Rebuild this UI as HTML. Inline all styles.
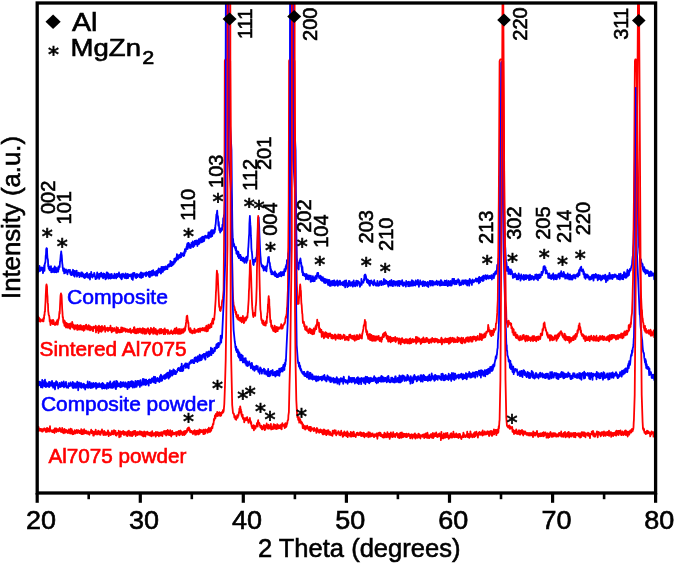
<!DOCTYPE html>
<html><head><meta charset="utf-8"><title>XRD patterns</title>
<style>
html,body{margin:0;padding:0;background:#fff;}
svg{display:block}
text{font-family:"Liberation Sans",Arial,sans-serif;fill:#000;stroke:#000;stroke-width:0.6px}
text.a{font-family:"DejaVu Sans",sans-serif;font-size:22px;text-anchor:middle;stroke:#000;stroke-width:0.7px}
text.b{fill:#0000ff;stroke:#0000ff}
text.r{fill:#ff0000;stroke:#ff0000}
</style></head><body>
<svg width="675" height="564" viewBox="0 0 675 564">
<rect width="675" height="564" fill="#fff"/>
<defs><clipPath id="c"><rect x="37.2" y="3" width="618.4" height="490"/></clipPath></defs>
<g clip-path="url(#c)">
<path d="M37.2,268.5 L37.5,272.6 L37.7,267.8 L38.0,272.6 L38.2,269.0 L38.5,270.1 L38.7,271.7 L39.0,269.2 L39.2,271.1 L39.5,266.0 L39.7,270.6 L40.0,269.1 L40.2,268.7 L40.5,270.8 L40.7,268.6 L41.0,269.0 L41.2,267.4 L41.5,267.6 L41.7,268.0 L42.0,268.6 L42.2,270.1 L42.5,267.7 L42.7,268.6 L43.0,273.1 L43.2,271.5 L43.5,270.3 L43.7,268.5 L44.0,266.7 L44.2,265.3 L44.5,270.8 L44.7,264.5 L45.0,262.8 L45.2,263.0 L45.5,261.0 L45.7,256.0 L46.0,254.5 L46.2,249.2 L46.5,248.2 L46.7,249.1 L47.0,248.5 L47.2,254.2 L47.5,258.7 L47.7,258.7 L48.0,260.4 L48.2,266.5 L48.5,264.8 L48.7,268.6 L49.0,268.6 L49.2,266.6 L49.5,269.5 L49.7,270.3 L50.0,270.1 L50.2,267.7 L50.5,270.1 L50.7,269.2 L51.0,266.2 L51.2,272.1 L51.5,272.0 L51.7,272.3 L52.0,269.0 L52.2,269.9 L52.5,268.6 L52.7,271.1 L53.0,271.6 L53.2,271.8 L53.5,269.8 L53.7,268.2 L54.0,271.5 L54.2,272.3 L54.5,271.4 L54.7,266.3 L55.0,270.2 L55.2,272.2 L55.5,271.1 L55.7,270.9 L56.0,267.6 L56.2,270.1 L56.5,272.4 L56.7,271.5 L57.0,271.3 L57.2,271.0 L57.5,269.9 L57.7,271.6 L58.0,267.7 L58.2,271.8 L58.5,266.5 L58.7,269.6 L59.0,267.6 L59.2,267.0 L59.5,267.2 L59.7,266.9 L60.0,261.5 L60.2,261.3 L60.5,257.8 L60.7,255.2 L61.0,253.3 L61.2,251.4 L61.5,254.6 L61.7,255.0 L62.0,259.2 L62.2,263.0 L62.5,264.8 L62.7,267.6 L63.0,268.9 L63.2,271.0 L63.5,270.1 L63.7,270.0 L64.0,268.5 L64.2,273.4 L64.5,269.6 L64.7,270.0 L65.0,270.1 L65.2,269.6 L65.5,272.8 L65.7,271.5 L66.0,269.5 L66.2,270.3 L66.5,270.6 L66.7,272.3 L67.0,271.1 L67.2,272.6 L67.5,274.3 L67.7,271.7 L68.0,272.2 L68.2,269.8 L68.5,271.6 L68.7,270.8 L69.0,270.1 L69.2,270.9 L69.5,270.6 L69.7,272.1 L70.0,269.8 L70.2,273.8 L70.5,272.0 L70.7,274.1 L71.0,274.9 L71.2,274.1 L71.5,275.2 L71.7,273.8 L72.0,272.0 L72.2,271.7 L72.5,273.2 L72.7,270.6 L73.0,269.8 L73.2,272.3 L73.5,275.3 L73.7,273.0 L74.0,275.8 L74.2,272.5 L74.5,271.0 L74.7,276.7 L75.0,272.9 L75.2,272.9 L75.5,273.8 L75.7,271.1 L76.0,274.5 L76.2,271.5 L76.5,272.6 L76.7,270.7 L77.0,276.7 L77.2,273.2 L77.5,274.7 L77.7,275.3 L78.0,274.8 L78.2,274.6 L78.5,272.7 L78.7,272.7 L79.0,275.5 L79.2,272.8 L79.5,277.2 L79.7,275.8 L80.0,274.0 L80.2,276.0 L80.5,273.9 L80.7,274.6 L81.0,275.4 L81.2,272.3 L81.5,274.4 L81.7,276.5 L82.0,272.4 L82.2,274.4 L82.5,275.5 L82.7,273.2 L83.0,276.3 L83.2,273.8 L83.5,274.7 L83.7,277.4 L84.0,274.6 L84.2,276.5 L84.5,275.8 L84.7,278.2 L85.0,276.7 L85.2,274.2 L85.5,277.1 L85.7,273.9 L86.0,274.8 L86.2,274.2 L86.5,276.9 L86.7,273.2 L87.0,272.8 L87.2,275.8 L87.5,276.9 L87.7,277.5 L88.0,276.9 L88.2,275.4 L88.5,276.2 L88.7,277.2 L89.0,274.2 L89.2,278.2 L89.5,274.8 L89.7,273.9 L90.0,279.5 L90.2,275.4 L90.5,276.7 L90.7,276.0 L91.0,276.5 L91.2,271.9 L91.5,275.3 L91.7,276.9 L92.0,276.0 L92.2,274.7 L92.5,277.7 L92.7,275.2 L93.0,276.0 L93.2,274.7 L93.5,276.2 L93.7,274.5 L94.0,274.4 L94.2,272.8 L94.5,273.7 L94.7,274.4 L95.0,277.2 L95.2,276.4 L95.5,279.1 L95.7,278.5 L96.0,278.3 L96.2,278.3 L96.5,277.9 L96.7,278.6 L97.0,274.2 L97.2,272.4 L97.5,275.3 L97.7,274.4 L98.0,277.3 L98.2,274.6 L98.5,275.8 L98.7,274.5 L99.0,274.0 L99.2,278.9 L99.5,275.7 L99.7,276.6 L100.0,273.7 L100.2,275.8 L100.5,276.6 L100.7,275.1 L101.0,274.7 L101.2,272.6 L101.5,274.6 L101.7,273.8 L102.0,276.2 L102.2,276.1 L102.5,277.6 L102.7,275.0 L103.0,273.8 L103.2,278.3 L103.5,273.5 L103.7,274.1 L104.0,277.3 L104.2,277.3 L104.5,273.8 L104.7,274.4 L105.0,275.3 L105.2,277.4 L105.5,279.4 L105.7,275.8 L106.0,275.1 L106.2,278.7 L106.5,275.9 L106.7,272.3 L107.0,275.4 L107.2,276.5 L107.5,272.6 L107.7,277.6 L108.0,277.8 L108.2,273.4 L108.5,278.6 L108.7,276.3 L109.0,278.3 L109.2,277.3 L109.5,278.1 L109.7,275.1 L110.0,274.2 L110.2,274.7 L110.5,278.1 L110.7,278.5 L111.0,278.3 L111.2,276.4 L111.5,277.7 L111.7,274.0 L112.0,275.3 L112.2,275.7 L112.5,277.9 L112.7,277.7 L113.0,275.9 L113.2,276.5 L113.5,276.9 L113.7,278.0 L114.0,275.2 L114.2,278.3 L114.5,273.7 L114.7,274.6 L115.0,276.6 L115.2,277.2 L115.5,275.2 L115.7,274.8 L116.0,278.1 L116.2,278.4 L116.5,276.1 L116.7,273.9 L117.0,276.2 L117.2,275.2 L117.5,274.1 L117.7,277.0 L118.0,274.1 L118.2,274.4 L118.5,274.1 L118.7,276.2 L119.0,272.5 L119.2,275.6 L119.5,274.1 L119.7,276.0 L120.0,277.3 L120.2,277.2 L120.5,275.2 L120.7,274.9 L121.0,278.7 L121.2,277.9 L121.5,274.1 L121.7,279.3 L122.0,278.3 L122.2,275.0 L122.5,276.1 L122.7,275.0 L123.0,273.6 L123.2,276.6 L123.5,275.4 L123.7,276.2 L124.0,276.1 L124.2,274.9 L124.5,277.8 L124.7,275.0 L125.0,278.1 L125.2,274.8 L125.5,273.4 L125.7,275.6 L126.0,276.5 L126.2,274.1 L126.5,278.4 L126.7,275.4 L127.0,274.2 L127.2,278.0 L127.5,273.8 L127.7,278.2 L128.0,276.3 L128.2,278.0 L128.4,276.5 L128.7,274.3 L128.9,275.4 L129.2,275.0 L129.4,275.9 L129.7,276.1 L129.9,276.0 L130.2,274.7 L130.4,275.4 L130.7,276.0 L130.9,275.8 L131.2,274.4 L131.4,277.6 L131.7,277.0 L131.9,279.1 L132.2,274.1 L132.4,277.7 L132.7,276.6 L132.9,279.9 L133.2,272.9 L133.4,275.6 L133.7,275.9 L133.9,275.4 L134.2,274.3 L134.4,273.0 L134.7,274.3 L134.9,276.2 L135.2,275.4 L135.4,277.6 L135.7,275.2 L135.9,275.1 L136.2,278.2 L136.4,274.2 L136.7,274.9 L136.9,273.8 L137.2,276.0 L137.4,277.0 L137.7,276.7 L137.9,274.6 L138.2,275.4 L138.4,275.4 L138.7,274.8 L138.9,275.5 L139.2,274.3 L139.4,274.9 L139.7,277.3 L139.9,274.6 L140.2,276.1 L140.4,273.4 L140.7,272.8 L140.9,272.4 L141.2,278.0 L141.4,275.3 L141.7,276.8 L141.9,272.8 L142.2,275.2 L142.4,275.5 L142.7,273.3 L142.9,277.3 L143.2,273.4 L143.4,275.8 L143.7,274.8 L143.9,273.5 L144.2,274.3 L144.4,273.9 L144.7,273.8 L144.9,274.4 L145.2,272.9 L145.4,274.7 L145.7,275.8 L145.9,276.2 L146.2,275.7 L146.4,272.2 L146.7,272.7 L146.9,274.3 L147.2,273.1 L147.4,274.2 L147.7,272.9 L147.9,273.7 L148.2,274.9 L148.4,275.6 L148.7,272.0 L148.9,276.5 L149.2,275.4 L149.4,271.7 L149.7,273.2 L149.9,277.2 L150.2,271.7 L150.4,275.7 L150.7,271.9 L150.9,272.5 L151.2,273.8 L151.4,275.5 L151.7,271.7 L151.9,270.8 L152.2,275.5 L152.4,273.9 L152.7,272.2 L152.9,274.7 L153.2,270.1 L153.4,274.3 L153.7,274.9 L153.9,274.6 L154.2,273.3 L154.4,274.2 L154.7,274.5 L154.9,271.9 L155.2,273.8 L155.4,274.7 L155.7,275.6 L155.9,274.1 L156.2,275.4 L156.4,270.8 L156.7,271.6 L156.9,271.4 L157.2,275.7 L157.4,272.2 L157.7,270.6 L157.9,269.9 L158.2,271.0 L158.4,272.9 L158.7,268.3 L158.9,270.3 L159.2,270.6 L159.4,271.5 L159.7,271.6 L159.9,272.1 L160.2,268.9 L160.4,271.5 L160.7,273.1 L160.9,273.5 L161.2,273.2 L161.4,266.8 L161.7,272.3 L161.9,271.5 L162.2,270.3 L162.4,267.0 L162.7,268.6 L162.9,271.8 L163.2,268.8 L163.4,268.6 L163.7,266.8 L163.9,270.3 L164.2,268.7 L164.4,267.1 L164.7,269.6 L164.9,267.3 L165.2,268.3 L165.4,266.5 L165.7,269.4 L165.9,267.1 L166.2,268.5 L166.4,267.7 L166.7,267.7 L166.9,267.1 L167.2,266.3 L167.4,269.2 L167.7,265.2 L167.9,264.9 L168.2,266.9 L168.4,265.7 L168.7,264.3 L168.9,264.4 L169.2,265.1 L169.4,266.5 L169.7,263.8 L169.9,264.4 L170.2,265.9 L170.4,260.9 L170.7,263.8 L170.9,266.1 L171.2,266.1 L171.4,265.5 L171.7,261.9 L171.9,262.8 L172.2,264.5 L172.4,265.4 L172.7,263.1 L172.9,264.6 L173.2,263.7 L173.4,261.7 L173.7,264.2 L173.9,261.5 L174.2,260.5 L174.4,258.6 L174.7,262.4 L174.9,262.6 L175.2,258.9 L175.4,261.2 L175.7,258.2 L175.9,261.0 L176.2,260.4 L176.4,257.1 L176.7,258.0 L176.9,254.1 L177.2,255.2 L177.4,256.8 L177.7,257.4 L177.9,259.6 L178.2,258.2 L178.4,255.7 L178.7,258.2 L178.9,256.1 L179.2,257.2 L179.4,254.6 L179.7,255.6 L179.9,257.8 L180.2,255.0 L180.4,254.8 L180.7,257.2 L180.9,252.8 L181.2,257.2 L181.4,255.1 L181.7,255.3 L181.9,254.7 L182.2,255.1 L182.4,253.3 L182.7,254.6 L182.9,255.3 L183.2,253.9 L183.4,256.1 L183.7,253.1 L183.9,253.0 L184.2,255.6 L184.4,251.3 L184.7,253.6 L184.9,249.2 L185.2,250.6 L185.4,249.2 L185.7,251.6 L185.9,248.8 L186.2,249.4 L186.4,247.6 L186.7,246.2 L186.9,246.1 L187.2,244.8 L187.4,243.3 L187.7,249.0 L187.9,246.3 L188.2,244.3 L188.4,242.8 L188.7,243.4 L188.9,243.3 L189.2,244.7 L189.4,244.7 L189.7,247.8 L189.9,247.4 L190.2,247.7 L190.4,246.9 L190.7,248.1 L190.9,244.6 L191.2,245.6 L191.4,243.0 L191.7,245.2 L191.9,245.2 L192.2,246.5 L192.4,244.1 L192.7,241.3 L192.9,243.9 L193.2,247.1 L193.4,242.4 L193.7,243.4 L193.9,242.7 L194.2,244.9 L194.4,245.9 L194.7,241.0 L194.9,243.3 L195.2,244.3 L195.4,241.2 L195.7,243.4 L195.9,244.2 L196.2,240.5 L196.4,242.6 L196.7,240.7 L196.9,242.8 L197.2,241.2 L197.4,246.0 L197.7,241.3 L197.9,241.6 L198.2,241.8 L198.4,240.2 L198.7,239.2 L198.9,244.0 L199.2,243.8 L199.4,242.4 L199.7,243.2 L199.9,240.7 L200.2,239.5 L200.4,238.2 L200.7,239.4 L200.9,240.3 L201.2,238.9 L201.4,242.2 L201.7,242.3 L201.9,237.1 L202.2,240.2 L202.4,240.3 L202.7,241.9 L202.9,236.7 L203.2,239.3 L203.4,238.0 L203.7,237.3 L203.9,236.9 L204.2,241.0 L204.4,236.3 L204.7,238.7 L204.9,237.7 L205.2,235.7 L205.4,237.2 L205.7,237.1 L205.9,236.7 L206.2,236.1 L206.4,236.1 L206.7,236.5 L206.9,238.0 L207.2,237.8 L207.4,237.0 L207.7,235.3 L207.9,236.6 L208.2,235.3 L208.4,232.5 L208.7,234.8 L208.9,238.4 L209.2,235.6 L209.4,233.1 L209.7,232.4 L209.9,233.9 L210.2,233.8 L210.4,235.8 L210.7,231.1 L210.9,237.0 L211.2,231.5 L211.4,230.2 L211.7,231.8 L211.9,234.2 L212.2,236.2 L212.4,230.1 L212.7,231.9 L212.9,232.1 L213.2,230.4 L213.4,230.2 L213.7,230.6 L213.9,233.6 L214.2,230.8 L214.4,229.9 L214.7,232.3 L214.9,227.9 L215.2,229.6 L215.4,225.3 L215.7,224.1 L215.9,221.4 L216.2,217.4 L216.4,214.3 L216.7,217.8 L216.9,213.3 L217.2,210.7 L217.4,214.4 L217.7,215.5 L217.9,216.1 L218.2,220.3 L218.4,225.6 L218.7,221.8 L218.9,224.0 L219.2,228.8 L219.4,230.3 L219.7,228.7 L219.9,230.7 L220.2,232.6 L220.4,231.8 L220.7,228.5 L220.9,229.4 L221.2,231.1 L221.4,228.7 L221.7,230.2 L221.9,227.9 L222.2,229.9 L222.4,224.7 L222.7,226.1 L222.9,226.3 L223.2,218.2 L223.4,220.7 L223.7,220.5 L223.9,215.2 L224.2,215.8 L224.4,213.6 L224.7,205.8 L224.9,200.0 L225.6,120.0 L225.9,-20.0 L228.5,-20.0 L229.2,110.0 L231.5,150.0 L232.0,200.0 L232.4,228.0 L232.7,237.4 L232.9,238.1 L233.2,240.6 L233.4,244.0 L233.7,243.3 L233.9,246.1 L234.2,244.2 L234.4,246.6 L234.7,247.3 L234.9,247.8 L235.2,247.0 L235.4,248.8 L235.7,250.4 L235.9,246.9 L236.2,249.6 L236.4,253.5 L236.7,253.8 L236.9,250.9 L237.2,254.2 L237.4,251.3 L237.7,253.4 L237.9,256.5 L238.2,251.7 L238.4,252.2 L238.7,253.2 L238.9,258.2 L239.2,257.8 L239.4,255.7 L239.7,256.8 L239.9,255.0 L240.2,256.2 L240.4,254.9 L240.7,260.1 L240.9,260.1 L241.2,257.0 L241.4,256.8 L241.7,260.0 L241.9,258.9 L242.2,258.0 L242.4,260.8 L242.7,260.1 L242.9,259.6 L243.2,257.7 L243.4,261.4 L243.7,260.6 L243.9,258.5 L244.2,261.1 L244.4,262.8 L244.7,259.6 L244.9,258.4 L245.2,259.9 L245.4,260.1 L245.7,261.4 L245.9,261.1 L246.2,257.1 L246.4,262.8 L246.7,261.0 L246.9,258.8 L247.2,256.3 L247.4,260.7 L247.7,257.3 L247.9,256.4 L248.2,248.5 L248.4,246.8 L248.7,241.2 L248.9,237.0 L249.2,233.8 L249.4,224.1 L249.7,218.7 L249.9,215.8 L250.2,222.1 L250.4,224.9 L250.7,228.1 L250.9,235.9 L251.2,240.3 L251.4,248.1 L251.7,251.5 L251.9,252.3 L252.2,255.4 L252.4,258.9 L252.7,260.0 L252.9,261.6 L253.2,264.5 L253.4,262.9 L253.7,265.0 L253.9,261.7 L254.2,259.6 L254.4,261.7 L254.7,261.9 L254.9,261.4 L255.2,261.1 L255.4,261.3 L255.7,257.9 L255.9,259.7 L256.2,259.5 L256.4,258.1 L256.7,255.5 L256.9,250.4 L257.2,248.0 L257.4,243.4 L257.7,235.6 L257.9,226.5 L258.2,224.3 L258.4,217.8 L258.7,217.4 L258.9,222.4 L259.2,226.5 L259.4,233.7 L259.7,240.4 L259.9,245.5 L260.2,252.0 L260.4,255.6 L260.7,258.4 L260.9,262.1 L261.2,264.0 L261.4,264.1 L261.7,266.3 L261.9,266.6 L262.2,265.2 L262.4,265.8 L262.7,267.9 L262.9,265.7 L263.2,268.5 L263.4,268.5 L263.7,270.7 L263.9,266.5 L264.2,268.5 L264.4,269.9 L264.7,269.7 L264.9,268.1 L265.2,269.6 L265.4,270.0 L265.7,270.2 L265.9,266.4 L266.2,266.9 L266.4,271.3 L266.7,268.3 L266.9,265.8 L267.2,266.2 L267.4,264.4 L267.7,262.3 L267.9,260.8 L268.2,257.3 L268.4,257.2 L268.7,259.7 L268.9,256.8 L269.2,261.9 L269.4,262.1 L269.7,262.7 L269.9,263.4 L270.2,268.7 L270.4,266.5 L270.7,271.9 L270.9,268.9 L271.2,270.3 L271.4,274.1 L271.7,272.4 L271.9,274.4 L272.2,273.9 L272.4,271.5 L272.7,272.6 L272.9,273.6 L273.2,274.3 L273.4,273.0 L273.7,274.2 L273.9,273.4 L274.2,273.4 L274.4,275.2 L274.7,272.1 L274.9,271.3 L275.2,276.2 L275.4,274.3 L275.7,273.6 L275.9,273.4 L276.2,273.4 L276.4,275.0 L276.7,277.1 L276.9,275.7 L277.2,274.5 L277.4,275.9 L277.7,274.8 L277.9,277.1 L278.2,276.8 L278.4,275.5 L278.7,273.7 L278.9,276.4 L279.2,273.1 L279.4,275.5 L279.7,274.5 L279.9,275.1 L280.2,275.9 L280.4,272.3 L280.7,274.0 L280.9,271.8 L281.2,272.9 L281.4,276.3 L281.7,274.3 L281.9,273.9 L282.2,272.4 L282.4,274.3 L282.7,273.8 L282.9,275.1 L283.2,271.6 L283.4,271.7 L283.7,272.8 L283.9,275.3 L284.2,272.5 L284.4,269.1 L284.7,269.9 L284.9,271.2 L285.2,269.7 L285.4,271.3 L285.7,266.5 L285.9,269.8 L286.2,264.8 L286.4,267.3 L286.7,268.1 L286.9,260.1 L287.2,261.6 L287.4,263.4 L287.7,262.0 L287.9,260.3 L288.2,253.2 L288.4,253.2 L288.7,251.0 L289.0,245.0 L289.8,150.0 L290.3,-20.0 L292.8,-20.0 L293.5,110.0 L295.6,150.0 L296.2,225.0 L296.9,258.0 L297.2,260.5 L297.4,267.4 L297.7,268.6 L297.9,267.0 L298.2,265.8 L298.4,267.0 L298.7,269.5 L298.9,262.8 L299.2,262.3 L299.4,263.0 L299.7,260.9 L299.9,260.0 L300.2,261.6 L300.4,258.5 L300.7,260.3 L300.9,263.6 L301.2,262.7 L301.4,266.6 L301.7,265.3 L301.9,269.7 L302.2,272.5 L302.4,266.9 L302.7,272.1 L302.9,275.1 L303.2,272.2 L303.4,275.3 L303.7,274.6 L303.9,273.6 L304.2,275.3 L304.4,275.2 L304.7,276.0 L304.9,274.2 L305.2,275.5 L305.4,276.1 L305.7,275.6 L305.9,279.3 L306.2,273.9 L306.4,275.0 L306.7,276.0 L306.9,274.5 L307.2,276.1 L307.4,277.6 L307.7,279.1 L307.9,277.2 L308.2,276.9 L308.4,279.5 L308.7,275.5 L308.9,276.6 L309.2,278.8 L309.4,275.6 L309.7,278.1 L309.9,278.6 L310.2,278.6 L310.4,278.5 L310.7,281.8 L310.9,275.7 L311.2,281.7 L311.4,278.2 L311.7,277.6 L311.9,281.1 L312.2,278.3 L312.4,281.1 L312.7,278.4 L312.9,276.1 L313.2,278.9 L313.4,277.8 L313.7,281.4 L313.9,278.0 L314.2,278.4 L314.4,279.3 L314.7,281.2 L314.9,278.7 L315.2,276.6 L315.4,276.2 L315.7,278.4 L315.9,278.7 L316.2,276.8 L316.4,275.4 L316.7,278.8 L316.9,275.5 L317.2,273.3 L317.4,272.8 L317.7,272.8 L317.9,276.4 L318.2,272.9 L318.4,275.7 L318.7,276.9 L318.9,276.5 L319.2,278.1 L319.4,276.5 L319.7,276.1 L319.9,276.6 L320.2,275.7 L320.4,277.7 L320.7,279.7 L320.9,280.0 L321.2,276.3 L321.4,278.3 L321.7,280.0 L321.9,280.9 L322.2,280.8 L322.4,278.4 L322.7,280.5 L322.9,277.1 L323.2,281.0 L323.4,279.8 L323.7,281.4 L323.9,281.9 L324.2,282.8 L324.4,282.3 L324.7,278.6 L324.9,280.4 L325.2,280.9 L325.4,283.2 L325.7,279.5 L325.9,282.1 L326.2,282.2 L326.4,280.2 L326.7,281.8 L326.9,279.4 L327.2,280.2 L327.4,281.9 L327.7,284.1 L327.9,283.7 L328.2,285.0 L328.4,283.4 L328.7,279.8 L328.9,282.7 L329.2,280.2 L329.4,279.9 L329.7,281.4 L329.9,285.9 L330.2,282.8 L330.4,281.4 L330.7,281.4 L330.9,285.8 L331.2,284.7 L331.4,283.9 L331.7,281.1 L331.9,283.7 L332.2,280.8 L332.4,282.3 L332.7,283.9 L332.9,285.4 L333.2,281.4 L333.4,280.7 L333.7,281.4 L333.9,284.9 L334.2,281.7 L334.4,280.5 L334.7,285.7 L334.9,285.6 L335.2,281.8 L335.4,282.6 L335.7,282.5 L335.9,285.0 L336.2,283.8 L336.4,281.4 L336.7,283.7 L336.9,283.8 L337.2,280.4 L337.4,284.6 L337.7,282.9 L337.9,285.9 L338.2,284.3 L338.4,281.4 L338.7,284.4 L338.9,284.2 L339.2,284.5 L339.4,282.0 L339.7,282.9 L339.9,280.6 L340.2,281.4 L340.4,284.9 L340.7,282.7 L340.9,282.5 L341.2,284.4 L341.4,283.6 L341.7,283.0 L341.9,282.8 L342.2,283.9 L342.4,285.2 L342.7,282.1 L342.9,283.3 L343.2,282.2 L343.4,281.5 L343.7,285.7 L343.9,283.6 L344.2,283.5 L344.4,284.0 L344.7,281.8 L344.9,280.7 L345.2,287.4 L345.4,285.0 L345.7,285.4 L345.9,282.2 L346.2,280.4 L346.4,284.1 L346.7,283.1 L346.9,283.8 L347.2,284.7 L347.4,287.1 L347.7,284.7 L347.9,283.1 L348.2,283.4 L348.4,284.2 L348.7,286.1 L348.9,280.8 L349.2,285.3 L349.4,284.3 L349.7,281.2 L349.9,282.0 L350.2,283.9 L350.4,283.5 L350.7,283.1 L350.9,285.9 L351.2,282.7 L351.4,284.4 L351.7,285.1 L351.9,282.1 L352.2,282.1 L352.4,284.3 L352.7,281.9 L352.9,286.7 L353.2,283.8 L353.4,283.3 L353.7,280.3 L353.9,285.3 L354.2,282.3 L354.4,282.5 L354.7,284.8 L354.9,286.0 L355.2,286.2 L355.4,282.6 L355.7,284.0 L355.9,284.5 L356.2,280.7 L356.4,280.6 L356.7,281.5 L356.9,284.8 L357.2,285.8 L357.4,281.6 L357.7,280.9 L357.9,282.5 L358.2,282.9 L358.4,281.4 L358.7,283.2 L358.9,281.7 L359.2,282.8 L359.4,285.2 L359.7,283.3 L359.9,286.8 L360.2,286.2 L360.4,284.4 L360.7,284.4 L360.9,283.0 L361.2,284.0 L361.4,279.0 L361.7,284.9 L361.9,280.8 L362.2,282.6 L362.4,281.9 L362.7,281.9 L362.9,282.1 L363.2,282.7 L363.4,282.6 L363.7,280.7 L363.9,279.1 L364.2,280.4 L364.4,275.5 L364.7,276.9 L364.9,274.7 L365.2,275.0 L365.4,274.6 L365.7,278.6 L365.9,275.9 L366.2,278.2 L366.4,280.2 L366.7,279.2 L366.9,282.3 L367.2,279.5 L367.4,280.8 L367.7,283.0 L367.9,279.7 L368.2,283.0 L368.4,280.4 L368.7,283.6 L368.9,283.3 L369.2,284.8 L369.4,283.3 L369.7,280.8 L369.9,285.8 L370.2,282.9 L370.4,280.9 L370.7,281.1 L370.9,281.9 L371.2,280.3 L371.4,281.6 L371.7,283.3 L371.9,281.2 L372.2,282.7 L372.4,282.1 L372.7,284.5 L372.9,283.0 L373.2,282.2 L373.4,285.3 L373.7,283.8 L373.9,281.5 L374.2,280.2 L374.4,283.3 L374.7,282.7 L374.9,282.3 L375.2,283.5 L375.4,284.5 L375.7,285.4 L375.9,283.7 L376.2,285.0 L376.4,285.6 L376.7,284.2 L376.9,283.1 L377.2,283.7 L377.4,280.8 L377.7,285.7 L377.9,285.0 L378.2,283.4 L378.4,283.7 L378.7,285.8 L378.9,283.1 L379.2,285.0 L379.4,285.3 L379.7,281.4 L379.9,282.3 L380.2,281.8 L380.4,282.6 L380.7,282.5 L380.9,282.2 L381.2,280.8 L381.4,285.2 L381.7,285.1 L381.9,284.4 L382.2,284.6 L382.4,283.7 L382.7,282.4 L382.9,281.9 L383.2,282.4 L383.4,284.7 L383.7,280.5 L383.9,279.0 L384.2,281.6 L384.4,282.3 L384.7,281.0 L384.9,284.2 L385.2,281.4 L385.4,280.1 L385.7,280.6 L385.9,281.3 L386.2,283.6 L386.4,280.9 L386.7,282.9 L386.9,281.7 L387.2,281.6 L387.4,282.2 L387.7,283.6 L387.9,284.8 L388.2,285.4 L388.4,286.6 L388.7,281.9 L388.9,285.1 L389.2,282.9 L389.4,282.1 L389.7,280.9 L389.9,283.5 L390.2,285.3 L390.4,281.3 L390.7,284.1 L390.9,284.6 L391.2,285.7 L391.4,280.0 L391.7,284.3 L391.9,282.1 L392.2,283.7 L392.4,281.9 L392.7,281.4 L392.9,286.2 L393.2,284.7 L393.4,284.7 L393.7,280.9 L393.9,284.3 L394.2,283.3 L394.4,281.6 L394.7,282.3 L394.9,281.4 L395.2,285.6 L395.4,282.4 L395.7,283.3 L395.9,282.2 L396.2,283.8 L396.4,283.5 L396.7,284.5 L396.9,281.5 L397.2,282.2 L397.4,285.8 L397.7,283.8 L397.9,285.3 L398.2,280.9 L398.4,283.0 L398.7,282.7 L398.9,282.9 L399.2,283.0 L399.4,286.2 L399.7,280.8 L399.9,280.8 L400.2,282.6 L400.4,281.7 L400.7,284.2 L400.9,283.4 L401.2,281.4 L401.4,282.7 L401.7,283.1 L401.9,283.5 L402.2,280.2 L402.4,285.3 L402.7,285.6 L402.9,282.1 L403.2,282.8 L403.4,285.9 L403.7,285.0 L403.9,283.6 L404.2,282.3 L404.4,283.0 L404.7,284.9 L404.9,285.0 L405.2,283.6 L405.4,283.8 L405.7,283.3 L405.9,286.7 L406.2,280.8 L406.4,284.0 L406.7,284.2 L406.9,283.1 L407.2,282.2 L407.4,283.4 L407.7,283.7 L407.9,282.1 L408.2,286.1 L408.4,282.1 L408.7,284.6 L408.9,281.6 L409.2,286.3 L409.4,283.8 L409.7,282.9 L409.9,282.3 L410.2,283.7 L410.4,285.1 L410.7,282.2 L410.9,285.9 L411.2,281.3 L411.4,282.1 L411.7,284.5 L411.9,280.2 L412.2,285.7 L412.4,280.8 L412.7,283.9 L412.9,283.0 L413.2,281.2 L413.4,285.5 L413.7,282.6 L413.9,283.7 L414.2,282.6 L414.4,285.1 L414.7,283.2 L414.9,283.9 L415.2,281.6 L415.4,285.5 L415.7,280.3 L415.9,282.2 L416.2,284.0 L416.4,284.0 L416.7,282.7 L416.9,282.2 L417.2,284.5 L417.4,282.6 L417.7,280.5 L417.9,279.9 L418.2,281.8 L418.4,284.3 L418.7,283.8 L418.9,286.8 L419.2,284.0 L419.4,284.2 L419.7,282.8 L419.9,282.9 L420.2,280.4 L420.4,284.3 L420.7,282.2 L420.9,284.2 L421.2,283.9 L421.4,284.3 L421.7,282.5 L421.9,283.7 L422.2,284.8 L422.4,281.6 L422.7,286.1 L422.9,285.2 L423.2,281.1 L423.4,285.7 L423.7,281.7 L423.9,283.1 L424.2,285.6 L424.4,285.8 L424.7,282.6 L424.9,281.6 L425.2,284.9 L425.4,285.0 L425.7,284.0 L425.9,282.5 L426.2,285.6 L426.4,282.7 L426.7,283.9 L426.9,285.1 L427.2,285.1 L427.4,286.3 L427.7,282.0 L427.9,284.9 L428.2,284.7 L428.4,287.0 L428.7,283.4 L428.9,283.9 L429.2,284.6 L429.4,283.7 L429.7,281.0 L429.9,281.3 L430.2,282.9 L430.4,283.2 L430.7,280.9 L430.9,285.6 L431.2,284.4 L431.4,284.7 L431.7,281.7 L431.9,284.4 L432.2,281.0 L432.4,282.4 L432.7,284.4 L432.9,285.7 L433.2,282.4 L433.4,284.1 L433.7,281.4 L433.9,284.0 L434.2,284.3 L434.4,284.5 L434.7,284.6 L434.9,283.6 L435.2,283.7 L435.4,283.9 L435.7,281.9 L435.9,284.4 L436.2,281.5 L436.4,284.3 L436.7,280.7 L436.9,284.3 L437.2,282.4 L437.4,284.5 L437.7,285.0 L437.9,282.5 L438.2,281.7 L438.4,283.0 L438.7,281.6 L438.9,282.3 L439.2,282.4 L439.4,284.2 L439.7,284.2 L439.9,285.7 L440.2,284.3 L440.4,281.1 L440.7,280.3 L440.9,285.4 L441.2,282.0 L441.4,280.5 L441.7,283.7 L441.9,281.7 L442.2,285.1 L442.4,282.1 L442.7,283.8 L442.9,284.3 L443.2,284.9 L443.4,282.6 L443.7,285.2 L443.9,284.7 L444.2,285.0 L444.4,283.7 L444.7,280.6 L444.9,285.1 L445.2,281.9 L445.4,283.9 L445.7,280.9 L445.9,285.2 L446.2,284.5 L446.4,284.9 L446.7,280.5 L446.9,284.4 L447.2,283.6 L447.4,284.1 L447.7,286.2 L447.9,284.2 L448.2,283.7 L448.4,283.1 L448.7,281.0 L448.9,282.3 L449.2,285.3 L449.4,282.8 L449.7,283.0 L449.9,284.8 L450.2,281.6 L450.4,285.5 L450.7,280.9 L450.9,281.2 L451.2,284.8 L451.4,281.3 L451.7,285.5 L451.9,282.9 L452.2,281.1 L452.4,278.9 L452.7,281.9 L452.9,280.9 L453.2,279.0 L453.4,283.6 L453.7,283.3 L453.9,283.4 L454.2,279.0 L454.4,282.4 L454.7,282.5 L454.9,284.4 L455.2,282.2 L455.4,280.9 L455.7,283.8 L455.9,282.0 L456.2,281.7 L456.4,284.1 L456.7,283.8 L456.9,280.3 L457.2,280.9 L457.4,281.4 L457.7,282.2 L457.9,281.9 L458.2,279.2 L458.4,280.5 L458.7,279.9 L458.9,281.8 L459.2,284.5 L459.4,280.4 L459.7,285.4 L459.9,282.4 L460.2,283.0 L460.4,285.0 L460.7,284.2 L460.9,283.5 L461.2,282.3 L461.4,284.9 L461.7,283.7 L461.9,282.3 L462.2,280.3 L462.4,282.5 L462.7,282.2 L462.9,281.4 L463.2,280.4 L463.4,284.3 L463.7,281.2 L463.9,281.2 L464.2,281.7 L464.4,283.2 L464.7,280.4 L464.9,281.7 L465.2,283.7 L465.4,280.2 L465.7,281.0 L465.9,283.3 L466.2,281.1 L466.4,284.4 L466.7,280.3 L466.9,282.1 L467.2,285.5 L467.4,283.7 L467.7,282.1 L467.9,281.6 L468.2,280.8 L468.4,282.4 L468.7,282.5 L468.9,280.9 L469.2,285.6 L469.4,280.0 L469.7,278.9 L469.9,281.9 L470.2,282.5 L470.4,282.0 L470.7,280.2 L470.9,280.9 L471.2,282.3 L471.4,283.5 L471.7,283.4 L471.9,285.0 L472.2,280.5 L472.4,280.4 L472.7,279.5 L472.9,280.2 L473.2,280.4 L473.4,282.0 L473.7,282.3 L473.9,281.4 L474.2,281.4 L474.4,280.6 L474.7,281.4 L474.9,280.0 L475.2,281.0 L475.4,279.9 L475.7,280.0 L475.9,278.4 L476.2,281.0 L476.4,279.8 L476.7,281.5 L476.9,279.0 L477.2,281.1 L477.4,281.5 L477.7,278.8 L477.9,279.5 L478.2,280.6 L478.4,280.1 L478.7,277.5 L478.9,283.4 L479.2,278.6 L479.4,277.0 L479.7,282.0 L479.9,277.6 L480.2,282.1 L480.4,279.4 L480.7,279.6 L480.9,280.2 L481.2,277.9 L481.4,277.8 L481.7,278.1 L481.9,278.5 L482.2,276.6 L482.4,280.6 L482.7,276.3 L482.9,281.0 L483.2,280.9 L483.4,275.6 L483.7,280.5 L483.9,278.3 L484.2,277.8 L484.4,276.3 L484.7,278.2 L484.9,277.5 L485.2,278.0 L485.4,275.2 L485.7,278.0 L485.9,276.7 L486.2,279.3 L486.4,277.2 L486.7,277.8 L486.9,275.6 L487.2,275.4 L487.4,277.6 L487.7,275.5 L487.9,278.4 L488.2,276.2 L488.4,278.3 L488.7,278.6 L488.9,278.5 L489.2,276.3 L489.4,277.0 L489.7,275.8 L489.9,277.9 L490.2,277.0 L490.4,278.0 L490.7,275.9 L490.9,276.0 L491.2,276.9 L491.4,275.2 L491.7,276.0 L491.9,279.5 L492.2,276.1 L492.4,276.4 L492.7,276.9 L492.9,277.6 L493.2,275.1 L493.4,274.1 L493.7,273.8 L493.9,278.3 L494.2,274.4 L494.4,276.2 L494.7,273.1 L494.9,274.9 L495.2,271.8 L495.4,273.7 L495.7,273.1 L495.9,271.2 L496.2,273.9 L496.4,271.4 L496.7,271.4 L496.9,270.2 L497.2,264.9 L497.4,268.2 L497.7,266.1 L497.9,263.8 L498.2,265.8 L498.4,258.6 L498.7,259.2 L498.9,252.0 L499.2,247.6 L499.4,241.0 L499.8,230.0 L500.6,150.0 L501.5,62.0 L502.6,150.0 L504.6,230.0 L504.9,239.3 L505.2,246.9 L505.4,249.2 L505.7,257.7 L505.9,259.9 L506.2,263.6 L506.4,262.2 L506.7,265.7 L506.9,270.9 L507.2,267.0 L507.4,267.4 L507.7,268.8 L507.9,271.4 L508.2,267.0 L508.4,273.9 L508.7,268.3 L508.9,271.8 L509.2,269.4 L509.4,272.4 L509.7,269.8 L509.9,270.0 L510.2,274.3 L510.4,274.1 L510.7,271.8 L510.9,269.4 L511.2,273.9 L511.4,273.6 L511.7,272.8 L511.9,271.1 L512.2,274.4 L512.5,273.5 L512.7,276.5 L513.0,278.0 L513.2,275.7 L513.5,277.3 L513.7,274.2 L514.0,275.5 L514.2,276.5 L514.5,277.0 L514.7,277.2 L515.0,273.9 L515.2,273.5 L515.5,276.8 L515.7,275.3 L516.0,274.8 L516.2,276.4 L516.5,275.1 L516.7,279.3 L517.0,276.4 L517.2,277.3 L517.5,279.2 L517.7,279.1 L518.0,275.3 L518.2,279.4 L518.5,275.7 L518.7,273.4 L519.0,274.6 L519.2,276.3 L519.5,277.5 L519.7,275.8 L520.0,278.4 L520.2,276.5 L520.5,280.6 L520.7,276.0 L521.0,275.1 L521.2,274.4 L521.5,276.3 L521.7,277.5 L522.0,276.7 L522.2,278.9 L522.5,277.4 L522.7,278.8 L523.0,278.4 L523.2,276.0 L523.5,278.3 L523.7,274.8 L524.0,280.0 L524.2,276.3 L524.5,278.4 L524.7,277.4 L525.0,275.3 L525.2,279.1 L525.5,275.2 L525.7,277.9 L526.0,276.6 L526.2,279.3 L526.5,275.2 L526.7,275.4 L527.0,278.1 L527.2,275.6 L527.5,277.8 L527.7,276.1 L528.0,276.8 L528.2,275.3 L528.5,278.4 L528.7,277.8 L529.0,280.2 L529.2,277.0 L529.5,277.7 L529.7,279.9 L530.0,274.7 L530.2,279.6 L530.5,277.2 L530.7,278.6 L531.0,277.7 L531.2,276.1 L531.5,279.3 L531.7,276.9 L532.0,275.9 L532.2,278.5 L532.5,276.4 L532.7,277.3 L533.0,278.7 L533.2,276.7 L533.5,277.0 L533.7,279.8 L534.0,279.7 L534.2,277.1 L534.5,277.9 L534.7,277.3 L535.0,278.4 L535.2,274.7 L535.5,278.5 L535.7,278.3 L536.0,275.4 L536.2,278.2 L536.5,274.4 L536.7,275.3 L537.0,279.3 L537.2,278.2 L537.5,276.4 L537.7,276.7 L538.0,280.3 L538.2,274.7 L538.5,276.5 L538.7,276.2 L539.0,274.7 L539.2,275.6 L539.5,274.4 L539.7,278.1 L540.0,277.6 L540.2,275.8 L540.5,277.4 L540.7,276.7 L541.0,274.8 L541.2,275.0 L541.5,271.9 L541.7,275.0 L542.0,275.1 L542.2,271.6 L542.5,273.6 L542.7,272.9 L543.0,272.2 L543.2,269.9 L543.5,267.2 L543.7,266.3 L544.0,267.0 L544.2,266.9 L544.5,268.3 L544.7,266.2 L545.0,269.6 L545.2,270.7 L545.5,267.3 L545.7,273.4 L546.0,273.1 L546.2,269.9 L546.5,272.3 L546.7,270.6 L547.0,273.5 L547.2,273.1 L547.5,273.9 L547.7,274.0 L548.0,273.8 L548.2,277.7 L548.5,276.9 L548.7,277.6 L549.0,278.0 L549.2,273.3 L549.5,274.0 L549.7,274.9 L550.0,278.0 L550.2,277.5 L550.5,278.3 L550.7,275.9 L551.0,276.7 L551.2,279.2 L551.5,277.1 L551.7,275.1 L552.0,276.8 L552.2,278.0 L552.5,277.8 L552.7,274.8 L553.0,274.5 L553.2,273.5 L553.5,277.8 L553.7,279.6 L554.0,277.3 L554.2,275.7 L554.5,278.7 L554.7,275.2 L555.0,278.0 L555.2,277.6 L555.5,279.0 L555.7,275.1 L556.0,274.9 L556.2,276.9 L556.5,277.9 L556.7,279.4 L557.0,278.0 L557.2,276.0 L557.5,275.2 L557.7,276.3 L558.0,277.2 L558.2,275.8 L558.5,273.7 L558.7,274.4 L559.0,274.5 L559.2,273.6 L559.5,275.7 L559.7,278.6 L560.0,274.7 L560.2,274.5 L560.5,272.6 L560.7,276.0 L561.0,275.6 L561.2,271.2 L561.5,276.4 L561.7,276.0 L562.0,273.6 L562.2,273.7 L562.5,273.5 L562.7,274.6 L563.0,276.9 L563.2,275.8 L563.5,276.6 L563.7,271.8 L564.0,273.6 L564.2,273.2 L564.5,276.9 L564.7,275.5 L565.0,274.6 L565.2,278.7 L565.5,275.8 L565.7,274.8 L566.0,274.9 L566.2,274.9 L566.5,277.5 L566.7,277.1 L567.0,278.1 L567.2,278.6 L567.5,277.4 L567.7,273.3 L568.0,276.4 L568.2,274.6 L568.5,278.2 L568.7,278.6 L569.0,275.1 L569.2,279.5 L569.5,276.6 L569.7,276.4 L570.0,274.3 L570.2,277.0 L570.5,278.2 L570.7,276.8 L571.0,279.7 L571.2,276.0 L571.5,277.1 L571.7,276.3 L572.0,276.5 L572.2,277.4 L572.5,279.5 L572.7,275.4 L573.0,276.9 L573.2,277.7 L573.5,277.8 L573.7,276.2 L574.0,274.7 L574.2,277.6 L574.5,275.9 L574.7,277.2 L575.0,276.6 L575.2,278.5 L575.5,278.3 L575.7,275.2 L576.0,276.1 L576.2,274.6 L576.5,276.0 L576.7,274.3 L577.0,276.2 L577.2,275.7 L577.5,276.5 L577.7,273.4 L578.0,274.3 L578.2,276.6 L578.5,273.1 L578.7,274.0 L579.0,270.8 L579.2,269.9 L579.5,275.1 L579.7,270.8 L580.0,270.9 L580.2,268.1 L580.5,268.7 L580.7,267.5 L581.0,269.8 L581.2,266.7 L581.5,269.8 L581.7,270.0 L582.0,271.3 L582.2,270.6 L582.5,270.9 L582.7,270.0 L583.0,269.4 L583.2,271.2 L583.5,274.3 L583.7,271.1 L584.0,272.6 L584.2,274.7 L584.5,277.7 L584.7,277.4 L585.0,273.8 L585.2,274.6 L585.5,278.8 L585.7,277.5 L586.0,275.0 L586.2,276.7 L586.5,275.0 L586.7,274.8 L587.0,274.4 L587.2,277.0 L587.5,277.6 L587.7,274.9 L588.0,275.4 L588.2,275.8 L588.5,277.7 L588.7,276.2 L589.0,277.4 L589.2,279.7 L589.5,278.0 L589.7,277.2 L590.0,279.7 L590.2,279.7 L590.5,277.6 L590.7,278.4 L591.0,277.0 L591.2,276.4 L591.5,279.0 L591.7,276.5 L592.0,275.1 L592.2,278.5 L592.5,276.8 L592.7,275.6 L593.0,277.2 L593.2,274.6 L593.5,280.7 L593.7,278.7 L594.0,277.9 L594.2,276.6 L594.5,274.9 L594.7,275.5 L595.0,277.5 L595.2,276.3 L595.5,277.6 L595.7,273.9 L596.0,276.6 L596.2,275.0 L596.5,275.8 L596.7,277.7 L597.0,274.9 L597.2,275.6 L597.5,277.3 L597.7,280.3 L598.0,277.9 L598.2,275.4 L598.5,275.5 L598.7,275.0 L599.0,276.4 L599.2,279.2 L599.5,275.6 L599.7,277.2 L600.0,276.9 L600.2,275.5 L600.5,276.0 L600.7,277.6 L601.0,280.5 L601.2,278.2 L601.5,276.4 L601.7,278.4 L602.0,276.5 L602.2,277.5 L602.5,279.4 L602.7,278.5 L603.0,275.4 L603.2,277.9 L603.5,276.1 L603.7,278.2 L604.0,276.6 L604.2,276.6 L604.5,275.8 L604.7,275.4 L605.0,279.3 L605.2,274.6 L605.5,275.3 L605.7,276.8 L606.0,282.1 L606.2,277.4 L606.5,279.1 L606.7,276.5 L607.0,278.8 L607.2,279.6 L607.5,279.2 L607.7,280.5 L608.0,275.6 L608.2,278.0 L608.5,276.9 L608.7,278.7 L609.0,276.1 L609.2,275.6 L609.5,272.9 L609.7,278.8 L610.0,274.4 L610.2,277.6 L610.5,275.3 L610.7,278.7 L611.0,278.6 L611.2,277.7 L611.5,278.2 L611.7,276.6 L612.0,275.0 L612.2,278.6 L612.5,279.0 L612.7,277.5 L613.0,275.0 L613.2,276.9 L613.5,277.1 L613.7,275.7 L614.0,277.4 L614.2,274.8 L614.5,275.9 L614.7,274.5 L615.0,276.7 L615.2,275.2 L615.5,275.0 L615.7,274.6 L616.0,277.0 L616.2,275.8 L616.5,275.9 L616.7,277.7 L617.0,276.0 L617.2,278.9 L617.5,276.8 L617.7,276.6 L618.0,275.7 L618.2,277.6 L618.5,275.9 L618.7,279.1 L619.0,273.8 L619.2,275.3 L619.5,275.5 L619.7,278.4 L620.0,279.7 L620.2,276.9 L620.5,277.9 L620.7,273.7 L621.0,277.8 L621.2,275.3 L621.5,275.3 L621.7,278.6 L622.0,277.4 L622.2,279.1 L622.5,277.0 L622.7,275.0 L623.0,276.1 L623.2,279.3 L623.5,277.9 L623.7,276.6 L624.0,272.1 L624.2,277.1 L624.5,276.7 L624.7,272.5 L625.0,274.2 L625.2,275.8 L625.5,273.8 L625.7,277.8 L626.0,276.0 L626.2,273.8 L626.5,277.6 L626.7,276.3 L627.0,273.5 L627.2,271.1 L627.5,269.7 L627.7,273.8 L628.0,276.0 L628.2,270.8 L628.5,271.0 L628.7,271.9 L629.0,275.2 L629.2,270.8 L629.5,272.1 L629.7,271.0 L630.0,269.0 L630.2,270.0 L630.5,270.5 L630.7,269.2 L631.0,267.7 L631.2,267.3 L631.5,266.2 L631.7,265.4 L632.0,264.8 L632.2,261.7 L632.5,258.6 L632.7,256.5 L633.0,255.5 L633.2,247.5 L633.5,243.5 L633.7,236.7 L634.0,225.0 L635.0,150.0 L636.0,88.0 L637.0,150.0 L638.2,225.0 L638.5,235.0 L638.7,239.0 L639.0,247.0 L639.2,248.0 L639.5,252.3 L639.7,253.8 L640.0,257.8 L640.2,259.9 L640.5,261.5 L640.7,262.5 L641.0,259.4 L641.2,261.2 L641.5,263.1 L641.7,263.2 L642.0,263.5 L642.2,266.5 L642.5,263.9 L642.7,264.7 L643.0,269.7 L643.2,268.8 L643.5,271.1 L643.7,269.0 L644.0,270.9 L644.2,267.1 L644.5,272.1 L644.7,268.9 L645.0,271.7 L645.2,270.8 L645.5,273.9 L645.7,271.5 L646.0,269.9 L646.2,270.8 L646.5,270.8 L646.7,272.1 L647.0,273.0 L647.2,272.3 L647.5,272.0 L647.7,270.4 L648.0,273.4 L648.2,271.5 L648.5,272.2 L648.7,273.8 L649.0,276.2 L649.2,274.4 L649.5,275.7 L649.7,276.0 L650.0,276.0 L650.2,271.6 L650.5,274.4 L650.7,271.3 L651.0,274.9 L651.2,274.3 L651.5,275.8 L651.7,272.2 L652.0,273.4 L652.2,273.9 L652.5,273.4 L652.7,275.5 L653.0,275.0 L653.2,273.6 L653.5,274.0 L653.7,273.3 L654.0,273.8 L654.2,279.3 L654.5,277.1 L654.7,277.3 L655.0,276.5 L655.2,275.0 L655.5,274.2" fill="none" stroke="#0000ff" stroke-width="1.8" stroke-linejoin="round"/>
<path d="M37.2,318.2 L37.5,318.4 L37.7,320.8 L38.0,316.3 L38.2,318.4 L38.5,321.1 L38.7,318.5 L39.0,317.6 L39.2,319.2 L39.5,321.4 L39.7,319.0 L40.0,318.9 L40.2,320.9 L40.5,321.6 L40.7,320.1 L41.0,321.2 L41.2,320.8 L41.5,320.3 L41.7,320.3 L42.0,319.7 L42.2,319.4 L42.5,319.3 L42.7,321.2 L43.0,321.3 L43.2,320.0 L43.5,321.4 L43.7,317.6 L44.0,318.9 L44.2,315.0 L44.5,315.2 L44.7,311.8 L45.0,311.6 L45.2,306.8 L45.5,302.1 L45.7,296.2 L46.0,290.4 L46.2,286.0 L46.5,284.4 L46.7,285.3 L47.0,286.6 L47.2,293.7 L47.5,296.5 L47.7,302.4 L48.0,304.2 L48.2,311.0 L48.5,312.8 L48.7,314.8 L49.0,315.5 L49.2,315.9 L49.5,318.1 L49.7,321.4 L50.0,321.3 L50.2,321.6 L50.5,325.1 L50.7,320.1 L51.0,322.8 L51.2,322.4 L51.5,322.7 L51.7,323.3 L52.0,320.4 L52.2,320.2 L52.5,321.8 L52.7,324.1 L53.0,320.1 L53.2,320.0 L53.5,323.9 L53.7,320.8 L54.0,324.1 L54.2,324.0 L54.5,324.4 L54.7,324.1 L55.0,325.0 L55.2,324.9 L55.5,323.2 L55.7,322.8 L56.0,324.5 L56.2,323.5 L56.5,321.6 L56.7,323.1 L57.0,321.4 L57.2,320.1 L57.5,321.5 L57.7,324.6 L58.0,322.4 L58.2,319.8 L58.5,320.1 L58.7,318.2 L59.0,318.2 L59.2,314.3 L59.5,311.5 L59.7,313.7 L60.0,306.4 L60.2,302.0 L60.5,296.2 L60.7,294.6 L61.0,293.3 L61.2,296.4 L61.5,294.9 L61.7,298.0 L62.0,304.9 L62.2,309.2 L62.5,312.9 L62.7,317.1 L63.0,317.0 L63.2,321.4 L63.5,322.8 L63.7,319.9 L64.0,320.6 L64.2,323.5 L64.5,325.9 L64.7,321.0 L65.0,321.9 L65.2,323.3 L65.5,325.6 L65.7,326.8 L66.0,327.5 L66.2,326.6 L66.5,322.8 L66.7,327.4 L67.0,324.3 L67.2,323.6 L67.5,324.1 L67.7,327.6 L68.0,325.9 L68.2,324.3 L68.5,326.2 L68.7,327.7 L69.0,323.8 L69.2,326.0 L69.5,325.4 L69.7,328.3 L70.0,326.3 L70.2,328.9 L70.5,323.4 L70.7,327.6 L71.0,325.9 L71.2,325.9 L71.5,324.5 L71.7,325.7 L72.0,325.1 L72.2,321.9 L72.5,323.9 L72.7,327.5 L73.0,326.4 L73.2,324.8 L73.5,324.7 L73.7,326.9 L74.0,328.9 L74.2,325.3 L74.5,329.4 L74.7,328.7 L75.0,325.3 L75.2,325.9 L75.5,325.5 L75.7,328.5 L76.0,325.3 L76.2,326.0 L76.5,327.1 L76.7,328.2 L77.0,327.4 L77.2,330.0 L77.5,324.9 L77.7,325.9 L78.0,326.9 L78.2,327.3 L78.5,329.3 L78.7,328.4 L79.0,326.0 L79.2,329.6 L79.5,327.0 L79.7,326.3 L80.0,327.7 L80.2,325.1 L80.5,327.8 L80.7,329.5 L81.0,325.4 L81.2,328.4 L81.5,328.5 L81.7,326.8 L82.0,329.9 L82.2,329.2 L82.5,328.7 L82.7,326.2 L83.0,326.4 L83.2,325.8 L83.5,327.9 L83.7,330.8 L84.0,325.9 L84.2,328.9 L84.5,329.0 L84.7,329.8 L85.0,326.3 L85.2,328.1 L85.5,326.6 L85.7,325.2 L86.0,328.4 L86.2,324.6 L86.5,328.5 L86.7,327.7 L87.0,328.0 L87.2,329.7 L87.5,326.4 L87.7,327.4 L88.0,326.0 L88.2,328.0 L88.5,327.2 L88.7,325.2 L89.0,329.8 L89.2,328.8 L89.5,326.6 L89.7,329.0 L90.0,326.2 L90.2,330.4 L90.5,329.2 L90.7,326.6 L91.0,327.7 L91.2,329.6 L91.5,329.6 L91.7,327.3 L92.0,327.1 L92.2,329.5 L92.5,327.4 L92.7,330.9 L93.0,329.0 L93.2,331.1 L93.5,326.7 L93.7,328.5 L94.0,327.6 L94.2,328.1 L94.5,328.0 L94.7,327.0 L95.0,327.7 L95.2,326.3 L95.5,327.5 L95.7,325.6 L96.0,332.4 L96.2,328.5 L96.5,329.1 L96.7,329.0 L97.0,327.2 L97.2,328.1 L97.5,330.4 L97.7,327.5 L98.0,329.3 L98.2,326.5 L98.5,333.0 L98.7,331.3 L99.0,325.7 L99.2,328.2 L99.5,328.4 L99.7,327.2 L100.0,327.9 L100.2,331.4 L100.5,329.3 L100.7,326.9 L101.0,329.7 L101.2,327.5 L101.5,331.8 L101.7,326.1 L102.0,326.0 L102.2,328.3 L102.5,328.7 L102.7,330.7 L103.0,327.8 L103.2,327.4 L103.5,327.9 L103.7,328.6 L104.0,329.3 L104.2,328.8 L104.5,327.3 L104.7,325.8 L105.0,327.6 L105.2,331.8 L105.5,329.7 L105.7,328.7 L106.0,330.1 L106.2,328.1 L106.5,328.1 L106.7,328.2 L107.0,329.8 L107.2,330.1 L107.5,330.1 L107.7,327.6 L108.0,331.3 L108.2,328.9 L108.5,328.1 L108.7,329.9 L109.0,329.8 L109.2,327.8 L109.5,327.9 L109.7,327.6 L110.0,329.5 L110.2,330.4 L110.5,325.7 L110.7,328.8 L111.0,329.2 L111.2,328.8 L111.5,328.0 L111.7,332.3 L112.0,329.2 L112.2,327.9 L112.5,331.2 L112.7,331.2 L113.0,329.9 L113.2,331.1 L113.5,329.2 L113.7,330.3 L114.0,328.5 L114.2,328.0 L114.5,328.7 L114.7,330.8 L115.0,330.3 L115.2,330.3 L115.5,329.9 L115.7,330.0 L116.0,330.3 L116.2,332.9 L116.5,327.1 L116.7,331.7 L117.0,329.8 L117.2,332.8 L117.5,329.5 L117.7,331.0 L118.0,328.0 L118.2,328.7 L118.5,329.5 L118.7,331.4 L119.0,332.3 L119.2,329.8 L119.5,332.1 L119.7,332.4 L120.0,330.2 L120.2,332.3 L120.5,329.6 L120.7,330.8 L121.0,330.5 L121.2,327.4 L121.5,332.1 L121.7,327.9 L122.0,331.7 L122.2,329.6 L122.5,331.8 L122.7,327.6 L123.0,330.4 L123.2,330.4 L123.5,328.8 L123.7,330.8 L124.0,328.8 L124.2,328.4 L124.5,329.8 L124.7,330.7 L125.0,328.9 L125.2,328.7 L125.5,330.5 L125.7,331.8 L126.0,329.3 L126.2,329.4 L126.5,329.1 L126.7,330.5 L127.0,329.9 L127.2,331.1 L127.5,329.4 L127.7,331.3 L128.0,332.0 L128.2,331.5 L128.4,329.9 L128.7,331.2 L128.9,330.4 L129.2,331.9 L129.4,329.6 L129.7,329.5 L129.9,332.0 L130.2,328.7 L130.4,329.2 L130.7,331.2 L130.9,332.8 L131.2,332.9 L131.4,330.6 L131.7,330.6 L131.9,331.9 L132.2,331.0 L132.4,331.3 L132.7,330.0 L132.9,329.9 L133.2,329.7 L133.4,332.3 L133.7,330.3 L133.9,327.4 L134.2,331.3 L134.4,327.2 L134.7,331.8 L134.9,333.0 L135.2,333.2 L135.4,329.7 L135.7,332.0 L135.9,329.4 L136.2,330.8 L136.4,331.1 L136.7,333.4 L136.9,329.2 L137.2,331.1 L137.4,330.5 L137.7,331.3 L137.9,328.7 L138.2,330.3 L138.4,332.9 L138.7,329.5 L138.9,330.7 L139.2,328.8 L139.4,331.2 L139.7,332.0 L139.9,328.3 L140.2,328.7 L140.4,331.6 L140.7,331.8 L140.9,330.1 L141.2,333.0 L141.4,330.4 L141.7,329.2 L141.9,331.1 L142.2,328.7 L142.4,331.8 L142.7,328.2 L142.9,333.5 L143.2,331.5 L143.4,328.9 L143.7,328.6 L143.9,332.1 L144.2,329.5 L144.4,328.9 L144.7,329.0 L144.9,333.9 L145.2,330.8 L145.4,333.3 L145.7,329.3 L145.9,331.4 L146.2,333.6 L146.4,332.9 L146.7,333.0 L146.9,330.7 L147.2,328.9 L147.4,330.8 L147.7,328.5 L147.9,330.5 L148.2,328.4 L148.4,329.5 L148.7,332.1 L148.9,333.3 L149.2,330.3 L149.4,332.1 L149.7,334.3 L149.9,329.9 L150.2,330.6 L150.4,333.5 L150.7,331.6 L150.9,327.8 L151.2,332.4 L151.4,330.3 L151.7,328.9 L151.9,330.7 L152.2,331.1 L152.4,331.0 L152.7,332.9 L152.9,329.2 L153.2,333.9 L153.4,330.4 L153.7,332.4 L153.9,327.7 L154.2,332.8 L154.4,331.5 L154.7,329.5 L154.9,329.8 L155.2,333.7 L155.4,332.2 L155.7,329.0 L155.9,333.8 L156.2,331.8 L156.4,332.6 L156.7,331.0 L156.9,330.4 L157.2,334.6 L157.4,331.2 L157.7,333.9 L157.9,331.5 L158.2,331.9 L158.4,330.3 L158.7,331.6 L158.9,331.8 L159.2,329.5 L159.4,332.2 L159.7,329.2 L159.9,333.6 L160.2,329.1 L160.4,330.8 L160.7,332.2 L160.9,333.1 L161.2,328.8 L161.4,333.3 L161.7,330.5 L161.9,331.1 L162.2,331.5 L162.4,332.4 L162.7,329.9 L162.9,330.5 L163.2,332.2 L163.4,330.1 L163.7,334.2 L163.9,332.1 L164.2,329.6 L164.4,329.0 L164.7,328.4 L164.9,330.5 L165.2,334.1 L165.4,330.3 L165.7,330.4 L165.9,329.8 L166.2,330.9 L166.4,332.2 L166.7,331.3 L166.9,330.4 L167.2,332.2 L167.4,330.8 L167.7,333.8 L167.9,330.0 L168.2,330.4 L168.4,331.2 L168.7,332.1 L168.9,333.5 L169.2,332.3 L169.4,332.1 L169.7,333.8 L169.9,332.8 L170.2,333.0 L170.4,333.3 L170.7,332.1 L170.9,331.4 L171.2,330.3 L171.4,333.0 L171.7,331.8 L171.9,332.7 L172.2,332.9 L172.4,332.1 L172.7,334.2 L172.9,332.5 L173.2,331.1 L173.4,331.5 L173.7,333.2 L173.9,330.2 L174.2,333.1 L174.4,332.8 L174.7,328.7 L174.9,329.8 L175.2,328.9 L175.4,333.7 L175.7,330.0 L175.9,332.6 L176.2,331.5 L176.4,327.7 L176.7,330.4 L176.9,331.0 L177.2,333.5 L177.4,332.0 L177.7,329.8 L177.9,333.6 L178.2,331.2 L178.4,329.1 L178.7,333.8 L178.9,333.6 L179.2,329.8 L179.4,329.5 L179.7,332.7 L179.9,328.8 L180.2,333.9 L180.4,331.4 L180.7,332.1 L180.9,331.2 L181.2,333.3 L181.4,330.5 L181.7,333.3 L181.9,329.2 L182.2,331.3 L182.4,332.0 L182.7,329.9 L182.9,329.3 L183.2,332.7 L183.4,332.4 L183.7,329.0 L183.9,331.8 L184.2,328.4 L184.4,329.2 L184.7,330.5 L184.9,330.8 L185.2,329.9 L185.4,326.1 L185.7,327.0 L185.9,323.7 L186.2,321.9 L186.4,320.2 L186.7,316.1 L186.9,317.1 L187.2,315.6 L187.4,317.0 L187.7,320.3 L187.9,320.6 L188.2,323.6 L188.4,322.5 L188.7,328.2 L188.9,329.8 L189.2,328.5 L189.4,330.5 L189.7,331.5 L189.9,329.4 L190.2,332.3 L190.4,328.1 L190.7,329.8 L190.9,332.5 L191.2,331.8 L191.4,332.7 L191.7,330.5 L191.9,331.1 L192.2,333.4 L192.4,331.6 L192.7,333.3 L192.9,330.7 L193.2,332.7 L193.4,331.1 L193.7,332.7 L193.9,330.7 L194.2,331.6 L194.4,328.7 L194.7,330.9 L194.9,333.2 L195.2,329.9 L195.4,331.4 L195.7,330.9 L195.9,330.5 L196.2,330.9 L196.4,331.9 L196.7,330.2 L196.9,330.3 L197.2,329.6 L197.4,331.7 L197.7,331.6 L197.9,329.8 L198.2,328.8 L198.4,332.0 L198.7,329.0 L198.9,331.1 L199.2,329.7 L199.4,330.4 L199.7,331.6 L199.9,328.3 L200.2,331.9 L200.4,330.7 L200.7,328.6 L200.9,329.4 L201.2,329.6 L201.4,329.7 L201.7,330.0 L201.9,328.3 L202.2,330.4 L202.4,329.9 L202.7,327.9 L202.9,329.5 L203.2,329.1 L203.4,330.0 L203.7,328.5 L203.9,328.7 L204.2,330.6 L204.4,330.7 L204.7,328.7 L204.9,327.8 L205.2,330.5 L205.4,327.5 L205.7,328.3 L205.9,329.6 L206.2,331.4 L206.4,325.6 L206.7,326.6 L206.9,331.4 L207.2,326.6 L207.4,327.1 L207.7,329.4 L207.9,331.0 L208.2,328.1 L208.4,324.6 L208.7,327.8 L208.9,327.9 L209.2,325.1 L209.4,327.1 L209.7,328.3 L209.9,326.4 L210.2,325.5 L210.4,327.0 L210.7,323.7 L210.9,324.4 L211.2,326.5 L211.4,327.2 L211.7,323.2 L211.9,322.6 L212.2,320.7 L212.4,322.4 L212.7,318.7 L212.9,319.5 L213.2,323.8 L213.4,319.3 L213.7,318.8 L213.9,319.2 L214.2,319.8 L214.4,316.7 L214.7,314.0 L214.9,311.4 L215.2,306.4 L215.4,303.8 L215.7,299.0 L215.9,292.8 L216.2,289.0 L216.4,281.5 L216.7,274.0 L216.9,270.6 L217.2,272.9 L217.4,275.3 L217.7,273.9 L217.9,279.2 L218.2,285.8 L218.4,291.2 L218.7,296.3 L218.9,301.7 L219.2,307.0 L219.4,306.9 L219.7,308.0 L219.9,310.4 L220.2,310.4 L220.4,311.0 L220.7,310.4 L220.9,309.2 L221.2,306.6 L221.4,308.0 L221.7,306.2 L221.9,303.2 L222.2,300.7 L222.4,300.0 L222.7,299.6 L222.9,298.4 L223.2,295.0 L223.6,290.0 L224.4,200.0 L224.8,61.0 L225.5,59.5 L229.4,59.5 L230.2,61.0 L231.2,200.0 L232.6,285.0 L232.9,293.6 L233.2,300.1 L233.4,302.7 L233.7,305.3 L233.9,306.2 L234.2,306.6 L234.4,306.7 L234.7,308.6 L234.9,310.3 L235.2,310.0 L235.4,312.6 L235.7,312.4 L235.9,314.3 L236.2,311.9 L236.4,316.7 L236.7,314.4 L236.9,317.2 L237.2,316.0 L237.4,318.8 L237.7,317.2 L237.9,317.5 L238.2,315.2 L238.4,319.8 L238.7,319.5 L238.9,317.9 L239.2,318.5 L239.4,319.1 L239.7,318.0 L239.9,320.2 L240.2,321.0 L240.4,317.6 L240.7,319.0 L240.9,317.6 L241.2,317.7 L241.4,319.5 L241.7,322.4 L241.9,319.3 L242.2,318.1 L242.4,321.4 L242.7,320.6 L242.9,316.0 L243.2,321.5 L243.4,321.0 L243.7,320.1 L243.9,323.1 L244.2,322.6 L244.4,318.1 L244.7,320.4 L244.9,319.2 L245.2,317.3 L245.4,318.5 L245.7,320.6 L245.9,318.3 L246.2,319.8 L246.4,318.9 L246.7,318.1 L246.9,316.6 L247.2,316.0 L247.4,317.7 L247.7,312.6 L247.9,312.6 L248.2,306.3 L248.4,304.0 L248.7,299.2 L248.9,291.4 L249.2,287.8 L249.4,279.5 L249.7,273.3 L249.9,263.6 L250.2,260.4 L250.4,264.3 L250.7,266.7 L250.9,270.8 L251.2,278.9 L251.4,286.5 L251.7,294.1 L251.9,300.1 L252.2,306.4 L252.4,309.0 L252.7,311.2 L252.9,314.7 L253.2,316.1 L253.4,317.0 L253.7,313.5 L253.9,313.1 L254.2,314.0 L254.4,315.5 L254.7,312.8 L254.9,312.7 L255.2,315.9 L255.4,311.9 L255.7,306.0 L255.9,305.5 L256.2,301.2 L256.4,295.3 L256.7,286.5 L256.9,271.5 L257.2,259.8 L257.4,242.5 L257.7,229.8 L257.9,220.7 L258.2,216.0 L258.4,221.9 L258.7,232.5 L258.9,244.3 L259.2,260.5 L259.4,272.8 L259.7,286.1 L259.9,293.8 L260.2,304.4 L260.4,309.6 L260.7,311.7 L260.9,313.3 L261.2,318.6 L261.4,320.2 L261.7,319.0 L261.9,320.2 L262.2,323.0 L262.4,323.4 L262.7,323.5 L262.9,321.9 L263.2,324.7 L263.4,320.7 L263.7,324.9 L263.9,324.8 L264.2,323.4 L264.4,322.6 L264.7,325.4 L264.9,323.2 L265.2,325.4 L265.4,323.9 L265.7,325.6 L265.9,321.2 L266.2,323.6 L266.4,321.9 L266.7,323.2 L266.9,316.5 L267.2,317.9 L267.4,313.1 L267.7,312.4 L267.9,304.5 L268.2,304.6 L268.4,299.2 L268.7,296.1 L268.9,299.2 L269.2,299.1 L269.4,306.4 L269.7,308.9 L269.9,313.6 L270.2,319.5 L270.4,322.2 L270.7,320.8 L270.9,320.3 L271.2,326.6 L271.4,326.0 L271.7,325.4 L271.9,326.8 L272.2,328.7 L272.4,325.7 L272.7,327.9 L272.9,329.5 L273.2,330.9 L273.4,328.4 L273.7,328.1 L273.9,328.6 L274.2,331.4 L274.4,330.6 L274.7,325.7 L274.9,330.4 L275.2,329.9 L275.4,332.2 L275.7,330.8 L275.9,327.4 L276.2,331.6 L276.4,326.9 L276.7,330.5 L276.9,329.6 L277.2,327.9 L277.4,330.3 L277.7,331.1 L277.9,327.1 L278.2,328.3 L278.4,329.1 L278.7,328.4 L278.9,328.5 L279.2,327.7 L279.4,327.6 L279.7,328.3 L279.9,328.7 L280.2,327.8 L280.4,326.6 L280.7,326.6 L280.9,326.5 L281.2,324.1 L281.4,325.2 L281.7,325.3 L281.9,328.8 L282.2,325.4 L282.4,326.1 L282.7,328.2 L282.9,325.4 L283.2,325.9 L283.4,325.0 L283.7,325.0 L283.9,324.1 L284.2,324.3 L284.4,322.9 L284.7,323.5 L284.9,322.7 L285.2,321.5 L285.4,318.2 L285.7,317.6 L285.9,316.4 L286.2,317.8 L286.4,314.9 L286.7,313.7 L286.9,308.9 L287.2,306.3 L287.4,301.4 L287.7,293.9 L287.9,290.0 L288.7,200.0 L289.1,61.0 L289.8,59.5 L293.7,59.5 L294.5,61.0 L295.5,200.0 L296.9,285.0 L297.2,291.1 L297.4,299.6 L297.7,302.3 L297.9,304.2 L298.2,302.3 L298.4,303.3 L298.7,303.6 L298.9,299.7 L299.2,296.0 L299.4,295.6 L299.7,291.3 L299.9,287.0 L300.2,284.5 L300.4,286.3 L300.7,291.4 L300.9,290.7 L301.2,299.8 L301.4,303.7 L301.7,305.2 L301.9,308.7 L302.2,313.4 L302.4,313.8 L302.7,319.2 L302.9,322.9 L303.2,322.5 L303.4,321.4 L303.7,322.8 L303.9,321.9 L304.2,326.3 L304.4,324.2 L304.7,325.1 L304.9,327.0 L305.2,329.7 L305.4,328.3 L305.7,329.5 L305.9,330.0 L306.2,328.0 L306.4,329.1 L306.7,326.3 L306.9,329.6 L307.2,331.3 L307.4,331.0 L307.7,330.3 L307.9,331.4 L308.2,331.4 L308.4,333.1 L308.7,329.8 L308.9,332.2 L309.2,328.8 L309.4,332.4 L309.7,328.5 L309.9,330.5 L310.2,332.4 L310.4,333.0 L310.7,329.1 L310.9,332.5 L311.2,331.7 L311.4,333.6 L311.7,332.4 L311.9,329.8 L312.2,333.8 L312.4,334.2 L312.7,332.2 L312.9,329.8 L313.2,333.3 L313.4,332.1 L313.7,328.5 L313.9,334.0 L314.2,333.2 L314.4,330.4 L314.7,331.1 L314.9,330.2 L315.2,329.3 L315.4,327.0 L315.7,325.9 L315.9,328.1 L316.2,329.2 L316.4,324.7 L316.7,325.8 L316.9,324.6 L317.2,319.7 L317.4,322.0 L317.7,322.6 L317.9,322.4 L318.2,322.3 L318.4,322.5 L318.7,327.8 L318.9,322.7 L319.2,327.6 L319.4,331.8 L319.7,328.7 L319.9,328.5 L320.2,332.1 L320.4,329.2 L320.7,330.0 L320.9,331.5 L321.2,332.7 L321.4,330.0 L321.7,336.9 L321.9,332.6 L322.2,333.6 L322.4,333.1 L322.7,333.3 L322.9,331.9 L323.2,336.5 L323.4,333.3 L323.7,333.9 L323.9,338.3 L324.2,335.7 L324.4,337.3 L324.7,332.8 L324.9,334.9 L325.2,335.4 L325.4,332.1 L325.7,334.9 L325.9,332.5 L326.2,336.9 L326.4,332.7 L326.7,336.3 L326.9,333.7 L327.2,337.1 L327.4,334.7 L327.7,333.6 L327.9,334.2 L328.2,338.2 L328.4,333.7 L328.7,334.2 L328.9,334.4 L329.2,333.6 L329.4,334.8 L329.7,335.4 L329.9,336.4 L330.2,333.5 L330.4,336.3 L330.7,335.3 L330.9,334.9 L331.2,334.6 L331.4,338.2 L331.7,337.3 L331.9,336.3 L332.2,338.6 L332.4,335.0 L332.7,336.9 L332.9,335.7 L333.2,338.4 L333.4,337.0 L333.7,337.4 L333.9,336.3 L334.2,337.8 L334.4,335.1 L334.7,335.9 L334.9,334.3 L335.2,338.4 L335.4,339.2 L335.7,339.8 L335.9,335.2 L336.2,337.9 L336.4,335.9 L336.7,336.3 L336.9,336.9 L337.2,337.0 L337.4,337.0 L337.7,338.2 L337.9,337.9 L338.2,334.3 L338.4,338.6 L338.7,337.6 L338.9,338.3 L339.2,335.8 L339.4,335.8 L339.7,337.4 L339.9,334.7 L340.2,334.7 L340.4,339.1 L340.7,335.2 L340.9,335.1 L341.2,338.1 L341.4,337.7 L341.7,338.4 L341.9,336.6 L342.2,338.2 L342.4,338.6 L342.7,336.8 L342.9,338.2 L343.2,335.6 L343.4,337.1 L343.7,334.7 L343.9,337.7 L344.2,335.8 L344.4,336.4 L344.7,335.3 L344.9,340.0 L345.2,338.9 L345.4,337.4 L345.7,339.0 L345.9,337.4 L346.2,339.7 L346.4,339.5 L346.7,336.7 L346.9,337.9 L347.2,339.4 L347.4,337.0 L347.7,338.2 L347.9,339.1 L348.2,340.4 L348.4,338.5 L348.7,340.2 L348.9,337.7 L349.2,335.0 L349.4,335.7 L349.7,337.0 L349.9,334.6 L350.2,337.2 L350.4,334.7 L350.7,337.6 L350.9,335.9 L351.2,338.4 L351.4,337.5 L351.7,336.2 L351.9,338.4 L352.2,338.7 L352.4,338.9 L352.7,336.0 L352.9,337.7 L353.2,337.1 L353.4,337.4 L353.7,339.6 L353.9,338.0 L354.2,335.4 L354.4,337.6 L354.7,337.2 L354.9,340.8 L355.2,336.8 L355.4,337.9 L355.7,337.5 L355.9,338.7 L356.2,337.4 L356.4,335.1 L356.7,339.8 L356.9,336.4 L357.2,339.1 L357.4,335.1 L357.7,335.5 L357.9,339.1 L358.2,337.9 L358.4,339.1 L358.7,339.0 L358.9,336.7 L359.2,337.0 L359.4,338.8 L359.7,334.5 L359.9,337.3 L360.2,336.6 L360.4,337.8 L360.7,335.6 L360.9,336.0 L361.2,337.0 L361.4,336.9 L361.7,336.8 L361.9,338.6 L362.2,333.5 L362.4,334.2 L362.7,332.0 L362.9,331.4 L363.2,329.6 L363.4,328.9 L363.7,325.7 L363.9,326.1 L364.2,324.5 L364.4,324.7 L364.7,321.9 L364.9,319.8 L365.2,323.3 L365.4,323.6 L365.7,321.9 L365.9,328.7 L366.2,332.3 L366.4,329.9 L366.7,330.8 L366.9,334.6 L367.2,331.4 L367.4,333.7 L367.7,336.2 L367.9,336.6 L368.2,338.9 L368.4,334.5 L368.7,335.7 L368.9,336.9 L369.2,338.8 L369.4,338.8 L369.7,335.7 L369.9,333.9 L370.2,340.2 L370.4,336.1 L370.7,336.2 L370.9,335.7 L371.2,335.6 L371.4,334.9 L371.7,340.5 L371.9,338.9 L372.2,339.1 L372.4,340.9 L372.7,337.6 L372.9,336.0 L373.2,337.2 L373.4,338.9 L373.7,340.5 L373.9,336.0 L374.2,339.6 L374.4,336.9 L374.7,339.7 L374.9,340.9 L375.2,336.5 L375.4,337.9 L375.7,339.2 L375.9,340.5 L376.2,338.8 L376.4,336.4 L376.7,339.3 L376.9,337.8 L377.2,336.3 L377.4,336.8 L377.7,338.1 L377.9,339.7 L378.2,339.1 L378.4,337.8 L378.7,335.8 L378.9,339.7 L379.2,337.7 L379.4,339.3 L379.7,341.1 L379.9,338.6 L380.2,338.6 L380.4,337.6 L380.7,340.2 L380.9,340.5 L381.2,337.6 L381.4,341.8 L381.7,339.4 L381.9,338.8 L382.2,339.3 L382.4,336.4 L382.7,336.9 L382.9,334.2 L383.2,335.5 L383.4,337.1 L383.7,337.2 L383.9,333.1 L384.2,336.3 L384.4,333.0 L384.7,335.3 L384.9,335.4 L385.2,334.4 L385.4,332.2 L385.7,334.8 L385.9,335.4 L386.2,334.0 L386.4,336.4 L386.7,338.5 L386.9,337.7 L387.2,339.0 L387.4,338.2 L387.7,336.0 L387.9,339.8 L388.2,341.7 L388.4,336.4 L388.7,339.2 L388.9,341.4 L389.2,341.0 L389.4,340.4 L389.7,340.0 L389.9,341.2 L390.2,336.6 L390.4,339.8 L390.7,342.3 L390.9,338.7 L391.2,337.6 L391.4,339.9 L391.7,341.3 L391.9,340.1 L392.2,339.5 L392.4,341.2 L392.7,341.0 L392.9,337.8 L393.2,340.5 L393.4,337.9 L393.7,340.7 L393.9,340.3 L394.2,340.7 L394.4,340.8 L394.7,337.8 L394.9,339.2 L395.2,336.8 L395.4,341.1 L395.7,342.0 L395.9,338.8 L396.2,341.0 L396.4,338.2 L396.7,339.9 L396.9,339.9 L397.2,338.8 L397.4,338.2 L397.7,338.8 L397.9,338.6 L398.2,340.0 L398.4,340.0 L398.7,343.6 L398.9,341.8 L399.2,338.3 L399.4,339.8 L399.7,340.7 L399.9,340.9 L400.2,339.6 L400.4,340.6 L400.7,344.4 L400.9,341.9 L401.2,338.7 L401.4,341.0 L401.7,342.3 L401.9,340.5 L402.2,338.1 L402.4,339.7 L402.7,339.3 L402.9,339.6 L403.2,341.2 L403.4,342.7 L403.7,342.1 L403.9,341.5 L404.2,341.9 L404.4,339.9 L404.7,343.3 L404.9,341.8 L405.2,342.2 L405.4,339.2 L405.7,341.7 L405.9,339.7 L406.2,342.7 L406.4,339.4 L406.7,339.1 L406.9,340.6 L407.2,341.3 L407.4,343.4 L407.7,339.7 L407.9,340.0 L408.2,342.5 L408.4,341.6 L408.7,341.4 L408.9,341.1 L409.2,343.6 L409.4,338.9 L409.7,340.6 L409.9,341.5 L410.2,343.4 L410.4,338.5 L410.7,339.4 L410.9,341.4 L411.2,342.4 L411.4,343.0 L411.7,339.9 L411.9,340.6 L412.2,340.7 L412.4,341.5 L412.7,338.8 L412.9,340.9 L413.2,342.1 L413.4,339.4 L413.7,341.3 L413.9,340.9 L414.2,341.5 L414.4,341.0 L414.7,339.6 L414.9,340.7 L415.2,341.8 L415.4,340.1 L415.7,340.7 L415.9,337.0 L416.2,343.6 L416.4,341.0 L416.7,337.2 L416.9,342.1 L417.2,342.1 L417.4,340.0 L417.7,337.5 L417.9,337.9 L418.2,341.7 L418.4,339.0 L418.7,338.7 L418.9,340.9 L419.2,338.5 L419.4,340.3 L419.7,341.7 L419.9,341.6 L420.2,339.4 L420.4,340.3 L420.7,344.0 L420.9,341.4 L421.2,341.3 L421.4,343.3 L421.7,339.1 L421.9,341.3 L422.2,341.4 L422.4,339.2 L422.7,338.4 L422.9,342.1 L423.2,340.2 L423.4,337.5 L423.7,339.2 L423.9,339.9 L424.2,342.4 L424.4,339.1 L424.7,339.6 L424.9,339.3 L425.2,341.8 L425.4,342.1 L425.7,341.7 L425.9,340.3 L426.2,338.0 L426.4,341.5 L426.7,340.4 L426.9,338.0 L427.2,339.2 L427.4,341.7 L427.7,341.1 L427.9,341.6 L428.2,341.8 L428.4,340.9 L428.7,339.4 L428.9,343.2 L429.2,340.4 L429.4,343.0 L429.7,340.2 L429.9,339.7 L430.2,340.7 L430.4,341.6 L430.7,341.7 L430.9,339.1 L431.2,339.0 L431.4,342.7 L431.7,340.3 L431.9,340.8 L432.2,338.0 L432.4,340.1 L432.7,339.5 L432.9,339.8 L433.2,341.7 L433.4,338.9 L433.7,340.6 L433.9,339.9 L434.2,340.3 L434.4,341.8 L434.7,342.2 L434.9,338.7 L435.2,339.4 L435.4,341.3 L435.7,338.7 L435.9,339.7 L436.2,338.9 L436.4,339.1 L436.7,341.5 L436.9,339.9 L437.2,340.0 L437.4,339.1 L437.7,339.9 L437.9,342.6 L438.2,341.9 L438.4,339.8 L438.7,341.8 L438.9,339.8 L439.2,340.8 L439.4,342.2 L439.7,340.5 L439.9,341.0 L440.2,341.1 L440.4,342.4 L440.7,342.4 L440.9,340.2 L441.2,338.8 L441.4,337.7 L441.7,338.3 L441.9,344.4 L442.2,340.4 L442.4,339.3 L442.7,342.9 L442.9,341.9 L443.2,339.6 L443.4,340.6 L443.7,341.0 L443.9,341.0 L444.2,339.7 L444.4,341.2 L444.7,342.5 L444.9,339.8 L445.2,338.5 L445.4,339.0 L445.7,338.5 L445.9,339.0 L446.2,341.5 L446.4,342.2 L446.7,341.7 L446.9,338.8 L447.2,342.1 L447.4,339.2 L447.7,340.6 L447.9,338.6 L448.2,342.5 L448.4,339.7 L448.7,341.3 L448.9,343.9 L449.2,338.1 L449.4,340.6 L449.7,342.0 L449.9,342.1 L450.2,342.9 L450.4,337.6 L450.7,341.3 L450.9,340.0 L451.2,339.2 L451.4,341.9 L451.7,340.1 L451.9,339.1 L452.2,338.0 L452.4,337.8 L452.7,340.7 L452.9,339.6 L453.2,341.5 L453.4,338.2 L453.7,338.7 L453.9,342.4 L454.2,340.8 L454.4,340.4 L454.7,338.5 L454.9,339.3 L455.2,340.5 L455.4,342.1 L455.7,342.0 L455.9,340.8 L456.2,339.9 L456.4,339.7 L456.7,341.2 L456.9,341.9 L457.2,339.7 L457.4,337.2 L457.7,342.2 L457.9,340.1 L458.2,339.9 L458.4,337.8 L458.7,341.1 L458.9,338.0 L459.2,338.8 L459.4,338.4 L459.7,339.7 L459.9,339.3 L460.2,339.2 L460.4,340.2 L460.7,342.7 L460.9,338.7 L461.2,341.2 L461.4,337.6 L461.7,343.1 L461.9,339.7 L462.2,342.8 L462.4,343.3 L462.7,338.6 L462.9,341.0 L463.2,337.9 L463.4,341.5 L463.7,340.5 L463.9,340.2 L464.2,339.6 L464.4,340.8 L464.7,342.5 L464.9,342.9 L465.2,340.3 L465.4,340.6 L465.7,342.1 L465.9,338.1 L466.2,338.7 L466.4,337.7 L466.7,340.5 L466.9,340.2 L467.2,339.7 L467.4,340.7 L467.7,341.4 L467.9,337.2 L468.2,340.4 L468.4,338.1 L468.7,339.1 L468.9,341.9 L469.2,337.6 L469.4,340.1 L469.7,337.9 L469.9,337.1 L470.2,340.5 L470.4,337.0 L470.7,337.0 L470.9,338.5 L471.2,338.7 L471.4,341.7 L471.7,339.0 L471.9,339.3 L472.2,337.1 L472.4,341.6 L472.7,340.6 L472.9,339.7 L473.2,336.7 L473.4,338.8 L473.7,337.4 L473.9,336.3 L474.2,339.2 L474.4,336.6 L474.7,337.4 L474.9,338.1 L475.2,338.8 L475.4,338.2 L475.7,340.9 L475.9,337.0 L476.2,338.8 L476.4,337.9 L476.7,340.3 L476.9,338.8 L477.2,337.8 L477.4,337.3 L477.7,335.9 L477.9,339.1 L478.2,338.8 L478.4,338.8 L478.7,339.7 L478.9,339.5 L479.2,339.4 L479.4,339.8 L479.7,337.8 L479.9,333.7 L480.2,335.0 L480.4,335.8 L480.7,339.3 L480.9,336.4 L481.2,335.7 L481.4,337.1 L481.7,334.2 L481.9,340.1 L482.2,337.5 L482.4,337.6 L482.7,336.8 L482.9,338.2 L483.2,337.1 L483.4,334.9 L483.7,336.1 L483.9,335.0 L484.2,336.5 L484.4,333.5 L484.7,337.5 L484.9,334.7 L485.2,337.1 L485.4,334.5 L485.7,335.9 L485.9,334.0 L486.2,331.9 L486.4,332.2 L486.7,333.0 L486.9,332.1 L487.2,331.8 L487.4,330.9 L487.7,331.5 L487.9,329.7 L488.2,324.9 L488.4,327.4 L488.7,327.4 L488.9,329.9 L489.2,331.7 L489.4,329.8 L489.7,330.9 L489.9,330.1 L490.2,334.4 L490.4,333.2 L490.7,335.1 L490.9,334.3 L491.2,335.6 L491.4,336.2 L491.7,330.6 L491.9,334.1 L492.2,331.9 L492.4,331.1 L492.7,331.8 L492.9,334.4 L493.2,335.0 L493.4,331.2 L493.7,329.0 L493.9,332.6 L494.2,331.6 L494.4,330.0 L494.7,329.4 L494.9,329.7 L495.2,329.2 L495.4,329.7 L495.7,328.2 L495.9,323.9 L496.2,323.1 L496.4,323.4 L496.7,320.6 L496.9,317.0 L497.2,312.9 L497.4,307.5 L497.8,300.0 L498.8,200.0 L499.6,61.0 L500.2,59.5 L502.6,59.5 L503.2,61.0 L504.4,200.0 L505.8,300.0 L506.2,310.7 L506.4,318.4 L506.7,322.6 L506.9,320.7 L507.2,321.1 L507.4,324.5 L507.7,323.2 L507.9,326.9 L508.2,323.3 L508.4,325.1 L508.7,320.7 L508.9,322.5 L509.2,322.4 L509.4,323.8 L509.7,322.7 L509.9,323.5 L510.2,323.6 L510.4,323.0 L510.7,325.0 L510.9,323.4 L511.2,323.6 L511.4,328.3 L511.7,328.3 L511.9,326.8 L512.2,327.7 L512.5,332.4 L512.7,328.3 L513.0,331.5 L513.2,331.5 L513.5,334.8 L513.7,329.5 L514.0,334.2 L514.2,335.3 L514.5,333.4 L514.7,335.4 L515.0,335.0 L515.2,334.2 L515.5,332.3 L515.7,336.8 L516.0,337.8 L516.2,335.1 L516.5,337.7 L516.7,338.0 L517.0,334.7 L517.2,335.9 L517.5,336.0 L517.7,335.6 L518.0,336.5 L518.2,338.4 L518.5,339.6 L518.7,339.2 L519.0,338.4 L519.2,339.4 L519.5,340.4 L519.7,337.2 L520.0,337.4 L520.2,336.0 L520.5,336.8 L520.7,339.1 L521.0,339.9 L521.2,339.8 L521.5,338.8 L521.7,338.7 L522.0,337.4 L522.2,339.5 L522.5,335.4 L522.7,338.4 L523.0,339.0 L523.2,336.7 L523.5,337.9 L523.7,334.8 L524.0,336.0 L524.2,337.2 L524.5,337.7 L524.7,336.7 L525.0,340.3 L525.2,338.4 L525.5,341.4 L525.7,339.2 L526.0,335.8 L526.2,335.6 L526.5,339.9 L526.7,336.1 L527.0,337.8 L527.2,340.0 L527.5,340.7 L527.7,339.3 L528.0,335.9 L528.2,338.8 L528.5,340.2 L528.7,336.8 L529.0,340.0 L529.2,337.4 L529.5,337.4 L529.7,338.4 L530.0,338.6 L530.2,340.1 L530.5,337.7 L530.7,341.0 L531.0,337.4 L531.2,339.2 L531.5,338.2 L531.7,339.9 L532.0,337.3 L532.2,337.4 L532.5,336.1 L532.7,337.7 L533.0,341.1 L533.2,339.1 L533.5,337.9 L533.7,340.5 L534.0,336.0 L534.2,338.9 L534.5,339.1 L534.7,340.2 L535.0,337.5 L535.2,337.2 L535.5,338.1 L535.7,337.3 L536.0,339.0 L536.2,341.4 L536.5,337.0 L536.7,339.9 L537.0,339.9 L537.2,337.1 L537.5,336.6 L537.7,337.4 L538.0,339.7 L538.2,339.5 L538.5,340.0 L538.7,336.3 L539.0,337.0 L539.2,338.9 L539.5,336.9 L539.7,338.8 L540.0,336.7 L540.2,339.1 L540.5,336.9 L540.7,333.7 L541.0,334.8 L541.2,333.6 L541.5,335.4 L541.7,334.9 L542.0,333.2 L542.2,335.2 L542.5,329.1 L542.7,330.9 L543.0,330.2 L543.2,328.0 L543.5,327.9 L543.7,323.5 L544.0,323.9 L544.2,326.3 L544.5,322.5 L544.7,324.2 L545.0,327.6 L545.2,327.2 L545.5,328.1 L545.7,330.3 L546.0,329.7 L546.2,331.1 L546.5,331.8 L546.7,331.8 L547.0,334.9 L547.2,335.1 L547.5,332.8 L547.7,336.8 L548.0,336.8 L548.2,337.9 L548.5,337.4 L548.7,335.4 L549.0,335.7 L549.2,336.7 L549.5,335.1 L549.7,336.1 L550.0,340.7 L550.2,335.5 L550.5,337.0 L550.7,335.1 L551.0,337.7 L551.2,338.6 L551.5,335.6 L551.7,339.8 L552.0,338.3 L552.2,336.6 L552.5,340.0 L552.7,340.3 L553.0,337.3 L553.2,339.1 L553.5,338.5 L553.7,337.9 L554.0,339.7 L554.2,338.9 L554.5,336.4 L554.7,336.2 L555.0,335.4 L555.2,338.5 L555.5,336.1 L555.7,337.6 L556.0,337.5 L556.2,335.5 L556.5,340.8 L556.7,338.8 L557.0,339.5 L557.2,336.3 L557.5,336.7 L557.7,334.4 L558.0,338.3 L558.2,336.8 L558.5,334.6 L558.7,333.5 L559.0,336.6 L559.2,333.4 L559.5,335.3 L559.7,335.1 L560.0,332.9 L560.2,331.8 L560.5,333.1 L560.7,332.1 L561.0,331.1 L561.2,333.5 L561.5,332.1 L561.7,332.5 L562.0,334.6 L562.2,335.8 L562.5,333.5 L562.7,334.9 L563.0,337.5 L563.2,335.5 L563.5,336.4 L563.7,336.5 L564.0,337.8 L564.2,338.3 L564.5,339.4 L564.7,333.6 L565.0,339.7 L565.2,337.6 L565.5,335.2 L565.7,340.4 L566.0,337.3 L566.2,336.4 L566.5,338.8 L566.7,337.5 L567.0,337.7 L567.2,339.4 L567.5,337.0 L567.7,340.1 L568.0,338.3 L568.2,338.5 L568.5,336.9 L568.7,337.3 L569.0,341.0 L569.2,341.4 L569.5,342.8 L569.7,336.8 L570.0,337.4 L570.2,339.3 L570.5,338.3 L570.7,337.9 L571.0,341.7 L571.2,338.3 L571.5,339.5 L571.7,339.4 L572.0,338.0 L572.2,339.5 L572.5,337.8 L572.7,340.3 L573.0,337.2 L573.2,336.4 L573.5,338.8 L573.7,340.0 L574.0,338.7 L574.2,337.6 L574.5,335.4 L574.7,337.8 L575.0,337.5 L575.2,336.6 L575.5,339.0 L575.7,334.0 L576.0,337.1 L576.2,335.7 L576.5,336.5 L576.7,336.7 L577.0,334.6 L577.2,333.1 L577.5,330.4 L577.7,333.1 L578.0,330.8 L578.2,329.2 L578.5,329.2 L578.7,325.5 L579.0,329.6 L579.2,328.2 L579.5,323.3 L579.7,327.9 L580.0,326.9 L580.2,327.0 L580.5,328.8 L580.7,332.3 L581.0,330.3 L581.2,333.0 L581.5,334.5 L581.7,334.2 L582.0,335.8 L582.2,334.7 L582.5,335.2 L582.7,334.1 L583.0,334.7 L583.2,336.8 L583.5,335.5 L583.7,338.6 L584.0,335.5 L584.2,336.1 L584.5,337.0 L584.7,336.3 L585.0,338.7 L585.2,341.2 L585.5,336.5 L585.7,337.8 L586.0,336.2 L586.2,340.4 L586.5,339.0 L586.7,337.9 L587.0,339.6 L587.2,340.2 L587.5,339.0 L587.7,339.1 L588.0,338.2 L588.2,336.8 L588.5,340.0 L588.7,340.0 L589.0,336.5 L589.2,338.1 L589.5,339.9 L589.7,341.2 L590.0,338.7 L590.2,336.8 L590.5,338.9 L590.7,339.2 L591.0,338.1 L591.2,335.6 L591.5,338.7 L591.7,337.8 L592.0,339.5 L592.2,337.4 L592.5,339.6 L592.7,339.4 L593.0,338.9 L593.2,340.5 L593.5,340.2 L593.7,336.0 L594.0,338.7 L594.2,339.6 L594.5,336.7 L594.7,339.7 L595.0,340.2 L595.2,340.7 L595.5,340.1 L595.7,338.0 L596.0,337.0 L596.2,339.4 L596.5,335.7 L596.7,340.7 L597.0,337.8 L597.2,340.6 L597.5,340.3 L597.7,339.2 L598.0,340.0 L598.2,340.6 L598.5,337.6 L598.7,341.1 L599.0,337.7 L599.2,337.6 L599.5,339.3 L599.7,336.2 L600.0,339.9 L600.2,338.0 L600.5,336.1 L600.7,338.2 L601.0,338.8 L601.2,336.8 L601.5,338.0 L601.7,338.1 L602.0,337.3 L602.2,339.7 L602.5,335.9 L602.7,338.3 L603.0,339.7 L603.2,338.2 L603.5,340.2 L603.7,336.8 L604.0,339.9 L604.2,336.6 L604.5,336.8 L604.7,339.6 L605.0,338.4 L605.2,338.3 L605.5,339.1 L605.7,339.8 L606.0,338.5 L606.2,339.5 L606.5,340.0 L606.7,337.4 L607.0,340.2 L607.2,336.9 L607.5,336.5 L607.7,339.1 L608.0,337.8 L608.2,337.5 L608.5,336.2 L608.7,340.2 L609.0,339.3 L609.2,341.5 L609.5,336.9 L609.7,335.1 L610.0,338.4 L610.2,337.6 L610.5,335.8 L610.7,339.7 L611.0,335.5 L611.2,338.0 L611.5,334.9 L611.7,339.0 L612.0,338.1 L612.2,338.6 L612.5,337.1 L612.7,335.0 L613.0,337.4 L613.2,335.3 L613.5,335.6 L613.7,336.9 L614.0,334.8 L614.2,337.9 L614.5,335.3 L614.7,336.6 L615.0,335.7 L615.2,337.9 L615.5,336.2 L615.7,337.3 L616.0,339.6 L616.2,338.4 L616.5,336.0 L616.7,336.9 L617.0,338.7 L617.2,337.6 L617.5,335.1 L617.7,335.6 L618.0,339.1 L618.2,337.1 L618.5,338.4 L618.7,338.0 L619.0,334.8 L619.2,337.0 L619.5,336.7 L619.7,335.2 L620.0,336.2 L620.2,336.1 L620.5,337.5 L620.7,334.3 L621.0,335.5 L621.2,333.4 L621.5,337.1 L621.7,334.7 L622.0,336.3 L622.2,338.4 L622.5,335.7 L622.7,333.8 L623.0,333.6 L623.2,333.7 L623.5,337.7 L623.7,333.0 L624.0,334.2 L624.2,335.5 L624.5,331.4 L624.7,334.9 L625.0,332.9 L625.2,331.9 L625.5,335.3 L625.7,335.2 L626.0,332.4 L626.2,331.6 L626.5,330.6 L626.7,334.2 L627.0,334.5 L627.2,334.1 L627.5,332.4 L627.7,332.1 L628.0,330.8 L628.2,330.4 L628.5,331.4 L628.7,325.2 L629.0,330.0 L629.2,330.2 L629.5,327.3 L629.7,325.3 L630.0,324.7 L630.2,324.3 L630.5,327.0 L630.7,322.8 L631.0,324.1 L631.2,319.7 L631.5,316.4 L631.7,315.1 L632.0,313.2 L632.2,307.9 L632.5,299.6 L632.7,291.4 L633.0,280.0 L633.9,200.0 L634.9,61.0 L635.3,59.5 L636.1,59.5 L636.5,61.0 L638.4,200.0 L640.8,290.0 L641.0,294.8 L641.2,298.8 L641.5,305.3 L641.7,309.1 L642.0,310.3 L642.2,315.6 L642.5,318.7 L642.7,318.4 L643.0,322.2 L643.2,322.4 L643.5,323.8 L643.7,327.7 L644.0,326.3 L644.2,328.2 L644.5,330.3 L644.7,328.4 L645.0,325.9 L645.2,331.7 L645.5,331.6 L645.7,329.3 L646.0,328.7 L646.2,332.7 L646.5,330.5 L646.7,332.9 L647.0,331.2 L647.2,330.9 L647.5,331.1 L647.7,332.7 L648.0,331.1 L648.2,332.5 L648.5,330.2 L648.7,333.6 L649.0,332.1 L649.2,333.8 L649.5,332.9 L649.7,332.0 L650.0,330.4 L650.2,332.8 L650.5,329.7 L650.7,335.6 L651.0,332.7 L651.2,334.2 L651.5,331.3 L651.7,331.9 L652.0,335.8 L652.2,333.4 L652.5,333.1 L652.7,333.5 L653.0,333.6 L653.2,332.9 L653.5,334.5 L653.7,330.5 L654.0,332.9 L654.2,337.1 L654.5,334.3 L654.7,332.3 L655.0,330.7 L655.2,331.9 L655.5,332.8" fill="none" stroke="#ff0000" stroke-width="1.8" stroke-linejoin="round"/>
<path d="M37.2,382.4 L37.5,382.8 L37.7,386.5 L38.0,384.3 L38.2,383.6 L38.5,382.0 L38.7,383.4 L39.0,383.1 L39.2,385.1 L39.5,381.6 L39.7,381.9 L40.0,385.3 L40.2,382.0 L40.5,385.0 L40.7,385.6 L41.0,387.4 L41.2,384.3 L41.5,384.3 L41.7,384.5 L42.0,382.8 L42.2,379.9 L42.5,387.5 L42.7,382.7 L43.0,383.3 L43.2,385.3 L43.5,384.7 L43.7,383.5 L44.0,385.6 L44.2,380.7 L44.5,386.3 L44.7,383.0 L45.0,379.7 L45.2,385.7 L45.5,386.3 L45.7,381.9 L46.0,387.2 L46.2,383.2 L46.5,384.4 L46.7,385.0 L47.0,383.1 L47.2,385.9 L47.5,386.3 L47.7,386.3 L48.0,385.4 L48.2,384.0 L48.5,386.3 L48.7,386.1 L49.0,381.8 L49.2,387.1 L49.5,384.2 L49.7,383.0 L50.0,382.0 L50.2,385.1 L50.5,383.2 L50.7,385.8 L51.0,384.5 L51.2,383.9 L51.5,383.0 L51.7,385.3 L52.0,380.8 L52.2,381.8 L52.5,386.4 L52.7,384.7 L53.0,384.1 L53.2,387.8 L53.5,383.4 L53.7,386.5 L54.0,383.0 L54.2,386.5 L54.5,385.5 L54.7,385.0 L55.0,389.4 L55.2,386.6 L55.5,385.9 L55.7,382.2 L56.0,384.0 L56.2,381.2 L56.5,382.3 L56.7,384.5 L57.0,385.3 L57.2,382.1 L57.5,384.5 L57.7,386.0 L58.0,385.7 L58.2,388.5 L58.5,385.5 L58.7,384.7 L59.0,385.4 L59.2,385.6 L59.5,383.0 L59.7,386.3 L60.0,383.4 L60.2,387.2 L60.5,385.4 L60.7,386.8 L61.0,384.5 L61.2,383.5 L61.5,382.2 L61.7,384.7 L62.0,383.4 L62.2,386.3 L62.5,385.1 L62.7,386.1 L63.0,383.2 L63.2,382.3 L63.5,385.3 L63.7,381.3 L64.0,387.4 L64.2,385.4 L64.5,386.4 L64.7,386.3 L65.0,384.4 L65.2,384.2 L65.5,383.0 L65.7,384.1 L66.0,381.9 L66.2,385.7 L66.5,387.7 L66.7,386.6 L67.0,386.0 L67.2,386.2 L67.5,387.3 L67.7,386.7 L68.0,387.4 L68.2,387.9 L68.5,383.2 L68.7,385.7 L69.0,383.4 L69.2,384.0 L69.5,386.2 L69.7,384.1 L70.0,386.0 L70.2,384.4 L70.5,382.5 L70.7,385.0 L71.0,383.5 L71.2,385.6 L71.5,385.2 L71.7,383.7 L72.0,384.6 L72.2,383.8 L72.5,387.4 L72.7,381.8 L73.0,383.3 L73.2,388.1 L73.5,383.4 L73.7,383.8 L74.0,383.1 L74.2,384.4 L74.5,383.8 L74.7,385.5 L75.0,387.8 L75.2,383.3 L75.5,385.8 L75.7,386.0 L76.0,386.9 L76.2,387.8 L76.5,383.1 L76.7,384.2 L77.0,385.7 L77.2,381.7 L77.5,386.1 L77.7,383.0 L78.0,386.4 L78.2,390.3 L78.5,386.6 L78.7,382.6 L79.0,382.5 L79.2,386.2 L79.5,386.6 L79.7,385.1 L80.0,386.9 L80.2,386.2 L80.5,383.5 L80.7,387.4 L81.0,382.8 L81.2,384.6 L81.5,387.9 L81.7,386.1 L82.0,385.4 L82.2,386.2 L82.5,384.1 L82.7,385.1 L83.0,386.9 L83.2,385.6 L83.5,387.5 L83.7,383.7 L84.0,385.1 L84.2,387.9 L84.5,387.2 L84.7,384.7 L85.0,386.5 L85.2,389.5 L85.5,385.5 L85.7,386.1 L86.0,385.2 L86.2,385.7 L86.5,384.8 L86.7,387.3 L87.0,386.9 L87.2,387.5 L87.5,386.3 L87.7,381.5 L88.0,386.5 L88.2,387.9 L88.5,386.2 L88.7,386.3 L89.0,384.2 L89.2,385.8 L89.5,386.1 L89.7,382.0 L90.0,387.5 L90.2,387.1 L90.5,388.0 L90.7,385.0 L91.0,383.4 L91.2,387.8 L91.5,387.1 L91.7,383.1 L92.0,385.3 L92.2,387.5 L92.5,385.1 L92.7,387.5 L93.0,385.8 L93.2,387.3 L93.5,382.8 L93.7,386.8 L94.0,384.6 L94.2,383.9 L94.5,386.2 L94.7,385.1 L95.0,386.7 L95.2,384.7 L95.5,385.3 L95.7,382.8 L96.0,383.8 L96.2,388.7 L96.5,388.3 L96.7,383.3 L97.0,385.9 L97.2,386.5 L97.5,384.4 L97.7,385.0 L98.0,387.2 L98.2,387.0 L98.5,384.0 L98.7,384.9 L99.0,386.8 L99.2,383.2 L99.5,386.6 L99.7,386.8 L100.0,385.4 L100.2,386.2 L100.5,384.7 L100.7,385.6 L101.0,387.2 L101.2,383.8 L101.5,384.0 L101.7,384.5 L102.0,388.1 L102.2,388.6 L102.5,382.9 L102.7,384.5 L103.0,383.3 L103.2,386.0 L103.5,385.7 L103.7,388.1 L104.0,384.5 L104.2,387.7 L104.5,385.2 L104.7,388.4 L105.0,386.3 L105.2,387.7 L105.5,386.7 L105.7,385.9 L106.0,386.6 L106.2,384.6 L106.5,387.3 L106.7,388.8 L107.0,386.2 L107.2,382.9 L107.5,386.6 L107.7,385.2 L108.0,383.8 L108.2,385.2 L108.5,388.0 L108.7,386.8 L109.0,384.9 L109.2,382.9 L109.5,387.0 L109.7,387.0 L110.0,386.6 L110.2,381.5 L110.5,383.4 L110.7,387.7 L111.0,384.9 L111.2,385.8 L111.5,386.2 L111.7,387.8 L112.0,386.0 L112.2,384.2 L112.5,383.3 L112.7,383.2 L113.0,387.8 L113.2,382.3 L113.5,385.2 L113.7,387.0 L114.0,384.1 L114.2,381.4 L114.5,386.4 L114.7,385.8 L115.0,383.3 L115.2,384.4 L115.5,388.4 L115.7,384.3 L116.0,389.1 L116.2,381.0 L116.5,386.4 L116.7,383.7 L117.0,386.8 L117.2,381.4 L117.5,385.2 L117.7,386.4 L118.0,386.4 L118.2,385.5 L118.5,383.3 L118.7,384.6 L119.0,385.2 L119.2,383.7 L119.5,386.5 L119.7,385.9 L120.0,383.1 L120.2,385.0 L120.5,387.3 L120.7,381.8 L121.0,383.9 L121.2,384.2 L121.5,382.7 L121.7,386.9 L122.0,386.0 L122.2,386.3 L122.5,386.1 L122.7,384.6 L123.0,383.8 L123.2,382.2 L123.5,385.0 L123.7,384.5 L124.0,386.4 L124.2,384.8 L124.5,384.7 L124.7,384.8 L125.0,387.0 L125.2,382.4 L125.5,382.3 L125.7,386.7 L126.0,385.2 L126.2,384.4 L126.5,385.7 L126.7,387.0 L127.0,383.5 L127.2,385.4 L127.5,389.1 L127.7,383.7 L128.0,385.2 L128.2,381.9 L128.4,384.6 L128.7,381.8 L128.9,385.7 L129.2,387.5 L129.4,384.6 L129.7,386.1 L129.9,383.1 L130.2,385.7 L130.4,381.9 L130.7,382.2 L130.9,386.4 L131.2,383.4 L131.4,381.2 L131.7,382.4 L131.9,386.4 L132.2,383.0 L132.4,381.4 L132.7,387.0 L132.9,387.7 L133.2,383.2 L133.4,382.2 L133.7,386.6 L133.9,385.3 L134.2,385.1 L134.4,383.8 L134.7,383.5 L134.9,387.4 L135.2,383.8 L135.4,380.8 L135.7,381.4 L135.9,384.3 L136.2,385.5 L136.4,385.4 L136.7,386.8 L136.9,381.6 L137.2,382.9 L137.4,380.8 L137.7,383.2 L137.9,382.9 L138.2,384.9 L138.4,380.9 L138.7,381.1 L138.9,383.3 L139.2,383.5 L139.4,384.3 L139.7,384.9 L139.9,387.0 L140.2,381.7 L140.4,380.2 L140.7,383.7 L140.9,384.3 L141.2,382.7 L141.4,383.4 L141.7,385.6 L141.9,384.5 L142.2,382.2 L142.4,384.3 L142.7,379.7 L142.9,378.8 L143.2,378.8 L143.4,380.3 L143.7,384.6 L143.9,380.3 L144.2,381.9 L144.4,383.7 L144.7,379.3 L144.9,380.4 L145.2,381.0 L145.4,385.0 L145.7,380.1 L145.9,382.1 L146.2,379.7 L146.4,384.7 L146.7,382.4 L146.9,381.8 L147.2,381.3 L147.4,381.5 L147.7,380.9 L147.9,382.6 L148.2,382.8 L148.4,383.9 L148.7,385.6 L148.9,379.6 L149.2,381.7 L149.4,379.5 L149.7,382.5 L149.9,382.5 L150.2,382.1 L150.4,381.5 L150.7,379.6 L150.9,383.1 L151.2,382.5 L151.4,380.3 L151.7,382.1 L151.9,378.4 L152.2,379.6 L152.4,380.3 L152.7,379.6 L152.9,378.2 L153.2,380.3 L153.4,382.0 L153.7,380.8 L153.9,376.6 L154.2,379.0 L154.4,382.7 L154.7,380.4 L154.9,379.7 L155.2,376.9 L155.4,378.5 L155.7,383.2 L155.9,378.8 L156.2,380.1 L156.4,381.1 L156.7,379.0 L156.9,379.7 L157.2,378.9 L157.4,377.8 L157.7,380.2 L157.9,381.0 L158.2,381.4 L158.4,381.0 L158.7,380.9 L158.9,378.7 L159.2,381.7 L159.4,382.0 L159.7,377.3 L159.9,376.8 L160.2,377.0 L160.4,375.7 L160.7,380.8 L160.9,374.7 L161.2,378.9 L161.4,375.3 L161.7,378.1 L161.9,380.8 L162.2,380.3 L162.4,377.0 L162.7,377.7 L162.9,376.3 L163.2,378.2 L163.4,378.3 L163.7,377.0 L163.9,376.5 L164.2,375.2 L164.4,376.6 L164.7,377.9 L164.9,379.0 L165.2,377.7 L165.4,374.7 L165.7,376.1 L165.9,378.0 L166.2,377.4 L166.4,373.6 L166.7,377.9 L166.9,376.6 L167.2,372.8 L167.4,375.6 L167.7,374.9 L167.9,372.6 L168.2,374.6 L168.4,372.7 L168.7,378.6 L168.9,374.7 L169.2,373.5 L169.4,377.3 L169.7,373.6 L169.9,370.2 L170.2,376.6 L170.4,371.4 L170.7,374.0 L170.9,372.6 L171.2,371.5 L171.4,374.8 L171.7,370.9 L171.9,371.0 L172.2,375.7 L172.4,372.7 L172.7,374.3 L172.9,374.5 L173.2,373.1 L173.4,369.3 L173.7,373.5 L173.9,369.9 L174.2,370.1 L174.4,373.8 L174.7,372.8 L174.9,372.5 L175.2,371.0 L175.4,374.1 L175.7,371.6 L175.9,374.0 L176.2,372.0 L176.4,372.9 L176.7,372.4 L176.9,372.2 L177.2,371.0 L177.4,369.7 L177.7,370.1 L177.9,368.3 L178.2,368.3 L178.4,370.0 L178.7,367.8 L178.9,368.5 L179.2,368.2 L179.4,370.5 L179.7,370.9 L179.9,369.9 L180.2,368.9 L180.4,369.1 L180.7,366.9 L180.9,371.1 L181.2,368.9 L181.4,369.1 L181.7,363.6 L181.9,370.3 L182.2,367.3 L182.4,371.1 L182.7,369.7 L182.9,368.7 L183.2,370.7 L183.4,366.1 L183.7,368.6 L183.9,365.5 L184.2,366.3 L184.4,365.5 L184.7,364.5 L184.9,365.0 L185.2,364.5 L185.4,363.4 L185.7,364.1 L185.9,367.9 L186.2,365.9 L186.4,366.8 L186.7,363.7 L186.9,363.5 L187.2,363.7 L187.4,365.0 L187.7,367.7 L187.9,364.4 L188.2,366.8 L188.4,368.0 L188.7,368.3 L188.9,364.0 L189.2,364.4 L189.4,362.4 L189.7,364.1 L189.9,363.2 L190.2,362.3 L190.4,361.6 L190.7,361.4 L190.9,360.3 L191.2,360.7 L191.4,362.9 L191.7,362.7 L191.9,362.5 L192.2,359.8 L192.4,361.8 L192.7,360.7 L192.9,360.8 L193.2,362.8 L193.4,363.1 L193.7,360.1 L193.9,361.8 L194.2,363.2 L194.4,358.4 L194.7,357.8 L194.9,361.0 L195.2,361.3 L195.4,360.3 L195.7,360.0 L195.9,357.2 L196.2,359.9 L196.4,357.3 L196.7,361.3 L196.9,361.4 L197.2,360.3 L197.4,362.1 L197.7,357.3 L197.9,356.2 L198.2,359.2 L198.4,360.8 L198.7,360.8 L198.9,359.2 L199.2,356.4 L199.4,357.4 L199.7,354.7 L199.9,360.6 L200.2,358.3 L200.4,356.3 L200.7,355.6 L200.9,358.6 L201.2,360.1 L201.4,355.9 L201.7,358.3 L201.9,359.5 L202.2,355.3 L202.4,354.9 L202.7,355.2 L202.9,356.8 L203.2,355.7 L203.4,355.1 L203.7,353.8 L203.9,357.0 L204.2,354.3 L204.4,358.4 L204.7,353.8 L204.9,354.8 L205.2,356.2 L205.4,359.7 L205.7,354.1 L205.9,353.4 L206.2,355.1 L206.4,352.2 L206.7,352.7 L206.9,354.4 L207.2,352.9 L207.4,352.2 L207.7,357.0 L207.9,356.4 L208.2,354.2 L208.4,356.1 L208.7,356.1 L208.9,351.4 L209.2,351.5 L209.4,355.8 L209.7,354.5 L209.9,354.0 L210.2,354.7 L210.4,353.4 L210.7,353.4 L210.9,347.7 L211.2,351.8 L211.4,355.1 L211.7,349.0 L211.9,349.4 L212.2,348.7 L212.4,350.1 L212.7,351.4 L212.9,352.4 L213.2,353.1 L213.4,352.8 L213.7,351.8 L213.9,351.6 L214.2,349.9 L214.4,347.9 L214.7,349.0 L214.9,351.2 L215.2,347.5 L215.4,347.4 L215.7,348.2 L215.9,348.7 L216.2,346.7 L216.4,344.4 L216.7,345.4 L216.9,348.0 L217.2,348.0 L217.4,343.7 L217.7,346.8 L217.9,344.4 L218.2,344.4 L218.4,342.9 L218.7,347.0 L218.9,343.1 L219.2,344.3 L219.4,343.7 L219.7,344.7 L219.9,342.9 L220.2,343.0 L220.4,342.3 L220.7,335.7 L220.9,339.0 L221.2,342.6 L221.4,338.1 L221.7,338.7 L222.0,338.0 L223.3,310.0 L224.3,290.0 L225.6,250.0 L225.9,-20.0 L228.4,-20.0 L228.9,160.0 L231.6,200.0 L232.1,260.0 L232.6,300.0 L233.6,330.0 L234.8,342.0 L235.2,344.1 L235.4,347.5 L235.7,346.2 L235.9,350.0 L236.2,346.6 L236.4,349.0 L236.7,352.1 L236.9,350.3 L237.2,352.4 L237.4,351.3 L237.7,349.3 L237.9,351.5 L238.2,356.1 L238.4,354.9 L238.7,351.5 L238.9,357.5 L239.2,357.5 L239.4,357.0 L239.7,353.2 L239.9,355.1 L240.2,360.4 L240.4,355.2 L240.7,359.1 L240.9,357.6 L241.2,360.0 L241.4,354.6 L241.7,358.8 L241.9,360.4 L242.2,357.1 L242.4,360.6 L242.7,355.7 L242.9,362.4 L243.2,359.0 L243.4,362.3 L243.7,361.0 L243.9,358.8 L244.2,362.1 L244.4,358.3 L244.7,359.5 L244.9,358.8 L245.2,358.6 L245.4,363.6 L245.7,358.2 L245.9,361.7 L246.2,363.6 L246.4,365.7 L246.7,361.1 L246.9,361.2 L247.2,361.8 L247.4,363.1 L247.7,366.1 L247.9,363.8 L248.2,362.9 L248.4,362.7 L248.7,365.0 L248.9,364.7 L249.2,361.4 L249.4,362.2 L249.7,363.2 L249.9,363.5 L250.2,365.0 L250.4,365.1 L250.7,366.7 L250.9,368.3 L251.2,363.6 L251.4,367.7 L251.7,362.9 L251.9,362.9 L252.2,365.6 L252.4,365.5 L252.7,368.6 L252.9,369.6 L253.2,367.9 L253.4,369.7 L253.7,368.6 L253.9,366.5 L254.2,367.3 L254.4,370.8 L254.7,368.0 L254.9,367.0 L255.2,367.3 L255.4,368.4 L255.7,367.3 L255.9,369.7 L256.2,365.7 L256.4,367.2 L256.7,368.8 L256.9,367.6 L257.2,369.1 L257.4,369.1 L257.7,366.1 L257.9,368.6 L258.2,371.1 L258.4,371.9 L258.7,371.5 L258.9,370.7 L259.2,369.5 L259.4,369.4 L259.7,373.8 L259.9,369.4 L260.2,367.4 L260.4,368.2 L260.7,370.0 L260.9,368.1 L261.2,371.1 L261.4,369.9 L261.7,370.6 L261.9,373.7 L262.2,370.0 L262.4,370.6 L262.7,371.1 L262.9,370.2 L263.2,370.8 L263.4,370.8 L263.7,370.7 L263.9,368.6 L264.2,373.4 L264.4,373.8 L264.7,373.4 L264.9,369.6 L265.2,373.3 L265.4,372.7 L265.7,372.2 L265.9,372.0 L266.2,374.7 L266.4,374.2 L266.7,371.4 L266.9,371.1 L267.2,372.4 L267.4,372.3 L267.7,374.0 L267.9,376.2 L268.2,369.0 L268.4,375.3 L268.7,374.3 L268.9,371.4 L269.2,376.3 L269.4,375.4 L269.7,373.9 L269.9,372.0 L270.2,373.1 L270.4,375.7 L270.7,374.9 L270.9,370.8 L271.2,373.9 L271.4,373.1 L271.7,372.8 L271.9,373.0 L272.2,370.3 L272.4,371.2 L272.7,370.0 L272.9,375.3 L273.2,372.1 L273.4,372.6 L273.7,373.1 L273.9,373.0 L274.2,373.9 L274.4,375.3 L274.7,372.0 L274.9,375.4 L275.2,372.8 L275.4,376.5 L275.7,372.7 L275.9,371.7 L276.2,373.9 L276.4,371.2 L276.7,375.4 L276.9,374.7 L277.2,370.6 L277.4,371.0 L277.7,372.0 L277.9,374.1 L278.2,375.1 L278.4,372.1 L278.7,372.0 L278.9,372.5 L279.2,368.6 L279.4,375.9 L279.7,372.8 L279.9,369.8 L280.2,371.2 L280.4,372.2 L280.7,371.1 L280.9,368.3 L281.2,369.3 L281.4,368.0 L281.7,368.3 L281.9,369.6 L282.2,371.4 L282.4,369.0 L282.7,371.5 L282.9,367.7 L283.2,366.5 L283.4,364.9 L283.7,369.3 L283.9,367.3 L284.2,369.3 L284.4,370.0 L284.7,362.9 L284.9,366.6 L285.2,364.9 L285.4,364.6 L285.7,359.3 L285.9,361.3 L286.3,352.0 L287.6,325.0 L288.6,295.0 L289.9,250.0 L290.3,-20.0 L292.7,-20.0 L293.2,160.0 L295.6,200.0 L296.1,300.0 L296.7,345.0 L297.8,360.0 L298.2,363.4 L298.4,362.6 L298.7,362.5 L298.9,366.5 L299.2,362.6 L299.4,366.1 L299.7,365.1 L299.9,368.5 L300.2,365.8 L300.4,368.6 L300.7,370.3 L300.9,370.2 L301.2,369.1 L301.4,371.7 L301.7,371.2 L301.9,371.1 L302.2,373.1 L302.4,372.5 L302.7,372.1 L302.9,372.4 L303.2,374.4 L303.4,372.6 L303.7,371.9 L303.9,374.5 L304.2,371.8 L304.4,375.8 L304.7,373.3 L304.9,374.4 L305.2,375.5 L305.4,376.1 L305.7,374.7 L305.9,374.8 L306.2,374.7 L306.4,373.1 L306.7,375.5 L306.9,377.4 L307.2,371.6 L307.4,373.1 L307.7,374.1 L307.9,371.6 L308.2,376.9 L308.4,375.3 L308.7,378.9 L308.9,376.7 L309.2,375.1 L309.4,377.9 L309.7,378.7 L309.9,372.7 L310.2,377.9 L310.4,377.0 L310.7,373.2 L310.9,375.5 L311.2,378.9 L311.4,376.4 L311.7,378.3 L311.9,376.1 L312.2,376.7 L312.4,374.5 L312.7,379.7 L312.9,376.3 L313.2,377.1 L313.4,376.3 L313.7,376.4 L313.9,378.9 L314.2,376.3 L314.4,379.1 L314.7,377.1 L314.9,377.2 L315.2,376.3 L315.4,377.2 L315.7,380.5 L315.9,377.3 L316.2,381.3 L316.4,376.3 L316.7,376.5 L316.9,378.5 L317.2,380.6 L317.4,379.2 L317.7,378.2 L317.9,376.9 L318.2,380.5 L318.4,376.3 L318.7,379.1 L318.9,377.7 L319.2,378.1 L319.4,379.6 L319.7,377.8 L319.9,377.3 L320.2,377.0 L320.4,377.7 L320.7,378.0 L320.9,379.1 L321.2,378.5 L321.4,376.6 L321.7,380.5 L321.9,380.4 L322.2,378.6 L322.4,378.9 L322.7,376.3 L322.9,379.7 L323.2,377.8 L323.4,377.8 L323.7,375.7 L323.9,377.5 L324.2,378.9 L324.4,374.9 L324.7,378.2 L324.9,379.5 L325.2,380.3 L325.4,379.9 L325.7,377.3 L325.9,377.7 L326.2,378.6 L326.4,381.4 L326.7,380.6 L326.9,379.8 L327.2,377.9 L327.4,375.5 L327.7,376.0 L327.9,377.8 L328.2,379.0 L328.4,377.4 L328.7,379.0 L328.9,376.9 L329.2,380.6 L329.4,379.6 L329.7,379.9 L329.9,379.0 L330.2,380.2 L330.4,382.1 L330.7,377.4 L330.9,380.9 L331.2,381.8 L331.4,381.4 L331.7,378.6 L331.9,380.1 L332.2,380.8 L332.4,380.2 L332.7,379.5 L332.9,381.2 L333.2,377.9 L333.4,382.0 L333.7,378.8 L333.9,382.6 L334.2,382.6 L334.4,379.6 L334.7,378.6 L334.9,382.0 L335.2,380.8 L335.4,381.6 L335.7,382.5 L335.9,382.0 L336.2,380.5 L336.4,379.7 L336.7,377.1 L336.9,380.6 L337.2,378.2 L337.4,383.6 L337.7,380.0 L337.9,381.9 L338.2,380.8 L338.4,379.2 L338.7,380.7 L338.9,380.4 L339.2,380.2 L339.4,384.5 L339.7,382.0 L339.9,379.2 L340.2,379.1 L340.4,379.4 L340.7,378.2 L340.9,381.7 L341.2,381.5 L341.4,381.3 L341.7,380.8 L341.9,378.5 L342.2,380.7 L342.4,379.5 L342.7,379.5 L342.9,381.0 L343.2,383.9 L343.4,382.1 L343.7,376.7 L343.9,377.0 L344.2,381.5 L344.4,381.0 L344.7,380.6 L344.9,381.4 L345.2,379.8 L345.4,380.0 L345.7,380.6 L345.9,382.7 L346.2,380.6 L346.4,381.3 L346.7,380.5 L346.9,380.7 L347.2,380.4 L347.4,381.6 L347.7,383.8 L347.9,381.2 L348.2,381.3 L348.4,382.0 L348.7,378.6 L348.9,376.4 L349.2,378.2 L349.4,381.2 L349.7,382.0 L349.9,381.9 L350.2,378.6 L350.4,378.2 L350.7,377.9 L350.9,378.4 L351.2,380.0 L351.4,378.1 L351.7,382.4 L351.9,382.1 L352.2,377.8 L352.4,380.7 L352.7,378.3 L352.9,381.1 L353.2,377.9 L353.4,379.6 L353.7,380.8 L353.9,381.9 L354.2,378.0 L354.4,378.2 L354.7,379.3 L354.9,383.5 L355.2,380.2 L355.4,381.8 L355.7,380.2 L355.9,379.7 L356.2,382.2 L356.4,379.8 L356.7,379.7 L356.9,377.9 L357.2,380.3 L357.4,383.3 L357.7,379.1 L357.9,377.2 L358.2,378.7 L358.4,382.3 L358.7,379.0 L358.9,384.1 L359.2,378.5 L359.4,382.5 L359.7,378.8 L359.9,381.8 L360.2,378.9 L360.4,381.9 L360.7,378.5 L360.9,378.8 L361.2,384.1 L361.4,381.9 L361.7,377.9 L361.9,380.2 L362.2,380.9 L362.4,378.8 L362.7,380.5 L362.9,378.7 L363.2,380.0 L363.4,381.6 L363.7,378.1 L363.9,382.8 L364.2,380.9 L364.4,379.5 L364.7,380.5 L364.9,380.4 L365.2,377.5 L365.4,384.0 L365.7,376.7 L365.9,377.1 L366.2,382.0 L366.4,380.9 L366.7,380.4 L366.9,380.0 L367.2,376.8 L367.4,380.3 L367.7,382.0 L367.9,380.3 L368.2,379.0 L368.4,382.3 L368.7,377.9 L368.9,380.0 L369.2,383.4 L369.4,382.0 L369.7,378.2 L369.9,378.5 L370.2,379.8 L370.4,381.9 L370.7,381.5 L370.9,377.7 L371.2,379.7 L371.4,381.2 L371.7,380.3 L371.9,379.5 L372.2,380.4 L372.4,379.0 L372.7,381.1 L372.9,378.5 L373.2,380.3 L373.4,381.0 L373.7,378.8 L373.9,377.6 L374.2,376.1 L374.4,380.3 L374.7,380.6 L374.9,380.0 L375.2,377.8 L375.4,377.6 L375.7,382.2 L375.9,380.2 L376.2,380.1 L376.4,382.4 L376.7,383.3 L376.9,378.4 L377.2,381.3 L377.4,382.2 L377.7,380.4 L377.9,382.4 L378.2,382.5 L378.4,377.6 L378.7,378.5 L378.9,379.9 L379.2,380.6 L379.4,381.2 L379.7,380.2 L379.9,378.5 L380.2,377.3 L380.4,377.6 L380.7,379.2 L380.9,381.8 L381.2,380.2 L381.4,375.8 L381.7,380.9 L381.9,381.7 L382.2,379.0 L382.4,376.7 L382.7,381.1 L382.9,381.1 L383.2,378.0 L383.4,381.6 L383.7,377.3 L383.9,378.0 L384.2,381.4 L384.4,381.4 L384.7,378.4 L384.9,381.1 L385.2,377.8 L385.4,379.3 L385.7,377.9 L385.9,378.5 L386.2,380.3 L386.4,380.6 L386.7,382.3 L386.9,380.6 L387.2,381.6 L387.4,376.6 L387.7,380.9 L387.9,381.3 L388.2,380.2 L388.4,375.9 L388.7,377.8 L388.9,380.1 L389.2,379.7 L389.4,382.2 L389.7,381.1 L389.9,381.5 L390.2,382.4 L390.4,381.3 L390.7,381.0 L390.9,381.6 L391.2,377.7 L391.4,379.4 L391.7,378.5 L391.9,381.0 L392.2,377.7 L392.4,381.9 L392.7,379.2 L392.9,379.1 L393.2,378.7 L393.4,380.5 L393.7,382.1 L393.9,382.3 L394.2,379.6 L394.4,378.5 L394.7,382.5 L394.9,381.3 L395.2,376.4 L395.4,378.4 L395.7,376.4 L395.9,381.9 L396.2,380.5 L396.4,381.8 L396.7,381.9 L396.9,380.1 L397.2,379.5 L397.4,381.5 L397.7,377.9 L397.9,381.4 L398.2,379.4 L398.4,380.1 L398.7,382.3 L398.9,377.3 L399.2,378.2 L399.4,375.5 L399.7,382.3 L399.9,377.8 L400.2,379.2 L400.4,382.3 L400.7,382.3 L400.9,376.2 L401.2,377.4 L401.4,381.0 L401.7,381.4 L401.9,380.9 L402.2,380.7 L402.4,375.3 L402.7,378.2 L402.9,377.6 L403.2,377.4 L403.4,375.7 L403.7,377.8 L403.9,379.1 L404.2,378.4 L404.4,381.0 L404.7,376.3 L404.9,378.3 L405.2,378.5 L405.4,377.7 L405.7,380.1 L405.9,378.7 L406.2,380.8 L406.4,378.2 L406.7,378.3 L406.9,377.0 L407.2,380.1 L407.4,374.9 L407.7,379.1 L407.9,377.4 L408.2,378.8 L408.4,376.1 L408.7,377.6 L408.9,377.7 L409.2,380.7 L409.4,380.4 L409.7,379.0 L409.9,381.3 L410.2,377.9 L410.4,383.6 L410.7,376.1 L410.9,376.7 L411.2,379.9 L411.4,378.7 L411.7,378.3 L411.9,379.1 L412.2,378.1 L412.4,383.2 L412.7,380.3 L412.9,380.3 L413.2,382.5 L413.4,376.3 L413.7,376.7 L413.9,378.9 L414.2,379.7 L414.4,375.0 L414.7,376.6 L414.9,379.1 L415.2,376.3 L415.4,378.1 L415.7,376.7 L415.9,377.0 L416.2,379.8 L416.4,379.8 L416.7,381.4 L416.9,377.4 L417.2,378.1 L417.4,380.8 L417.7,376.4 L417.9,378.4 L418.2,376.1 L418.4,377.1 L418.7,379.6 L418.9,379.0 L419.2,378.0 L419.4,379.7 L419.7,379.9 L419.9,378.2 L420.2,379.0 L420.4,375.5 L420.7,380.2 L420.9,381.5 L421.2,375.1 L421.4,379.1 L421.7,377.4 L421.9,379.6 L422.2,377.0 L422.4,376.1 L422.7,381.7 L422.9,378.1 L423.2,376.1 L423.4,374.9 L423.7,375.0 L423.9,377.8 L424.2,375.7 L424.4,379.1 L424.7,380.2 L424.9,376.7 L425.2,376.7 L425.4,379.8 L425.7,379.6 L425.9,380.1 L426.2,377.1 L426.4,380.0 L426.7,378.5 L426.9,377.7 L427.2,376.9 L427.4,378.7 L427.7,380.5 L427.9,381.0 L428.2,376.2 L428.4,379.2 L428.7,376.4 L428.9,376.5 L429.2,380.3 L429.4,374.7 L429.7,378.8 L429.9,380.2 L430.2,376.6 L430.4,378.5 L430.7,380.5 L430.9,376.9 L431.2,378.8 L431.4,379.7 L431.7,373.4 L431.9,379.1 L432.2,377.8 L432.4,375.3 L432.7,376.4 L432.9,378.0 L433.2,377.8 L433.4,376.6 L433.7,379.5 L433.9,378.3 L434.2,378.8 L434.4,380.9 L434.7,375.2 L434.9,378.1 L435.2,380.0 L435.4,374.8 L435.7,378.0 L435.9,379.1 L436.2,378.3 L436.4,376.5 L436.7,377.2 L436.9,376.0 L437.2,378.0 L437.4,378.6 L437.7,379.9 L437.9,377.9 L438.2,376.5 L438.4,376.0 L438.7,377.1 L438.9,376.4 L439.2,377.1 L439.4,376.1 L439.7,378.0 L439.9,378.7 L440.2,377.3 L440.4,379.1 L440.7,378.1 L440.9,379.5 L441.2,380.0 L441.4,373.9 L441.7,376.8 L441.9,375.3 L442.2,375.3 L442.4,378.2 L442.7,373.7 L442.9,376.4 L443.2,380.2 L443.4,377.6 L443.7,378.7 L443.9,375.3 L444.2,380.4 L444.4,379.3 L444.7,377.7 L444.9,380.2 L445.2,377.4 L445.4,378.4 L445.7,374.8 L445.9,379.4 L446.2,376.4 L446.4,377.8 L446.7,377.6 L446.9,376.3 L447.2,376.2 L447.4,379.0 L447.7,376.9 L447.9,375.8 L448.2,377.1 L448.4,380.0 L448.7,373.7 L448.9,375.0 L449.2,378.2 L449.4,377.1 L449.7,378.8 L449.9,375.6 L450.2,376.7 L450.4,375.8 L450.7,374.8 L450.9,378.3 L451.2,381.0 L451.4,376.6 L451.7,373.9 L451.9,372.8 L452.2,377.1 L452.4,376.6 L452.7,375.4 L452.9,375.7 L453.2,379.4 L453.4,375.8 L453.7,373.2 L453.9,375.9 L454.2,374.5 L454.4,380.0 L454.7,376.3 L454.9,377.0 L455.2,373.7 L455.4,375.3 L455.7,378.0 L455.9,378.7 L456.2,377.4 L456.4,375.8 L456.7,376.3 L456.9,375.4 L457.2,375.2 L457.4,375.2 L457.7,376.4 L457.9,377.5 L458.2,375.7 L458.4,377.7 L458.7,374.7 L458.9,378.5 L459.2,375.0 L459.4,376.0 L459.7,376.0 L459.9,377.0 L460.2,377.3 L460.4,374.5 L460.7,375.8 L460.9,374.2 L461.2,377.6 L461.4,373.7 L461.7,375.6 L461.9,377.5 L462.2,375.6 L462.4,376.5 L462.7,379.4 L462.9,374.3 L463.2,375.9 L463.4,374.4 L463.7,378.5 L463.9,376.1 L464.2,378.2 L464.4,375.1 L464.7,376.4 L464.9,375.5 L465.2,377.6 L465.4,378.3 L465.7,375.3 L465.9,373.2 L466.2,373.5 L466.4,374.2 L466.7,379.3 L466.9,378.4 L467.2,375.6 L467.4,377.3 L467.7,374.6 L467.9,373.8 L468.2,373.8 L468.4,375.8 L468.7,375.1 L468.9,376.5 L469.2,372.0 L469.4,372.9 L469.7,376.6 L469.9,375.2 L470.2,373.9 L470.4,377.7 L470.7,373.5 L470.9,376.2 L471.2,375.5 L471.4,373.8 L471.7,377.3 L471.9,377.0 L472.2,373.5 L472.4,375.5 L472.7,376.7 L472.9,372.5 L473.2,373.2 L473.4,372.6 L473.7,376.5 L473.9,373.3 L474.2,373.1 L474.4,373.7 L474.7,375.6 L474.9,372.7 L475.2,377.7 L475.4,372.1 L475.7,371.9 L475.9,372.6 L476.2,372.5 L476.4,372.0 L476.7,374.1 L476.9,371.9 L477.2,374.2 L477.4,376.6 L477.7,374.7 L477.9,372.2 L478.2,373.4 L478.4,373.7 L478.7,371.9 L478.9,370.7 L479.2,372.2 L479.4,372.9 L479.7,375.4 L479.9,373.9 L480.2,371.9 L480.4,370.5 L480.7,372.2 L480.9,377.5 L481.2,370.5 L481.4,370.3 L481.7,370.9 L481.9,374.8 L482.2,370.6 L482.4,371.2 L482.7,371.6 L482.9,372.6 L483.2,372.8 L483.4,375.8 L483.7,374.1 L483.9,372.3 L484.2,375.0 L484.4,371.3 L484.7,370.1 L484.9,370.6 L485.2,376.3 L485.4,374.2 L485.7,373.1 L485.9,370.8 L486.2,374.0 L486.4,369.8 L486.7,373.1 L486.9,374.0 L487.2,371.8 L487.4,371.1 L487.7,374.4 L487.9,369.1 L488.2,371.2 L488.4,372.6 L488.7,373.0 L488.9,368.7 L489.2,370.8 L489.4,370.2 L489.7,372.2 L489.9,372.9 L490.2,367.0 L490.4,371.0 L490.7,368.9 L490.9,369.1 L491.2,367.9 L491.4,367.0 L491.7,369.9 L491.9,371.1 L492.2,367.2 L492.4,366.0 L492.7,370.2 L492.9,369.0 L493.2,364.6 L493.4,367.8 L493.7,365.6 L493.9,364.3 L494.2,366.1 L494.4,365.9 L494.7,362.2 L494.9,362.2 L495.2,359.8 L495.4,360.1 L495.7,356.7 L495.9,356.1 L496.2,358.6 L496.4,357.9 L496.7,354.5 L496.9,355.0 L497.2,351.0 L497.4,348.9 L497.7,347.9 L497.9,340.5 L498.2,337.5 L498.4,332.8 L498.7,330.3 L499.0,320.0 L500.0,250.0 L500.7,150.0 L501.4,63.0 L502.1,150.0 L503.6,250.0 L505.5,320.0 L505.7,327.3 L505.9,328.9 L506.2,340.2 L506.4,345.4 L506.7,345.1 L506.9,351.0 L507.2,350.6 L507.4,355.3 L507.7,356.0 L507.9,356.4 L508.2,357.6 L508.4,358.4 L508.7,361.6 L508.9,360.9 L509.2,359.8 L509.4,360.2 L509.7,363.3 L509.9,367.8 L510.2,367.2 L510.4,361.0 L510.7,368.3 L510.9,369.0 L511.2,367.2 L511.4,364.1 L511.7,369.1 L511.9,368.6 L512.2,369.1 L512.5,372.0 L512.7,367.2 L513.0,366.5 L513.2,366.6 L513.5,368.3 L513.7,374.2 L514.0,368.9 L514.2,370.8 L514.5,372.2 L514.7,371.1 L515.0,371.0 L515.2,370.4 L515.5,368.8 L515.7,370.4 L516.0,369.9 L516.2,369.9 L516.5,370.5 L516.7,370.9 L517.0,369.5 L517.2,372.2 L517.5,372.0 L517.7,375.0 L518.0,372.5 L518.2,374.9 L518.5,373.1 L518.7,374.4 L519.0,372.1 L519.2,372.4 L519.5,373.1 L519.7,371.4 L520.0,376.2 L520.2,371.9 L520.5,375.2 L520.7,375.0 L521.0,375.1 L521.2,370.8 L521.5,375.9 L521.7,370.8 L522.0,375.4 L522.2,371.7 L522.5,377.0 L522.7,371.5 L523.0,372.7 L523.2,373.7 L523.5,370.1 L523.7,370.1 L524.0,373.1 L524.2,370.6 L524.5,375.0 L524.7,374.2 L525.0,373.7 L525.2,374.0 L525.5,372.2 L525.7,373.6 L526.0,374.9 L526.2,376.7 L526.5,374.0 L526.7,377.1 L527.0,374.3 L527.2,374.8 L527.5,375.1 L527.7,371.8 L528.0,375.9 L528.2,375.9 L528.5,372.6 L528.7,377.8 L529.0,375.2 L529.2,373.0 L529.5,373.7 L529.7,373.3 L530.0,378.2 L530.2,377.8 L530.5,375.3 L530.7,375.1 L531.0,375.4 L531.2,373.7 L531.5,374.3 L531.7,370.9 L532.0,375.6 L532.2,375.9 L532.5,377.4 L532.7,372.1 L533.0,372.5 L533.2,377.8 L533.5,375.4 L533.7,376.1 L534.0,376.4 L534.2,376.6 L534.5,378.7 L534.7,377.2 L535.0,375.3 L535.2,374.3 L535.5,373.4 L535.7,377.7 L536.0,372.9 L536.2,375.6 L536.5,373.4 L536.7,374.4 L537.0,374.4 L537.2,377.0 L537.5,376.8 L537.7,375.5 L538.0,377.0 L538.2,375.7 L538.5,378.5 L538.7,375.5 L539.0,374.2 L539.2,376.7 L539.5,374.0 L539.7,374.6 L540.0,372.8 L540.2,372.6 L540.5,376.8 L540.7,376.1 L541.0,375.0 L541.2,375.6 L541.5,374.2 L541.7,375.7 L542.0,375.4 L542.2,373.2 L542.5,377.3 L542.7,375.7 L543.0,377.5 L543.2,374.1 L543.5,374.4 L543.7,374.8 L544.0,375.3 L544.2,377.2 L544.5,376.1 L544.7,377.9 L545.0,374.3 L545.2,378.1 L545.5,378.2 L545.7,374.0 L546.0,377.9 L546.2,374.3 L546.5,377.1 L546.7,373.6 L547.0,376.3 L547.2,375.1 L547.5,375.4 L547.7,377.5 L548.0,373.7 L548.2,377.8 L548.5,378.9 L548.7,376.4 L549.0,376.3 L549.2,377.8 L549.5,378.0 L549.7,378.8 L550.0,376.9 L550.2,372.2 L550.5,375.8 L550.7,375.1 L551.0,375.6 L551.2,373.4 L551.5,375.7 L551.7,378.3 L552.0,371.8 L552.2,376.8 L552.5,374.1 L552.7,375.6 L553.0,375.3 L553.2,375.1 L553.5,374.6 L553.7,377.6 L554.0,375.9 L554.2,372.8 L554.5,375.4 L554.7,374.0 L555.0,373.8 L555.2,375.3 L555.5,374.2 L555.7,375.5 L556.0,373.0 L556.2,377.6 L556.5,377.0 L556.7,378.3 L557.0,378.1 L557.2,377.7 L557.5,378.9 L557.7,373.7 L558.0,373.9 L558.2,374.1 L558.5,379.0 L558.7,375.4 L559.0,377.5 L559.2,374.1 L559.5,376.5 L559.7,376.8 L560.0,376.9 L560.2,374.1 L560.5,374.4 L560.7,377.2 L561.0,374.4 L561.2,372.3 L561.5,376.3 L561.7,371.8 L562.0,373.1 L562.2,376.5 L562.5,375.7 L562.7,375.1 L563.0,372.3 L563.2,377.9 L563.5,378.4 L563.7,377.1 L564.0,376.9 L564.2,378.2 L564.5,373.4 L564.7,374.5 L565.0,377.4 L565.2,374.6 L565.5,376.7 L565.7,377.1 L566.0,375.4 L566.2,373.8 L566.5,376.9 L566.7,376.4 L567.0,374.9 L567.2,374.8 L567.5,377.0 L567.7,374.2 L568.0,374.4 L568.2,372.3 L568.5,375.8 L568.7,375.1 L569.0,376.3 L569.2,374.7 L569.5,375.3 L569.7,373.7 L570.0,377.1 L570.2,376.2 L570.5,379.0 L570.7,377.0 L571.0,376.0 L571.2,379.1 L571.5,377.9 L571.7,375.6 L572.0,375.5 L572.2,377.5 L572.5,375.9 L572.7,378.4 L573.0,374.2 L573.2,373.2 L573.5,375.1 L573.7,376.1 L574.0,375.7 L574.2,374.2 L574.5,373.4 L574.7,374.7 L575.0,377.4 L575.2,377.2 L575.5,375.8 L575.7,376.2 L576.0,375.7 L576.2,375.3 L576.5,377.3 L576.7,374.8 L577.0,378.2 L577.2,374.0 L577.5,375.1 L577.7,375.6 L578.0,376.5 L578.2,377.6 L578.5,376.1 L578.7,374.5 L579.0,373.7 L579.2,373.0 L579.5,374.1 L579.7,378.4 L580.0,373.2 L580.2,378.5 L580.5,376.9 L580.7,375.6 L581.0,373.7 L581.2,376.9 L581.5,379.8 L581.7,374.9 L582.0,374.9 L582.2,374.2 L582.5,374.0 L582.7,372.9 L583.0,373.1 L583.2,374.6 L583.5,374.9 L583.7,377.2 L584.0,378.5 L584.2,371.7 L584.5,378.1 L584.7,377.0 L585.0,378.1 L585.2,376.8 L585.5,373.2 L585.7,373.8 L586.0,374.7 L586.2,375.2 L586.5,374.3 L586.7,374.4 L587.0,373.9 L587.2,374.0 L587.5,373.6 L587.7,373.0 L588.0,375.8 L588.2,374.3 L588.5,373.3 L588.7,376.1 L589.0,376.2 L589.2,378.7 L589.5,373.2 L589.7,376.4 L590.0,377.3 L590.2,379.3 L590.5,374.7 L590.7,375.6 L591.0,374.0 L591.2,373.0 L591.5,377.1 L591.7,375.5 L592.0,376.0 L592.2,377.5 L592.5,379.9 L592.7,373.6 L593.0,376.7 L593.2,373.7 L593.5,376.1 L593.7,375.7 L594.0,375.0 L594.2,374.6 L594.5,375.1 L594.7,374.9 L595.0,374.0 L595.2,374.1 L595.5,374.0 L595.7,376.4 L596.0,374.3 L596.2,374.8 L596.5,379.3 L596.7,371.9 L597.0,372.2 L597.2,374.8 L597.5,375.7 L597.7,374.3 L598.0,377.1 L598.2,375.5 L598.5,375.8 L598.7,373.2 L599.0,377.8 L599.2,377.7 L599.5,378.3 L599.7,376.0 L600.0,374.2 L600.2,374.7 L600.5,375.3 L600.7,378.1 L601.0,373.6 L601.2,372.9 L601.5,376.1 L601.7,375.8 L602.0,375.5 L602.2,375.2 L602.5,373.7 L602.7,374.8 L603.0,379.8 L603.2,376.6 L603.5,372.1 L603.7,373.4 L604.0,376.8 L604.2,378.0 L604.5,373.1 L604.7,374.9 L605.0,377.8 L605.2,376.1 L605.5,377.8 L605.7,375.9 L606.0,376.1 L606.2,375.5 L606.5,376.0 L606.7,374.4 L607.0,377.2 L607.2,373.4 L607.5,377.4 L607.7,374.3 L608.0,376.6 L608.2,379.5 L608.5,377.6 L608.7,377.4 L609.0,377.5 L609.2,373.1 L609.5,374.8 L609.7,379.0 L610.0,375.3 L610.2,376.1 L610.5,373.4 L610.7,375.3 L611.0,373.1 L611.2,376.3 L611.5,374.4 L611.7,377.7 L612.0,372.8 L612.2,372.9 L612.5,375.9 L612.7,372.5 L613.0,373.5 L613.2,377.2 L613.5,377.9 L613.7,375.5 L614.0,376.4 L614.2,375.0 L614.5,374.5 L614.7,373.6 L615.0,375.1 L615.2,375.3 L615.5,375.4 L615.7,375.6 L616.0,372.2 L616.2,372.7 L616.5,375.2 L616.7,373.5 L617.0,375.0 L617.2,377.2 L617.5,374.3 L617.7,378.2 L618.0,377.0 L618.2,377.8 L618.5,375.5 L618.7,375.5 L619.0,376.9 L619.2,375.7 L619.5,374.7 L619.7,376.4 L620.0,372.2 L620.2,373.2 L620.5,372.6 L620.7,372.1 L621.0,373.6 L621.2,374.2 L621.5,373.9 L621.7,376.6 L622.0,370.7 L622.2,373.7 L622.5,374.1 L622.7,372.2 L623.0,374.7 L623.2,372.3 L623.5,372.4 L623.7,370.1 L624.0,373.5 L624.2,373.5 L624.5,373.0 L624.7,373.5 L625.0,369.6 L625.2,368.6 L625.5,372.4 L625.7,368.5 L626.0,369.7 L626.2,368.8 L626.5,368.4 L626.7,370.0 L627.0,370.1 L627.2,372.2 L627.5,371.4 L627.7,367.8 L628.0,365.2 L628.2,367.5 L628.5,363.5 L628.7,368.4 L629.0,366.2 L629.2,361.2 L629.5,365.5 L629.7,365.2 L630.0,364.6 L630.2,363.3 L630.5,359.9 L630.7,357.6 L631.0,355.5 L631.2,354.7 L631.5,353.9 L631.7,355.6 L632.0,350.4 L632.2,353.1 L632.5,351.7 L632.7,348.6 L633.0,347.4 L633.2,347.0 L633.5,344.2 L633.7,338.7 L633.9,338.2 L634.6,300.0 L635.2,250.0 L635.9,88.0 L636.8,250.0 L639.5,310.0 L639.7,314.5 L640.0,315.0 L640.2,318.2 L640.5,325.1 L640.7,327.4 L641.0,330.7 L641.2,329.4 L641.5,334.0 L641.7,336.6 L642.0,339.1 L642.2,340.1 L642.5,345.0 L642.7,347.6 L643.0,351.0 L643.2,351.9 L643.5,352.3 L643.7,353.0 L644.0,353.6 L644.2,357.4 L644.5,358.7 L644.7,360.4 L645.0,362.5 L645.2,359.1 L645.5,359.3 L645.7,364.9 L646.0,361.0 L646.2,367.9 L646.5,367.8 L646.7,364.1 L647.0,366.5 L647.2,368.9 L647.5,367.0 L647.7,367.0 L648.0,367.7 L648.2,366.9 L648.5,369.5 L648.7,367.3 L649.0,372.5 L649.2,375.2 L649.5,368.7 L649.7,374.1 L650.0,374.7 L650.2,373.8 L650.5,374.4 L650.7,372.1 L651.0,372.3 L651.2,374.8 L651.5,375.1 L651.7,377.9 L652.0,374.6 L652.2,376.6 L652.5,377.3 L652.7,378.0 L653.0,376.4 L653.2,374.6 L653.5,377.3 L653.7,375.4 L654.0,375.8 L654.2,379.9 L654.5,378.5 L654.7,375.7 L655.0,375.9 L655.2,378.8 L655.5,378.5" fill="none" stroke="#0000ff" stroke-width="1.8" stroke-linejoin="round"/>
<path d="M37.2,430.5 L37.5,429.5 L37.7,431.3 L38.0,427.4 L38.2,429.3 L38.5,426.9 L38.7,431.2 L39.0,428.1 L39.2,430.3 L39.5,429.5 L39.7,430.3 L40.0,428.8 L40.2,429.4 L40.5,429.0 L40.7,430.8 L41.0,429.0 L41.2,429.7 L41.5,430.0 L41.7,429.2 L42.0,431.7 L42.2,430.4 L42.5,431.7 L42.7,429.3 L43.0,429.2 L43.2,429.4 L43.5,429.5 L43.7,429.9 L44.0,430.7 L44.2,428.3 L44.5,428.5 L44.7,428.7 L45.0,429.6 L45.2,428.9 L45.5,429.0 L45.7,429.1 L46.0,432.2 L46.2,430.2 L46.5,429.6 L46.7,429.6 L47.0,427.8 L47.2,429.5 L47.5,431.6 L47.7,428.2 L48.0,429.3 L48.2,429.4 L48.5,429.4 L48.7,428.9 L49.0,431.4 L49.2,431.6 L49.5,429.3 L49.7,430.5 L50.0,426.2 L50.2,430.7 L50.5,430.0 L50.7,430.3 L51.0,430.8 L51.2,431.6 L51.5,431.0 L51.7,431.1 L52.0,430.3 L52.2,430.5 L52.5,432.2 L52.7,430.3 L53.0,430.6 L53.2,431.0 L53.5,432.1 L53.7,430.6 L54.0,429.6 L54.2,432.3 L54.5,433.0 L54.7,428.5 L55.0,428.6 L55.2,430.8 L55.5,431.6 L55.7,428.4 L56.0,430.7 L56.2,428.3 L56.5,432.0 L56.7,430.1 L57.0,431.1 L57.2,429.1 L57.5,430.4 L57.7,429.6 L58.0,430.3 L58.2,429.5 L58.5,431.3 L58.7,430.1 L59.0,431.1 L59.2,428.6 L59.5,429.0 L59.7,428.0 L60.0,428.5 L60.2,429.9 L60.5,429.6 L60.7,430.9 L61.0,431.9 L61.2,429.7 L61.5,430.6 L61.7,430.9 L62.0,432.0 L62.2,427.9 L62.5,429.7 L62.7,431.7 L63.0,432.3 L63.2,432.8 L63.5,431.5 L63.7,430.4 L64.0,433.3 L64.2,429.3 L64.5,428.9 L64.7,430.8 L65.0,430.5 L65.2,431.8 L65.5,432.4 L65.7,432.6 L66.0,430.0 L66.2,429.9 L66.5,431.9 L66.7,430.6 L67.0,431.2 L67.2,430.7 L67.5,431.1 L67.7,433.0 L68.0,431.3 L68.2,431.9 L68.5,432.8 L68.7,429.5 L69.0,431.0 L69.2,431.2 L69.5,430.0 L69.7,432.6 L70.0,433.4 L70.2,431.3 L70.5,428.6 L70.7,432.5 L71.0,433.5 L71.2,429.6 L71.5,431.3 L71.7,429.1 L72.0,433.5 L72.2,430.5 L72.5,434.3 L72.7,431.8 L73.0,432.6 L73.2,432.5 L73.5,434.2 L73.7,432.7 L74.0,432.9 L74.2,431.2 L74.5,432.4 L74.7,430.2 L75.0,433.5 L75.2,431.9 L75.5,431.0 L75.7,433.3 L76.0,430.6 L76.2,431.5 L76.5,431.7 L76.7,430.0 L77.0,432.4 L77.2,432.0 L77.5,433.0 L77.7,432.7 L78.0,431.8 L78.2,430.1 L78.5,430.5 L78.7,430.6 L79.0,432.0 L79.2,430.9 L79.5,433.2 L79.7,431.0 L80.0,433.0 L80.2,432.0 L80.5,432.0 L80.7,431.3 L81.0,433.6 L81.2,429.1 L81.5,434.0 L81.7,433.3 L82.0,431.8 L82.2,434.0 L82.5,430.1 L82.7,434.0 L83.0,430.8 L83.2,434.0 L83.5,431.3 L83.7,431.1 L84.0,429.6 L84.2,429.2 L84.5,432.8 L84.7,433.5 L85.0,430.8 L85.2,432.2 L85.5,431.4 L85.7,433.0 L86.0,430.7 L86.2,432.8 L86.5,433.2 L86.7,433.4 L87.0,433.7 L87.2,433.0 L87.5,433.4 L87.7,433.5 L88.0,431.3 L88.2,433.9 L88.5,433.3 L88.7,434.0 L89.0,433.2 L89.2,433.9 L89.5,434.7 L89.7,432.2 L90.0,432.9 L90.2,432.0 L90.5,431.8 L90.7,431.2 L91.0,431.0 L91.2,429.7 L91.5,433.3 L91.7,430.6 L92.0,431.9 L92.2,431.0 L92.5,433.0 L92.7,431.4 L93.0,431.8 L93.2,435.5 L93.5,432.2 L93.7,435.7 L94.0,434.2 L94.2,431.6 L94.5,432.2 L94.7,433.8 L95.0,434.3 L95.2,432.3 L95.5,432.7 L95.7,429.6 L96.0,433.7 L96.2,431.9 L96.5,432.2 L96.7,432.6 L97.0,434.6 L97.2,432.3 L97.5,434.1 L97.7,432.6 L98.0,431.8 L98.2,430.7 L98.5,433.3 L98.7,430.8 L99.0,432.7 L99.2,434.5 L99.5,431.6 L99.7,432.2 L100.0,431.6 L100.2,432.7 L100.5,434.9 L100.7,432.0 L101.0,431.3 L101.2,431.6 L101.5,432.5 L101.7,432.8 L102.0,429.4 L102.2,432.5 L102.5,432.1 L102.7,431.6 L103.0,431.4 L103.2,434.8 L103.5,435.0 L103.7,432.4 L104.0,433.0 L104.2,430.8 L104.5,434.8 L104.7,433.8 L105.0,434.9 L105.2,433.5 L105.5,433.1 L105.7,432.1 L106.0,435.0 L106.2,433.0 L106.5,433.6 L106.7,433.2 L107.0,432.9 L107.2,434.4 L107.5,432.3 L107.7,432.7 L108.0,430.4 L108.2,431.2 L108.5,431.7 L108.7,436.1 L109.0,432.4 L109.2,433.4 L109.5,433.5 L109.7,434.2 L110.0,434.5 L110.2,433.1 L110.5,433.6 L110.7,435.0 L111.0,433.4 L111.2,433.3 L111.5,434.5 L111.7,431.4 L112.0,430.8 L112.2,434.0 L112.5,433.6 L112.7,433.2 L113.0,432.8 L113.2,434.4 L113.5,433.4 L113.7,433.4 L114.0,430.1 L114.2,433.6 L114.5,433.9 L114.7,432.9 L115.0,432.7 L115.2,433.2 L115.5,430.9 L115.7,435.2 L116.0,434.0 L116.2,435.6 L116.5,435.6 L116.7,433.6 L117.0,434.6 L117.2,432.9 L117.5,433.2 L117.7,433.6 L118.0,433.7 L118.2,432.9 L118.5,433.5 L118.7,430.7 L119.0,431.9 L119.2,437.3 L119.5,432.6 L119.7,433.0 L120.0,435.0 L120.2,435.8 L120.5,431.4 L120.7,436.6 L121.0,431.6 L121.2,434.5 L121.5,433.0 L121.7,432.2 L122.0,433.9 L122.2,431.9 L122.5,432.4 L122.7,433.3 L123.0,433.8 L123.2,430.8 L123.5,431.5 L123.7,431.5 L124.0,435.1 L124.2,431.9 L124.5,433.8 L124.7,432.0 L125.0,434.0 L125.2,433.9 L125.5,432.7 L125.7,434.3 L126.0,432.1 L126.2,434.8 L126.5,435.7 L126.7,434.1 L127.0,434.8 L127.2,434.0 L127.5,436.2 L127.7,431.3 L128.0,434.9 L128.2,432.0 L128.4,434.0 L128.7,431.4 L128.9,430.7 L129.2,433.6 L129.4,434.5 L129.7,435.6 L129.9,432.9 L130.2,433.1 L130.4,433.5 L130.7,431.8 L130.9,435.8 L131.2,432.3 L131.4,432.5 L131.7,433.5 L131.9,433.1 L132.2,436.2 L132.4,431.9 L132.7,435.0 L132.9,435.3 L133.2,431.3 L133.4,434.2 L133.7,432.2 L133.9,434.3 L134.2,431.0 L134.4,433.2 L134.7,431.4 L134.9,432.3 L135.2,430.8 L135.4,434.4 L135.7,436.0 L135.9,433.6 L136.2,435.1 L136.4,433.9 L136.7,432.2 L136.9,433.4 L137.2,432.8 L137.4,434.5 L137.7,435.0 L137.9,431.9 L138.2,433.4 L138.4,432.2 L138.7,433.7 L138.9,434.1 L139.2,432.7 L139.4,434.6 L139.7,434.4 L139.9,431.1 L140.2,432.1 L140.4,434.0 L140.7,433.8 L140.9,434.8 L141.2,431.7 L141.4,433.7 L141.7,433.1 L141.9,433.7 L142.2,435.7 L142.4,432.1 L142.7,432.3 L142.9,433.1 L143.2,436.4 L143.4,435.2 L143.7,434.0 L143.9,436.3 L144.2,431.3 L144.4,435.4 L144.7,431.9 L144.9,432.1 L145.2,435.0 L145.4,436.5 L145.7,434.0 L145.9,432.2 L146.2,433.5 L146.4,433.4 L146.7,433.3 L146.9,432.5 L147.2,431.7 L147.4,434.5 L147.7,434.3 L147.9,432.1 L148.2,433.5 L148.4,434.8 L148.7,433.6 L148.9,432.9 L149.2,433.0 L149.4,434.6 L149.7,435.4 L149.9,433.8 L150.2,433.9 L150.4,432.5 L150.7,435.6 L150.9,435.9 L151.2,432.3 L151.4,434.6 L151.7,436.4 L151.9,432.4 L152.2,431.1 L152.4,435.4 L152.7,434.9 L152.9,433.4 L153.2,433.1 L153.4,435.1 L153.7,435.6 L153.9,434.5 L154.2,433.6 L154.4,434.0 L154.7,433.0 L154.9,433.1 L155.2,433.6 L155.4,432.8 L155.7,436.7 L155.9,431.8 L156.2,433.9 L156.4,434.4 L156.7,433.8 L156.9,435.3 L157.2,434.9 L157.4,432.1 L157.7,432.2 L157.9,435.2 L158.2,433.2 L158.4,432.5 L158.7,435.1 L158.9,436.4 L159.2,433.5 L159.4,433.2 L159.7,432.8 L159.9,434.4 L160.2,432.5 L160.4,433.3 L160.7,435.5 L160.9,432.8 L161.2,435.0 L161.4,433.5 L161.7,432.1 L161.9,433.2 L162.2,433.4 L162.4,436.1 L162.7,432.9 L162.9,433.2 L163.2,432.7 L163.4,431.6 L163.7,433.2 L163.9,433.5 L164.2,430.9 L164.4,433.0 L164.7,433.9 L164.9,431.9 L165.2,431.7 L165.4,434.6 L165.7,431.9 L165.9,430.8 L166.2,435.5 L166.4,430.9 L166.7,432.5 L166.9,431.8 L167.2,434.1 L167.4,431.9 L167.7,430.0 L167.9,434.2 L168.2,434.9 L168.4,434.8 L168.7,431.1 L168.9,434.9 L169.2,434.7 L169.4,432.5 L169.7,431.2 L169.9,435.2 L170.2,430.2 L170.4,431.1 L170.7,432.9 L170.9,433.7 L171.2,436.5 L171.4,432.1 L171.7,434.3 L171.9,434.1 L172.2,430.8 L172.4,434.8 L172.7,434.0 L172.9,434.6 L173.2,434.2 L173.4,433.8 L173.7,432.7 L173.9,433.6 L174.2,433.6 L174.4,434.4 L174.7,432.9 L174.9,433.0 L175.2,432.8 L175.4,432.7 L175.7,432.2 L175.9,433.1 L176.2,434.4 L176.4,436.0 L176.7,435.7 L176.9,431.8 L177.2,432.3 L177.4,433.3 L177.7,433.6 L177.9,433.9 L178.2,432.6 L178.4,431.4 L178.7,431.0 L178.9,434.6 L179.2,434.2 L179.4,435.3 L179.7,430.9 L179.9,434.9 L180.2,430.6 L180.4,433.5 L180.7,430.6 L180.9,431.8 L181.2,433.9 L181.4,431.7 L181.7,433.2 L181.9,433.9 L182.2,434.1 L182.4,435.1 L182.7,432.3 L182.9,434.5 L183.2,433.6 L183.4,431.7 L183.7,432.7 L183.9,434.7 L184.2,435.0 L184.4,431.2 L184.7,431.5 L184.9,432.2 L185.2,434.3 L185.4,430.9 L185.7,433.6 L185.9,431.6 L186.2,432.8 L186.4,432.5 L186.7,431.0 L186.9,432.1 L187.2,428.8 L187.4,431.0 L187.7,428.5 L187.9,428.0 L188.2,430.0 L188.4,430.2 L188.7,430.3 L188.9,427.3 L189.2,428.8 L189.4,430.4 L189.7,428.8 L189.9,431.1 L190.2,432.4 L190.4,430.3 L190.7,431.1 L190.9,431.6 L191.2,432.1 L191.4,430.8 L191.7,431.8 L191.9,431.2 L192.2,432.4 L192.4,433.4 L192.7,433.0 L192.9,434.2 L193.2,432.3 L193.4,432.6 L193.7,431.0 L193.9,431.0 L194.2,433.3 L194.4,432.9 L194.7,430.2 L194.9,431.3 L195.2,434.8 L195.4,430.8 L195.7,431.9 L195.9,433.5 L196.2,434.7 L196.4,430.9 L196.7,432.9 L196.9,432.4 L197.2,432.5 L197.4,430.6 L197.7,432.1 L197.9,433.8 L198.2,434.4 L198.4,433.4 L198.7,434.3 L198.9,430.6 L199.2,432.9 L199.4,429.3 L199.7,433.7 L199.9,432.0 L200.2,430.5 L200.4,431.4 L200.7,430.8 L200.9,429.8 L201.2,432.2 L201.4,431.7 L201.7,432.1 L201.9,432.1 L202.2,430.6 L202.4,431.2 L202.7,431.5 L202.9,432.9 L203.2,430.0 L203.4,434.1 L203.7,429.6 L203.9,431.1 L204.2,434.0 L204.4,430.3 L204.7,432.2 L204.9,431.0 L205.2,433.5 L205.4,429.5 L205.7,430.9 L205.9,431.3 L206.2,431.1 L206.4,430.9 L206.7,430.2 L206.9,431.6 L207.2,429.6 L207.4,432.8 L207.7,429.1 L207.9,432.6 L208.2,432.1 L208.4,429.9 L208.7,430.9 L208.9,427.7 L209.2,428.5 L209.4,431.3 L209.7,431.1 L209.9,432.2 L210.2,429.8 L210.4,430.4 L210.7,431.1 L210.9,427.9 L211.2,430.5 L211.4,429.4 L211.7,428.0 L211.9,426.6 L212.2,427.7 L212.4,428.1 L212.7,425.3 L212.9,424.0 L213.2,424.3 L213.4,424.4 L213.7,422.2 L213.9,418.9 L214.2,420.5 L214.4,419.4 L214.7,418.3 L214.9,415.5 L215.2,418.2 L215.4,418.3 L215.7,416.7 L215.9,413.9 L216.2,414.7 L216.4,414.2 L216.7,413.4 L216.9,415.2 L217.2,412.0 L217.4,416.1 L217.7,413.6 L217.9,412.6 L218.2,413.5 L218.4,414.1 L218.7,415.6 L218.9,412.9 L219.2,414.8 L219.4,412.1 L219.7,414.4 L219.9,412.7 L220.2,416.0 L220.4,413.5 L220.7,413.4 L220.9,413.6 L221.2,415.5 L221.4,412.6 L221.7,412.1 L221.9,413.5 L222.2,412.6 L222.4,411.9 L222.7,412.9 L222.9,410.3 L223.2,409.9 L223.4,412.1 L223.7,410.9 L223.9,408.7 L224.3,404.0 L225.0,385.0 L225.7,360.0 L226.4,310.0 L227.5,245.0 L227.6,-20.0 L230.3,-20.0 L230.5,240.0 L230.7,310.0 L231.2,360.0 L232.2,405.0 L233.0,413.0 L233.2,413.2 L233.4,413.7 L233.7,413.4 L233.9,413.8 L234.2,415.9 L234.4,417.7 L234.7,416.5 L234.9,417.3 L235.2,416.2 L235.4,419.1 L235.7,417.8 L235.9,417.7 L236.2,419.8 L236.4,418.4 L236.7,417.1 L236.9,418.0 L237.2,415.1 L237.4,416.3 L237.7,417.8 L237.9,414.8 L238.2,415.9 L238.4,415.8 L238.7,413.8 L238.9,412.1 L239.2,412.9 L239.4,408.6 L239.7,408.7 L239.9,409.7 L240.2,406.4 L240.4,407.4 L240.7,412.2 L240.9,409.3 L241.2,413.9 L241.4,411.4 L241.7,415.9 L241.9,414.2 L242.2,414.4 L242.4,417.3 L242.7,414.7 L242.9,418.8 L243.2,418.8 L243.4,418.4 L243.7,419.0 L243.9,418.2 L244.2,422.3 L244.4,420.3 L244.7,418.4 L244.9,419.2 L245.2,418.7 L245.4,418.6 L245.7,420.4 L245.9,418.3 L246.2,417.7 L246.4,418.1 L246.7,418.0 L246.9,418.8 L247.2,417.1 L247.4,420.3 L247.7,420.8 L247.9,420.2 L248.2,419.6 L248.4,422.8 L248.7,421.5 L248.9,421.8 L249.2,420.7 L249.4,420.7 L249.7,421.7 L249.9,418.0 L250.2,421.5 L250.4,420.5 L250.7,423.7 L250.9,422.9 L251.2,422.2 L251.4,424.7 L251.7,426.6 L251.9,426.0 L252.2,428.0 L252.4,427.0 L252.7,426.0 L252.9,427.3 L253.2,428.4 L253.4,427.5 L253.7,425.2 L253.9,430.3 L254.2,427.0 L254.4,426.9 L254.7,425.8 L254.9,426.6 L255.2,426.1 L255.4,428.7 L255.7,427.6 L255.9,427.0 L256.2,426.0 L256.4,425.7 L256.7,425.5 L256.9,423.1 L257.2,425.5 L257.4,424.4 L257.7,426.7 L257.9,421.3 L258.2,420.2 L258.4,423.5 L258.7,423.6 L258.9,423.4 L259.2,422.8 L259.4,423.5 L259.7,424.1 L259.9,425.9 L260.2,425.6 L260.4,427.3 L260.7,427.7 L260.9,427.9 L261.2,425.6 L261.4,425.9 L261.7,426.7 L261.9,429.4 L262.2,429.4 L262.4,428.8 L262.7,427.5 L262.9,427.4 L263.2,426.2 L263.4,427.5 L263.7,428.7 L263.9,425.0 L264.2,427.0 L264.4,428.0 L264.7,430.2 L264.9,428.9 L265.2,428.1 L265.4,429.5 L265.7,425.4 L265.9,426.3 L266.2,425.2 L266.4,427.2 L266.7,423.5 L266.9,427.3 L267.2,427.3 L267.4,428.1 L267.7,426.4 L267.9,426.2 L268.2,428.8 L268.4,425.0 L268.7,424.7 L268.9,426.7 L269.2,427.2 L269.4,426.8 L269.7,427.9 L269.9,428.5 L270.2,425.9 L270.4,426.2 L270.7,428.5 L270.9,423.9 L271.2,429.5 L271.4,427.6 L271.7,428.2 L271.9,428.3 L272.2,427.4 L272.4,426.9 L272.7,428.5 L272.9,429.2 L273.2,425.8 L273.4,427.4 L273.7,424.2 L273.9,428.3 L274.2,426.7 L274.4,424.7 L274.7,428.5 L274.9,427.6 L275.2,424.8 L275.4,427.1 L275.7,428.9 L275.9,425.8 L276.2,425.8 L276.4,425.9 L276.7,429.1 L276.9,428.5 L277.2,424.2 L277.4,425.6 L277.7,424.5 L277.9,425.7 L278.2,427.8 L278.4,428.3 L278.7,427.7 L278.9,427.2 L279.2,427.1 L279.4,425.3 L279.7,428.2 L279.9,426.4 L280.2,426.1 L280.4,428.5 L280.7,425.3 L280.9,424.7 L281.2,428.1 L281.4,427.5 L281.7,429.3 L281.9,424.1 L282.2,425.6 L282.4,423.1 L282.7,425.3 L282.9,425.8 L283.2,425.9 L283.4,425.9 L283.7,425.9 L283.9,425.0 L284.2,425.5 L284.4,426.5 L284.7,428.1 L284.9,424.1 L285.2,423.5 L285.4,427.4 L285.7,425.9 L285.9,423.1 L286.2,426.4 L286.4,426.7 L286.7,424.8 L286.9,423.2 L287.2,424.0 L287.4,422.3 L287.7,420.3 L287.9,420.4 L288.2,419.7 L288.4,415.6 L288.7,413.3 L288.9,412.0 L289.5,385.0 L290.2,360.0 L290.8,310.0 L291.8,245.0 L291.9,-20.0 L294.6,-20.0 L294.8,240.0 L295.0,310.0 L295.5,360.0 L296.3,400.0 L297.1,415.0 L297.4,417.4 L297.7,416.6 L297.9,417.0 L298.2,419.6 L298.4,420.0 L298.7,418.9 L298.9,417.2 L299.2,422.7 L299.4,420.5 L299.7,419.7 L299.9,420.9 L300.2,419.1 L300.4,421.2 L300.7,422.8 L300.9,421.2 L301.2,423.6 L301.4,421.7 L301.7,423.4 L301.9,422.5 L302.2,422.8 L302.4,423.9 L302.7,428.0 L302.9,424.7 L303.2,424.4 L303.4,428.3 L303.7,427.8 L303.9,426.6 L304.2,426.1 L304.4,427.7 L304.7,428.7 L304.9,425.9 L305.2,429.7 L305.4,428.1 L305.7,428.1 L305.9,428.0 L306.2,426.4 L306.4,428.5 L306.7,427.5 L306.9,428.1 L307.2,425.7 L307.4,428.6 L307.7,426.8 L307.9,427.7 L308.2,428.2 L308.4,428.9 L308.7,427.9 L308.9,430.3 L309.2,430.1 L309.4,426.9 L309.7,430.5 L309.9,430.4 L310.2,427.0 L310.4,429.3 L310.7,431.3 L310.9,426.9 L311.2,428.8 L311.4,428.5 L311.7,429.9 L311.9,428.4 L312.2,429.3 L312.4,429.4 L312.7,428.3 L312.9,429.4 L313.2,428.9 L313.4,429.1 L313.7,431.1 L313.9,430.1 L314.2,427.9 L314.4,429.4 L314.7,430.7 L314.9,429.9 L315.2,429.2 L315.4,429.7 L315.7,429.6 L315.9,431.2 L316.2,429.4 L316.4,432.9 L316.7,429.9 L316.9,428.0 L317.2,430.5 L317.4,428.7 L317.7,431.5 L317.9,429.7 L318.2,431.4 L318.4,431.8 L318.7,431.1 L318.9,431.4 L319.2,432.8 L319.4,430.2 L319.7,430.4 L319.9,430.7 L320.2,430.2 L320.4,429.3 L320.7,432.2 L320.9,429.7 L321.2,430.9 L321.4,432.4 L321.7,432.7 L321.9,432.0 L322.2,430.2 L322.4,432.0 L322.7,434.3 L322.9,431.6 L323.2,432.2 L323.4,431.5 L323.7,434.4 L323.9,429.5 L324.2,432.6 L324.4,429.6 L324.7,433.8 L324.9,432.1 L325.2,431.6 L325.4,430.7 L325.7,431.0 L325.9,431.5 L326.2,435.2 L326.4,434.2 L326.7,430.7 L326.9,431.9 L327.2,434.3 L327.4,430.5 L327.7,433.6 L327.9,432.7 L328.2,433.0 L328.4,430.1 L328.7,432.9 L328.9,431.5 L329.2,434.9 L329.4,431.6 L329.7,433.7 L329.9,434.6 L330.2,432.8 L330.4,432.2 L330.7,434.8 L330.9,435.0 L331.2,433.8 L331.4,434.8 L331.7,434.0 L331.9,434.1 L332.2,435.2 L332.4,435.9 L332.7,430.6 L332.9,434.2 L333.2,432.9 L333.4,432.0 L333.7,432.0 L333.9,432.7 L334.2,432.1 L334.4,430.2 L334.7,433.7 L334.9,431.4 L335.2,432.6 L335.4,431.9 L335.7,430.3 L335.9,433.6 L336.2,435.3 L336.4,433.0 L336.7,434.3 L336.9,434.2 L337.2,433.0 L337.4,432.3 L337.7,432.3 L337.9,432.8 L338.2,432.7 L338.4,431.1 L338.7,432.0 L338.9,432.4 L339.2,434.8 L339.4,433.1 L339.7,434.1 L339.9,432.7 L340.2,435.4 L340.4,433.6 L340.7,432.5 L340.9,434.8 L341.2,430.7 L341.4,433.9 L341.7,432.4 L341.9,434.1 L342.2,433.4 L342.4,433.7 L342.7,436.9 L342.9,433.5 L343.2,434.9 L343.4,436.3 L343.7,433.0 L343.9,432.3 L344.2,434.4 L344.4,431.3 L344.7,432.7 L344.9,435.2 L345.2,433.6 L345.4,433.9 L345.7,433.5 L345.9,432.8 L346.2,436.1 L346.4,434.9 L346.7,435.3 L346.9,433.4 L347.2,431.5 L347.4,436.3 L347.7,437.1 L347.9,432.5 L348.2,435.9 L348.4,435.0 L348.7,434.0 L348.9,434.7 L349.2,433.9 L349.4,434.2 L349.7,434.5 L349.9,433.6 L350.2,436.7 L350.4,434.8 L350.7,431.9 L350.9,434.1 L351.2,432.6 L351.4,436.2 L351.7,436.6 L351.9,434.2 L352.2,432.4 L352.4,434.9 L352.7,434.2 L352.9,433.0 L353.2,434.4 L353.4,436.3 L353.7,431.7 L353.9,432.6 L354.2,435.9 L354.4,434.0 L354.7,436.1 L354.9,435.6 L355.2,434.7 L355.4,435.6 L355.7,437.2 L355.9,435.9 L356.2,435.2 L356.4,434.8 L356.7,433.0 L356.9,433.6 L357.2,434.2 L357.4,432.6 L357.7,434.3 L357.9,435.1 L358.2,435.0 L358.4,434.9 L358.7,435.2 L358.9,433.2 L359.2,435.0 L359.4,434.3 L359.7,433.9 L359.9,434.6 L360.2,432.2 L360.4,433.4 L360.7,434.6 L360.9,435.4 L361.2,436.1 L361.4,432.7 L361.7,435.5 L361.9,433.3 L362.2,433.9 L362.4,435.9 L362.7,435.5 L362.9,433.2 L363.2,436.0 L363.4,432.7 L363.7,435.8 L363.9,433.8 L364.2,433.1 L364.4,437.3 L364.7,434.3 L364.9,436.1 L365.2,435.9 L365.4,433.9 L365.7,434.7 L365.9,435.7 L366.2,436.2 L366.4,435.7 L366.7,435.0 L366.9,433.3 L367.2,435.0 L367.4,434.8 L367.7,435.2 L367.9,433.5 L368.2,437.3 L368.4,432.1 L368.7,433.3 L368.9,435.7 L369.2,436.2 L369.4,435.8 L369.7,432.4 L369.9,436.8 L370.2,434.6 L370.4,434.9 L370.7,435.7 L370.9,433.4 L371.2,436.3 L371.4,434.2 L371.7,435.4 L371.9,435.7 L372.2,435.2 L372.4,435.9 L372.7,433.3 L372.9,435.9 L373.2,435.5 L373.4,436.1 L373.7,434.9 L373.9,437.2 L374.2,437.2 L374.4,436.1 L374.7,435.4 L374.9,434.2 L375.2,434.3 L375.4,435.1 L375.7,435.7 L375.9,434.4 L376.2,435.8 L376.4,436.3 L376.7,433.3 L376.9,435.0 L377.2,435.8 L377.4,438.8 L377.7,433.3 L377.9,435.1 L378.2,434.7 L378.4,435.5 L378.7,432.8 L378.9,435.5 L379.2,432.7 L379.4,434.3 L379.7,433.5 L379.9,432.7 L380.2,435.6 L380.4,433.5 L380.7,433.2 L380.9,436.1 L381.2,434.7 L381.4,434.5 L381.7,435.2 L381.9,436.7 L382.2,435.4 L382.4,435.7 L382.7,437.4 L382.9,435.3 L383.2,434.6 L383.4,436.9 L383.7,437.6 L383.9,435.2 L384.2,437.0 L384.4,432.7 L384.7,434.9 L384.9,437.3 L385.2,436.6 L385.4,433.6 L385.7,435.7 L385.9,435.3 L386.2,436.7 L386.4,437.0 L386.7,435.4 L386.9,437.4 L387.2,434.3 L387.4,432.1 L387.7,436.5 L387.9,435.3 L388.2,434.6 L388.4,436.2 L388.7,437.0 L388.9,437.2 L389.2,433.7 L389.4,434.9 L389.7,438.9 L389.9,436.2 L390.2,434.9 L390.4,435.9 L390.7,436.9 L390.9,432.4 L391.2,436.7 L391.4,435.8 L391.7,436.1 L391.9,435.8 L392.2,434.2 L392.4,435.9 L392.7,437.2 L392.9,436.8 L393.2,432.1 L393.4,435.2 L393.7,436.3 L393.9,434.5 L394.2,435.1 L394.4,434.1 L394.7,436.0 L394.9,435.3 L395.2,437.1 L395.4,436.2 L395.7,434.0 L395.9,434.3 L396.2,435.0 L396.4,434.6 L396.7,434.7 L396.9,432.8 L397.2,434.5 L397.4,435.4 L397.7,436.2 L397.9,437.4 L398.2,435.9 L398.4,434.2 L398.7,437.8 L398.9,434.2 L399.2,435.6 L399.4,438.1 L399.7,434.9 L399.9,433.9 L400.2,433.1 L400.4,432.8 L400.7,434.0 L400.9,437.3 L401.2,437.8 L401.4,434.1 L401.7,436.1 L401.9,432.3 L402.2,437.4 L402.4,436.1 L402.7,436.0 L402.9,434.3 L403.2,437.2 L403.4,433.6 L403.7,436.6 L403.9,434.3 L404.2,434.7 L404.4,434.0 L404.7,435.6 L404.9,434.0 L405.2,435.2 L405.4,436.8 L405.7,436.2 L405.9,434.0 L406.2,437.1 L406.4,433.6 L406.7,436.4 L406.9,437.2 L407.2,435.0 L407.4,434.7 L407.7,436.1 L407.9,435.8 L408.2,433.8 L408.4,434.5 L408.7,433.6 L408.9,435.7 L409.2,436.0 L409.4,434.8 L409.7,436.1 L409.9,434.9 L410.2,438.4 L410.4,435.9 L410.7,437.5 L410.9,436.1 L411.2,434.4 L411.4,437.0 L411.7,434.4 L411.9,434.6 L412.2,435.3 L412.4,438.5 L412.7,435.8 L412.9,434.6 L413.2,435.8 L413.4,436.4 L413.7,436.5 L413.9,435.7 L414.2,434.1 L414.4,437.4 L414.7,434.0 L414.9,433.4 L415.2,437.4 L415.4,438.7 L415.7,435.2 L415.9,434.7 L416.2,435.9 L416.4,436.0 L416.7,437.5 L416.9,435.3 L417.2,435.3 L417.4,437.8 L417.7,437.7 L417.9,435.7 L418.2,436.5 L418.4,433.6 L418.7,436.6 L418.9,437.4 L419.2,434.2 L419.4,436.6 L419.7,435.7 L419.9,436.3 L420.2,436.6 L420.4,438.5 L420.7,435.2 L420.9,435.9 L421.2,435.9 L421.4,436.0 L421.7,436.4 L421.9,435.7 L422.2,435.0 L422.4,436.9 L422.7,435.4 L422.9,435.7 L423.2,434.5 L423.4,434.5 L423.7,436.9 L423.9,435.6 L424.2,438.2 L424.4,436.6 L424.7,434.1 L424.9,437.3 L425.2,435.6 L425.4,436.1 L425.7,435.6 L425.9,433.4 L426.2,436.7 L426.4,437.5 L426.7,433.8 L426.9,434.2 L427.2,437.9 L427.4,432.6 L427.7,434.4 L427.9,435.7 L428.2,437.8 L428.4,436.4 L428.7,436.5 L428.9,435.7 L429.2,435.2 L429.4,438.2 L429.7,436.0 L429.9,436.5 L430.2,435.3 L430.4,436.8 L430.7,435.7 L430.9,434.2 L431.2,435.0 L431.4,434.1 L431.7,437.7 L431.9,434.4 L432.2,436.8 L432.4,434.8 L432.7,437.4 L432.9,433.0 L433.2,438.1 L433.4,434.7 L433.7,436.8 L433.9,436.0 L434.2,436.7 L434.4,435.9 L434.7,433.5 L434.9,436.2 L435.2,433.9 L435.4,433.4 L435.7,436.2 L435.9,434.7 L436.2,432.4 L436.4,433.9 L436.7,436.6 L436.9,436.0 L437.2,435.1 L437.4,437.1 L437.7,434.7 L437.9,436.8 L438.2,434.1 L438.4,435.7 L438.7,436.4 L438.9,436.1 L439.2,434.2 L439.4,433.4 L439.7,436.0 L439.9,436.0 L440.2,436.4 L440.4,436.1 L440.7,435.7 L440.9,440.1 L441.2,434.7 L441.4,431.9 L441.7,436.8 L441.9,435.4 L442.2,435.9 L442.4,435.4 L442.7,438.4 L442.9,435.8 L443.2,435.1 L443.4,434.6 L443.7,438.3 L443.9,433.3 L444.2,435.2 L444.4,433.8 L444.7,437.5 L444.9,434.5 L445.2,436.8 L445.4,437.7 L445.7,436.8 L445.9,433.1 L446.2,436.7 L446.4,435.1 L446.7,437.2 L446.9,436.3 L447.2,433.9 L447.4,432.9 L447.7,436.9 L447.9,435.5 L448.2,437.6 L448.4,435.3 L448.7,438.8 L448.9,437.8 L449.2,437.8 L449.4,437.9 L449.7,435.3 L449.9,436.7 L450.2,434.9 L450.4,434.0 L450.7,435.1 L450.9,437.3 L451.2,433.1 L451.4,435.7 L451.7,437.5 L451.9,434.2 L452.2,437.6 L452.4,434.2 L452.7,435.1 L452.9,436.4 L453.2,437.0 L453.4,431.7 L453.7,436.6 L453.9,434.4 L454.2,435.1 L454.4,434.1 L454.7,437.3 L454.9,436.0 L455.2,435.6 L455.4,436.6 L455.7,436.1 L455.9,435.0 L456.2,433.5 L456.4,437.1 L456.7,437.1 L456.9,434.1 L457.2,437.1 L457.4,436.4 L457.7,436.6 L457.9,436.3 L458.2,434.5 L458.4,438.0 L458.7,435.8 L458.9,435.4 L459.2,434.0 L459.4,437.4 L459.7,436.8 L459.9,434.0 L460.2,435.3 L460.4,437.2 L460.7,436.6 L460.9,438.2 L461.2,436.9 L461.4,439.1 L461.7,436.9 L461.9,436.7 L462.2,436.0 L462.4,437.2 L462.7,436.4 L462.9,435.0 L463.2,435.5 L463.4,432.6 L463.7,437.1 L463.9,433.8 L464.2,434.8 L464.4,435.3 L464.7,435.6 L464.9,436.1 L465.2,435.6 L465.4,437.1 L465.7,436.8 L465.9,435.2 L466.2,436.5 L466.4,436.2 L466.7,435.0 L466.9,435.8 L467.2,431.7 L467.4,434.7 L467.7,437.1 L467.9,434.0 L468.2,436.6 L468.4,434.0 L468.7,434.5 L468.9,434.1 L469.2,437.9 L469.4,437.2 L469.7,434.1 L469.9,435.6 L470.2,436.9 L470.4,431.3 L470.7,433.5 L470.9,434.1 L471.2,434.0 L471.4,435.8 L471.7,436.1 L471.9,436.0 L472.2,437.4 L472.4,436.0 L472.7,434.8 L472.9,435.2 L473.2,434.0 L473.4,436.8 L473.7,435.9 L473.9,433.1 L474.2,437.0 L474.4,436.8 L474.7,434.2 L474.9,432.2 L475.2,436.4 L475.4,433.6 L475.7,434.9 L475.9,433.4 L476.2,432.8 L476.4,431.7 L476.7,434.6 L476.9,434.8 L477.2,433.6 L477.4,435.7 L477.7,436.7 L477.9,437.6 L478.2,434.5 L478.4,434.2 L478.7,432.6 L478.9,433.6 L479.2,434.6 L479.4,431.9 L479.7,434.1 L479.9,434.6 L480.2,434.9 L480.4,434.7 L480.7,434.1 L480.9,433.0 L481.2,432.4 L481.4,432.3 L481.7,433.2 L481.9,434.4 L482.2,435.3 L482.4,435.6 L482.7,430.3 L482.9,432.6 L483.2,434.1 L483.4,433.3 L483.7,434.8 L483.9,433.8 L484.2,433.0 L484.4,434.6 L484.7,431.5 L484.9,432.9 L485.2,432.2 L485.4,432.1 L485.7,432.5 L485.9,434.6 L486.2,432.8 L486.4,433.6 L486.7,433.3 L486.9,434.2 L487.2,431.4 L487.4,433.8 L487.7,431.3 L487.9,433.8 L488.2,432.4 L488.4,431.8 L488.7,431.6 L488.9,435.4 L489.2,436.0 L489.4,432.7 L489.7,434.3 L489.9,431.3 L490.2,433.3 L490.4,432.8 L490.7,431.9 L490.9,431.0 L491.2,433.2 L491.4,435.1 L491.7,435.7 L491.9,431.2 L492.2,435.8 L492.4,435.4 L492.7,434.4 L492.9,434.3 L493.2,431.5 L493.4,432.8 L493.7,433.6 L493.9,429.4 L494.2,434.3 L494.4,432.6 L494.7,432.1 L494.9,433.6 L495.2,433.1 L495.4,430.0 L495.7,431.7 L495.9,431.7 L496.2,429.9 L496.4,435.2 L496.7,430.3 L496.9,431.1 L497.2,432.8 L497.4,431.6 L497.7,429.4 L497.9,433.0 L498.2,430.6 L498.4,432.3 L498.7,426.2 L498.9,428.7 L499.2,424.8 L499.4,421.4 L499.6,420.0 L500.4,380.0 L501.3,250.0 L502.6,-20.0 L503.2,-20.0 L504.6,250.0 L505.5,380.0 L506.3,418.0 L506.7,422.7 L506.9,425.4 L507.2,426.1 L507.4,426.1 L507.7,426.8 L507.9,426.9 L508.2,427.5 L508.4,427.6 L508.7,425.7 L508.9,426.2 L509.2,426.7 L509.4,425.5 L509.7,427.4 L509.9,429.0 L510.2,426.5 L510.4,428.1 L510.7,427.7 L510.9,428.3 L511.2,427.7 L511.4,427.7 L511.7,427.8 L511.9,426.9 L512.2,426.9 L512.5,431.7 L512.7,429.5 L513.0,432.1 L513.2,430.8 L513.5,430.0 L513.7,431.2 L514.0,434.1 L514.2,430.9 L514.5,432.7 L514.7,431.0 L515.0,430.9 L515.2,433.0 L515.5,431.2 L515.7,432.4 L516.0,432.2 L516.2,429.4 L516.5,433.6 L516.7,431.7 L517.0,433.9 L517.2,433.5 L517.5,431.8 L517.7,432.7 L518.0,434.1 L518.2,433.3 L518.5,430.5 L518.7,432.0 L519.0,430.7 L519.2,432.7 L519.5,430.3 L519.7,434.5 L520.0,434.2 L520.2,434.6 L520.5,432.6 L520.7,431.2 L521.0,430.6 L521.2,433.4 L521.5,431.0 L521.7,431.7 L522.0,430.0 L522.2,432.6 L522.5,433.7 L522.7,434.3 L523.0,433.9 L523.2,435.5 L523.5,431.2 L523.7,431.6 L524.0,434.1 L524.2,432.3 L524.5,431.8 L524.7,433.2 L525.0,433.8 L525.2,431.5 L525.5,432.0 L525.7,432.6 L526.0,434.2 L526.2,433.2 L526.5,434.9 L526.7,433.2 L527.0,434.2 L527.2,433.1 L527.5,433.2 L527.7,433.0 L528.0,432.9 L528.2,435.5 L528.5,433.3 L528.7,433.8 L529.0,433.1 L529.2,434.2 L529.5,433.0 L529.7,434.4 L530.0,435.7 L530.2,433.5 L530.5,433.4 L530.7,434.2 L531.0,432.8 L531.2,434.8 L531.5,433.1 L531.7,435.4 L532.0,433.9 L532.2,433.8 L532.5,433.4 L532.7,435.9 L533.0,437.1 L533.2,431.4 L533.5,433.0 L533.7,435.5 L534.0,432.8 L534.2,434.7 L534.5,432.6 L534.7,434.4 L535.0,435.6 L535.2,435.6 L535.5,434.5 L535.7,432.7 L536.0,434.7 L536.2,432.3 L536.5,434.2 L536.7,433.8 L537.0,430.8 L537.2,432.8 L537.5,434.8 L537.7,436.0 L538.0,434.5 L538.2,437.0 L538.5,434.5 L538.7,433.9 L539.0,433.6 L539.2,434.9 L539.5,434.1 L539.7,433.8 L540.0,436.3 L540.2,435.2 L540.5,433.5 L540.7,433.3 L541.0,434.9 L541.2,436.2 L541.5,435.1 L541.7,434.7 L542.0,434.9 L542.2,433.1 L542.5,432.8 L542.7,434.2 L543.0,436.1 L543.2,436.3 L543.5,435.4 L543.7,432.2 L544.0,435.0 L544.2,435.9 L544.5,434.6 L544.7,433.4 L545.0,434.6 L545.2,434.7 L545.5,432.4 L545.7,434.9 L546.0,434.6 L546.2,433.8 L546.5,437.7 L546.7,435.1 L547.0,433.7 L547.2,437.4 L547.5,433.7 L547.7,433.3 L548.0,433.5 L548.2,437.8 L548.5,435.5 L548.7,435.7 L549.0,434.9 L549.2,436.1 L549.5,437.1 L549.7,433.5 L550.0,434.8 L550.2,432.7 L550.5,432.0 L550.7,434.9 L551.0,435.0 L551.2,435.6 L551.5,433.4 L551.7,436.8 L552.0,434.3 L552.2,435.9 L552.5,436.7 L552.7,436.6 L553.0,433.8 L553.2,433.0 L553.5,433.4 L553.7,436.3 L554.0,435.6 L554.2,435.0 L554.5,435.8 L554.7,433.2 L555.0,435.0 L555.2,433.7 L555.5,434.3 L555.7,433.5 L556.0,436.7 L556.2,434.7 L556.5,436.7 L556.7,435.4 L557.0,436.5 L557.2,434.3 L557.5,435.2 L557.7,436.2 L558.0,435.9 L558.2,436.5 L558.5,435.9 L558.7,433.2 L559.0,433.7 L559.2,435.0 L559.5,432.9 L559.7,435.1 L560.0,433.8 L560.2,435.6 L560.5,435.7 L560.7,434.7 L561.0,436.0 L561.2,431.5 L561.5,436.6 L561.7,435.9 L562.0,435.7 L562.2,435.5 L562.5,434.2 L562.7,434.8 L563.0,436.6 L563.2,436.9 L563.5,434.4 L563.7,432.9 L564.0,433.3 L564.2,433.7 L564.5,433.4 L564.7,435.3 L565.0,431.9 L565.2,436.7 L565.5,437.3 L565.7,433.9 L566.0,436.2 L566.2,435.2 L566.5,433.9 L566.7,436.5 L567.0,433.8 L567.2,432.8 L567.5,436.5 L567.7,432.7 L568.0,435.6 L568.2,433.0 L568.5,432.4 L568.7,431.9 L569.0,434.6 L569.2,437.5 L569.5,434.3 L569.7,435.8 L570.0,434.7 L570.2,433.2 L570.5,436.4 L570.7,434.5 L571.0,436.4 L571.2,433.1 L571.5,434.7 L571.7,436.7 L572.0,434.1 L572.2,433.6 L572.5,435.3 L572.7,434.1 L573.0,433.7 L573.2,433.0 L573.5,433.6 L573.7,433.4 L574.0,437.1 L574.2,432.9 L574.5,436.8 L574.7,435.2 L575.0,433.3 L575.2,432.9 L575.5,437.3 L575.7,433.7 L576.0,435.4 L576.2,433.6 L576.5,435.2 L576.7,434.6 L577.0,433.7 L577.2,434.8 L577.5,433.6 L577.7,435.2 L578.0,433.3 L578.2,435.4 L578.5,436.1 L578.7,433.8 L579.0,433.2 L579.2,436.6 L579.5,434.6 L579.7,434.1 L580.0,433.4 L580.2,437.6 L580.5,437.4 L580.7,436.4 L581.0,437.1 L581.2,434.3 L581.5,433.9 L581.7,432.1 L582.0,435.3 L582.2,434.0 L582.5,434.8 L582.7,435.7 L583.0,432.1 L583.2,434.3 L583.5,434.5 L583.7,434.9 L584.0,436.2 L584.2,436.2 L584.5,432.4 L584.7,434.2 L585.0,433.7 L585.2,433.8 L585.5,437.3 L585.7,433.3 L586.0,434.4 L586.2,433.4 L586.5,434.1 L586.7,434.1 L587.0,434.5 L587.2,433.9 L587.5,435.2 L587.7,435.5 L588.0,432.6 L588.2,433.8 L588.5,435.8 L588.7,434.2 L589.0,435.9 L589.2,433.5 L589.5,435.3 L589.7,435.2 L590.0,438.1 L590.2,434.5 L590.5,434.0 L590.7,433.7 L591.0,434.2 L591.2,434.0 L591.5,433.0 L591.7,431.7 L592.0,434.4 L592.2,432.9 L592.5,432.8 L592.7,434.7 L593.0,430.8 L593.2,435.6 L593.5,432.1 L593.7,433.1 L594.0,436.5 L594.2,435.9 L594.5,435.7 L594.7,435.1 L595.0,434.0 L595.2,436.7 L595.5,434.5 L595.7,434.7 L596.0,434.2 L596.2,434.5 L596.5,432.8 L596.7,432.7 L597.0,431.3 L597.2,432.5 L597.5,433.5 L597.7,437.3 L598.0,434.2 L598.2,432.2 L598.5,434.3 L598.7,431.8 L599.0,434.3 L599.2,434.6 L599.5,433.0 L599.7,433.9 L600.0,433.5 L600.2,433.4 L600.5,435.1 L600.7,436.3 L601.0,434.9 L601.2,432.5 L601.5,434.4 L601.7,435.2 L602.0,432.2 L602.2,433.1 L602.5,433.2 L602.7,432.1 L603.0,433.3 L603.2,434.0 L603.5,434.7 L603.7,436.2 L604.0,431.5 L604.2,435.3 L604.5,434.3 L604.7,432.6 L605.0,435.2 L605.2,432.6 L605.5,434.5 L605.7,435.8 L606.0,432.1 L606.2,433.5 L606.5,433.3 L606.7,434.5 L607.0,434.5 L607.2,432.2 L607.5,435.1 L607.7,434.9 L608.0,433.8 L608.2,431.6 L608.5,433.8 L608.7,435.3 L609.0,430.6 L609.2,435.9 L609.5,433.5 L609.7,434.4 L610.0,433.2 L610.2,433.5 L610.5,434.3 L610.7,433.2 L611.0,432.0 L611.2,436.9 L611.5,434.9 L611.7,435.6 L612.0,433.7 L612.2,433.7 L612.5,434.0 L612.7,432.9 L613.0,435.7 L613.2,436.0 L613.5,434.2 L613.7,432.9 L614.0,434.1 L614.2,434.8 L614.5,432.9 L614.7,434.0 L615.0,432.8 L615.2,433.9 L615.5,435.4 L615.7,431.3 L616.0,434.8 L616.2,435.6 L616.5,432.5 L616.7,430.6 L617.0,433.4 L617.2,434.6 L617.5,431.4 L617.7,433.2 L618.0,432.6 L618.2,430.8 L618.5,431.0 L618.7,435.0 L619.0,431.8 L619.2,430.8 L619.5,433.3 L619.7,432.6 L620.0,433.3 L620.2,433.1 L620.5,430.4 L620.7,432.1 L621.0,434.8 L621.2,434.2 L621.5,435.1 L621.7,433.2 L622.0,433.8 L622.2,434.1 L622.5,431.5 L622.7,432.8 L623.0,434.9 L623.2,433.6 L623.5,435.0 L623.7,432.4 L624.0,434.7 L624.2,432.2 L624.5,431.6 L624.7,433.4 L625.0,430.7 L625.2,431.5 L625.5,434.5 L625.7,430.5 L626.0,435.1 L626.2,433.2 L626.5,432.5 L626.7,431.4 L627.0,432.9 L627.2,433.9 L627.5,431.8 L627.7,436.5 L628.0,433.9 L628.2,431.7 L628.5,432.4 L628.7,433.6 L629.0,433.9 L629.2,434.7 L629.5,433.6 L629.7,431.1 L630.0,432.9 L630.2,430.6 L630.5,430.2 L630.7,432.3 L631.0,432.5 L631.2,432.3 L631.5,432.0 L631.7,431.1 L632.0,428.9 L632.2,429.4 L632.5,430.3 L632.7,431.0 L633.0,428.9 L633.2,429.3 L633.5,427.3 L633.7,422.5 L633.9,420.0 L634.7,395.0 L635.6,300.0 L637.6,60.0 L638.1,-20.0 L638.9,-20.0 L639.4,60.0 L640.8,300.0 L641.7,395.0 L642.6,422.0 L643.0,428.9 L643.2,428.3 L643.5,428.2 L643.7,430.7 L644.0,428.9 L644.2,430.3 L644.5,432.9 L644.7,431.8 L645.0,432.9 L645.2,431.9 L645.5,432.0 L645.7,434.1 L646.0,432.4 L646.2,433.8 L646.5,431.7 L646.7,433.5 L647.0,430.7 L647.2,433.0 L647.5,433.3 L647.7,433.3 L648.0,431.1 L648.2,432.4 L648.5,431.6 L648.7,432.9 L649.0,433.3 L649.2,432.5 L649.5,432.7 L649.7,432.5 L650.0,433.7 L650.2,436.4 L650.5,434.7 L650.7,433.5 L651.0,432.9 L651.2,434.7 L651.5,431.5 L651.7,432.7 L652.0,432.0 L652.2,432.6 L652.5,432.9 L652.7,433.3 L653.0,432.8 L653.2,432.0 L653.5,436.6 L653.7,432.6 L654.0,434.4 L654.2,434.6 L654.5,434.0 L654.7,433.5 L655.0,431.1 L655.2,435.4 L655.5,434.5" fill="none" stroke="#ff0000" stroke-width="1.8" stroke-linejoin="round"/>
</g>
<rect x="37.2" y="3" width="618.4" height="490" fill="none" stroke="#000" stroke-width="3.3"/>
<line x1="37.2" y1="493" x2="37.2" y2="502.8" stroke="#000" stroke-width="3.2"/>
<line x1="88.7" y1="493" x2="88.7" y2="499.2" stroke="#000" stroke-width="2.6"/>
<line x1="140.3" y1="493" x2="140.3" y2="502.8" stroke="#000" stroke-width="3.2"/>
<line x1="191.8" y1="493" x2="191.8" y2="499.2" stroke="#000" stroke-width="2.6"/>
<line x1="243.3" y1="493" x2="243.3" y2="502.8" stroke="#000" stroke-width="3.2"/>
<line x1="294.9" y1="493" x2="294.9" y2="499.2" stroke="#000" stroke-width="2.6"/>
<line x1="346.4" y1="493" x2="346.4" y2="502.8" stroke="#000" stroke-width="3.2"/>
<line x1="397.9" y1="493" x2="397.9" y2="499.2" stroke="#000" stroke-width="2.6"/>
<line x1="449.5" y1="493" x2="449.5" y2="502.8" stroke="#000" stroke-width="3.2"/>
<line x1="501.0" y1="493" x2="501.0" y2="499.2" stroke="#000" stroke-width="2.6"/>
<line x1="552.6" y1="493" x2="552.6" y2="502.8" stroke="#000" stroke-width="3.2"/>
<line x1="604.1" y1="493" x2="604.1" y2="499.2" stroke="#000" stroke-width="2.6"/>
<line x1="655.6" y1="493" x2="655.6" y2="502.8" stroke="#000" stroke-width="3.2"/>
<polygon points="45.5,21.8 53.1,14.6 60.7,21.8 53.1,29.0" fill="#000"/>
<polygon points="222.6,18.9 229.6,12.4 236.6,18.9 229.6,25.4" fill="#000"/>
<polygon points="287.2,16.6 294.2,10.1 301.2,16.6 294.2,23.1" fill="#000"/>
<polygon points="497.2,20.0 504.0,13.5 510.8,20.0 504.0,26.5" fill="#000"/>
<polygon points="632.0,20.6 638.8,14.1 645.6,20.6 638.8,27.1" fill="#000"/>
<g>
<text x="41.0" y="529.4" font-size="25" text-anchor="middle" textLength="30" lengthAdjust="spacingAndGlyphs">20</text>
<text x="144.1" y="529.4" font-size="25" text-anchor="middle" textLength="30" lengthAdjust="spacingAndGlyphs">30</text>
<text x="247.1" y="529.4" font-size="25" text-anchor="middle" textLength="30" lengthAdjust="spacingAndGlyphs">40</text>
<text x="350.2" y="529.4" font-size="25" text-anchor="middle" textLength="30" lengthAdjust="spacingAndGlyphs">50</text>
<text x="453.3" y="529.4" font-size="25" text-anchor="middle" textLength="30" lengthAdjust="spacingAndGlyphs">60</text>
<text x="556.4" y="529.4" font-size="25" text-anchor="middle" textLength="30" lengthAdjust="spacingAndGlyphs">70</text>
<text x="659.2" y="529.4" font-size="25" text-anchor="middle" textLength="30" lengthAdjust="spacingAndGlyphs">80</text>
</g>
<text x="359.2" y="556.6" font-size="26.5" text-anchor="middle" textLength="202.5" lengthAdjust="spacingAndGlyphs">2 Theta (degrees)</text>
<text transform="translate(20.2,217.5) rotate(-90)" font-size="25.5" text-anchor="middle" textLength="163" lengthAdjust="spacingAndGlyphs">Intensity (a.u.)</text>
<text x="72" y="30.7" font-size="25" textLength="25.5" lengthAdjust="spacingAndGlyphs">Al</text>
<text x="70.5" y="56.4" font-size="24.5" textLength="70.5" lengthAdjust="spacingAndGlyphs">MgZn</text>
<text x="142.3" y="64.3" font-size="18.8" textLength="12" lengthAdjust="spacingAndGlyphs">2</text>
<g>
<text transform="translate(54.7,197.4) rotate(-90)" font-size="20" text-anchor="middle">002</text>
<text transform="translate(70.6,207.8) rotate(-90)" font-size="20" text-anchor="middle">101</text>
<text transform="translate(195.0,204.8) rotate(-90)" font-size="20" text-anchor="middle">110</text>
<text transform="translate(222.9,171.2) rotate(-90)" font-size="20" text-anchor="middle">103</text>
<text transform="translate(256.9,174.8) rotate(-90)" font-size="20" text-anchor="middle">112</text>
<text transform="translate(270.7,153.4) rotate(-90)" font-size="20" text-anchor="middle">201</text>
<text transform="translate(277.4,219.1) rotate(-90)" font-size="20" text-anchor="middle">004</text>
<text transform="translate(310.7,216.1) rotate(-90)" font-size="20" text-anchor="middle">202</text>
<text transform="translate(327.9,231.1) rotate(-90)" font-size="20" text-anchor="middle">104</text>
<text transform="translate(373.4,226.8) rotate(-90)" font-size="20" text-anchor="middle">203</text>
<text transform="translate(392.5,234.2) rotate(-90)" font-size="20" text-anchor="middle">210</text>
<text transform="translate(493.2,227.2) rotate(-90)" font-size="20" text-anchor="middle">213</text>
<text transform="translate(521.3,223.1) rotate(-90)" font-size="20" text-anchor="middle">302</text>
<text transform="translate(549.7,223.1) rotate(-90)" font-size="20" text-anchor="middle">205</text>
<text transform="translate(570.5,226.2) rotate(-90)" font-size="20" text-anchor="middle">214</text>
<text transform="translate(589.5,218.6) rotate(-90)" font-size="20" text-anchor="middle">220</text>
<text transform="translate(252.3,23.9) rotate(-90)" font-size="20" text-anchor="middle">111</text>
<text transform="translate(317.2,24.3) rotate(-90)" font-size="20" text-anchor="middle">200</text>
<text transform="translate(527.4,24.0) rotate(-90)" font-size="20" text-anchor="middle">220</text>
<text transform="translate(627.6,23.9) rotate(-90)" font-size="20" text-anchor="middle">311</text>
</g>
<g>
<text class="a" x="47.2" y="244.1">*</text>
<text class="a" x="62.2" y="253.9">*</text>
<text class="a" x="188.6" y="243.7">*</text>
<text class="a" x="217.9" y="208.6">*</text>
<text class="a" x="249.3" y="214.4">*</text>
<text class="a" x="259.1" y="215.8">*</text>
<text class="a" x="270.5" y="258.3">*</text>
<text class="a" x="302.2" y="254.3">*</text>
<text class="a" x="319.7" y="271.6">*</text>
<text class="a" x="366.2" y="273.1">*</text>
<text class="a" x="385.2" y="279.3">*</text>
<text class="a" x="487.3" y="271.3">*</text>
<text class="a" x="512.4" y="268.7">*</text>
<text class="a" x="544.2" y="264.9">*</text>
<text class="a" x="562.5" y="272.2">*</text>
<text class="a" x="580.2" y="265.8">*</text>
<text class="a" x="188.5" y="428.7">*</text>
<text class="a" x="217.5" y="396.2">*</text>
<text class="a" x="242.7" y="406.3">*</text>
<text class="a" x="250.2" y="401.6">*</text>
<text class="a" x="260.4" y="418.7">*</text>
<text class="a" x="269.9" y="427.0">*</text>
<text class="a" x="301.4" y="423.9">*</text>
<text class="a" x="511.9" y="429.5">*</text>
<text class="a" x="53.5" y="62.1">*</text>
</g>
<text class="b" x="67" y="303.7" font-size="20" textLength="101" lengthAdjust="spacingAndGlyphs">Composite</text>
<text class="r" x="39.6" y="356.3" font-size="20" textLength="147" lengthAdjust="spacingAndGlyphs">Sintered Al7075</text>
<text class="b" x="41" y="410.6" font-size="20" textLength="174" lengthAdjust="spacingAndGlyphs">Composite powder</text>
<text class="r" x="48.4" y="462.6" font-size="20" textLength="138" lengthAdjust="spacingAndGlyphs">Al7075 powder</text>
</svg>
</body></html>
